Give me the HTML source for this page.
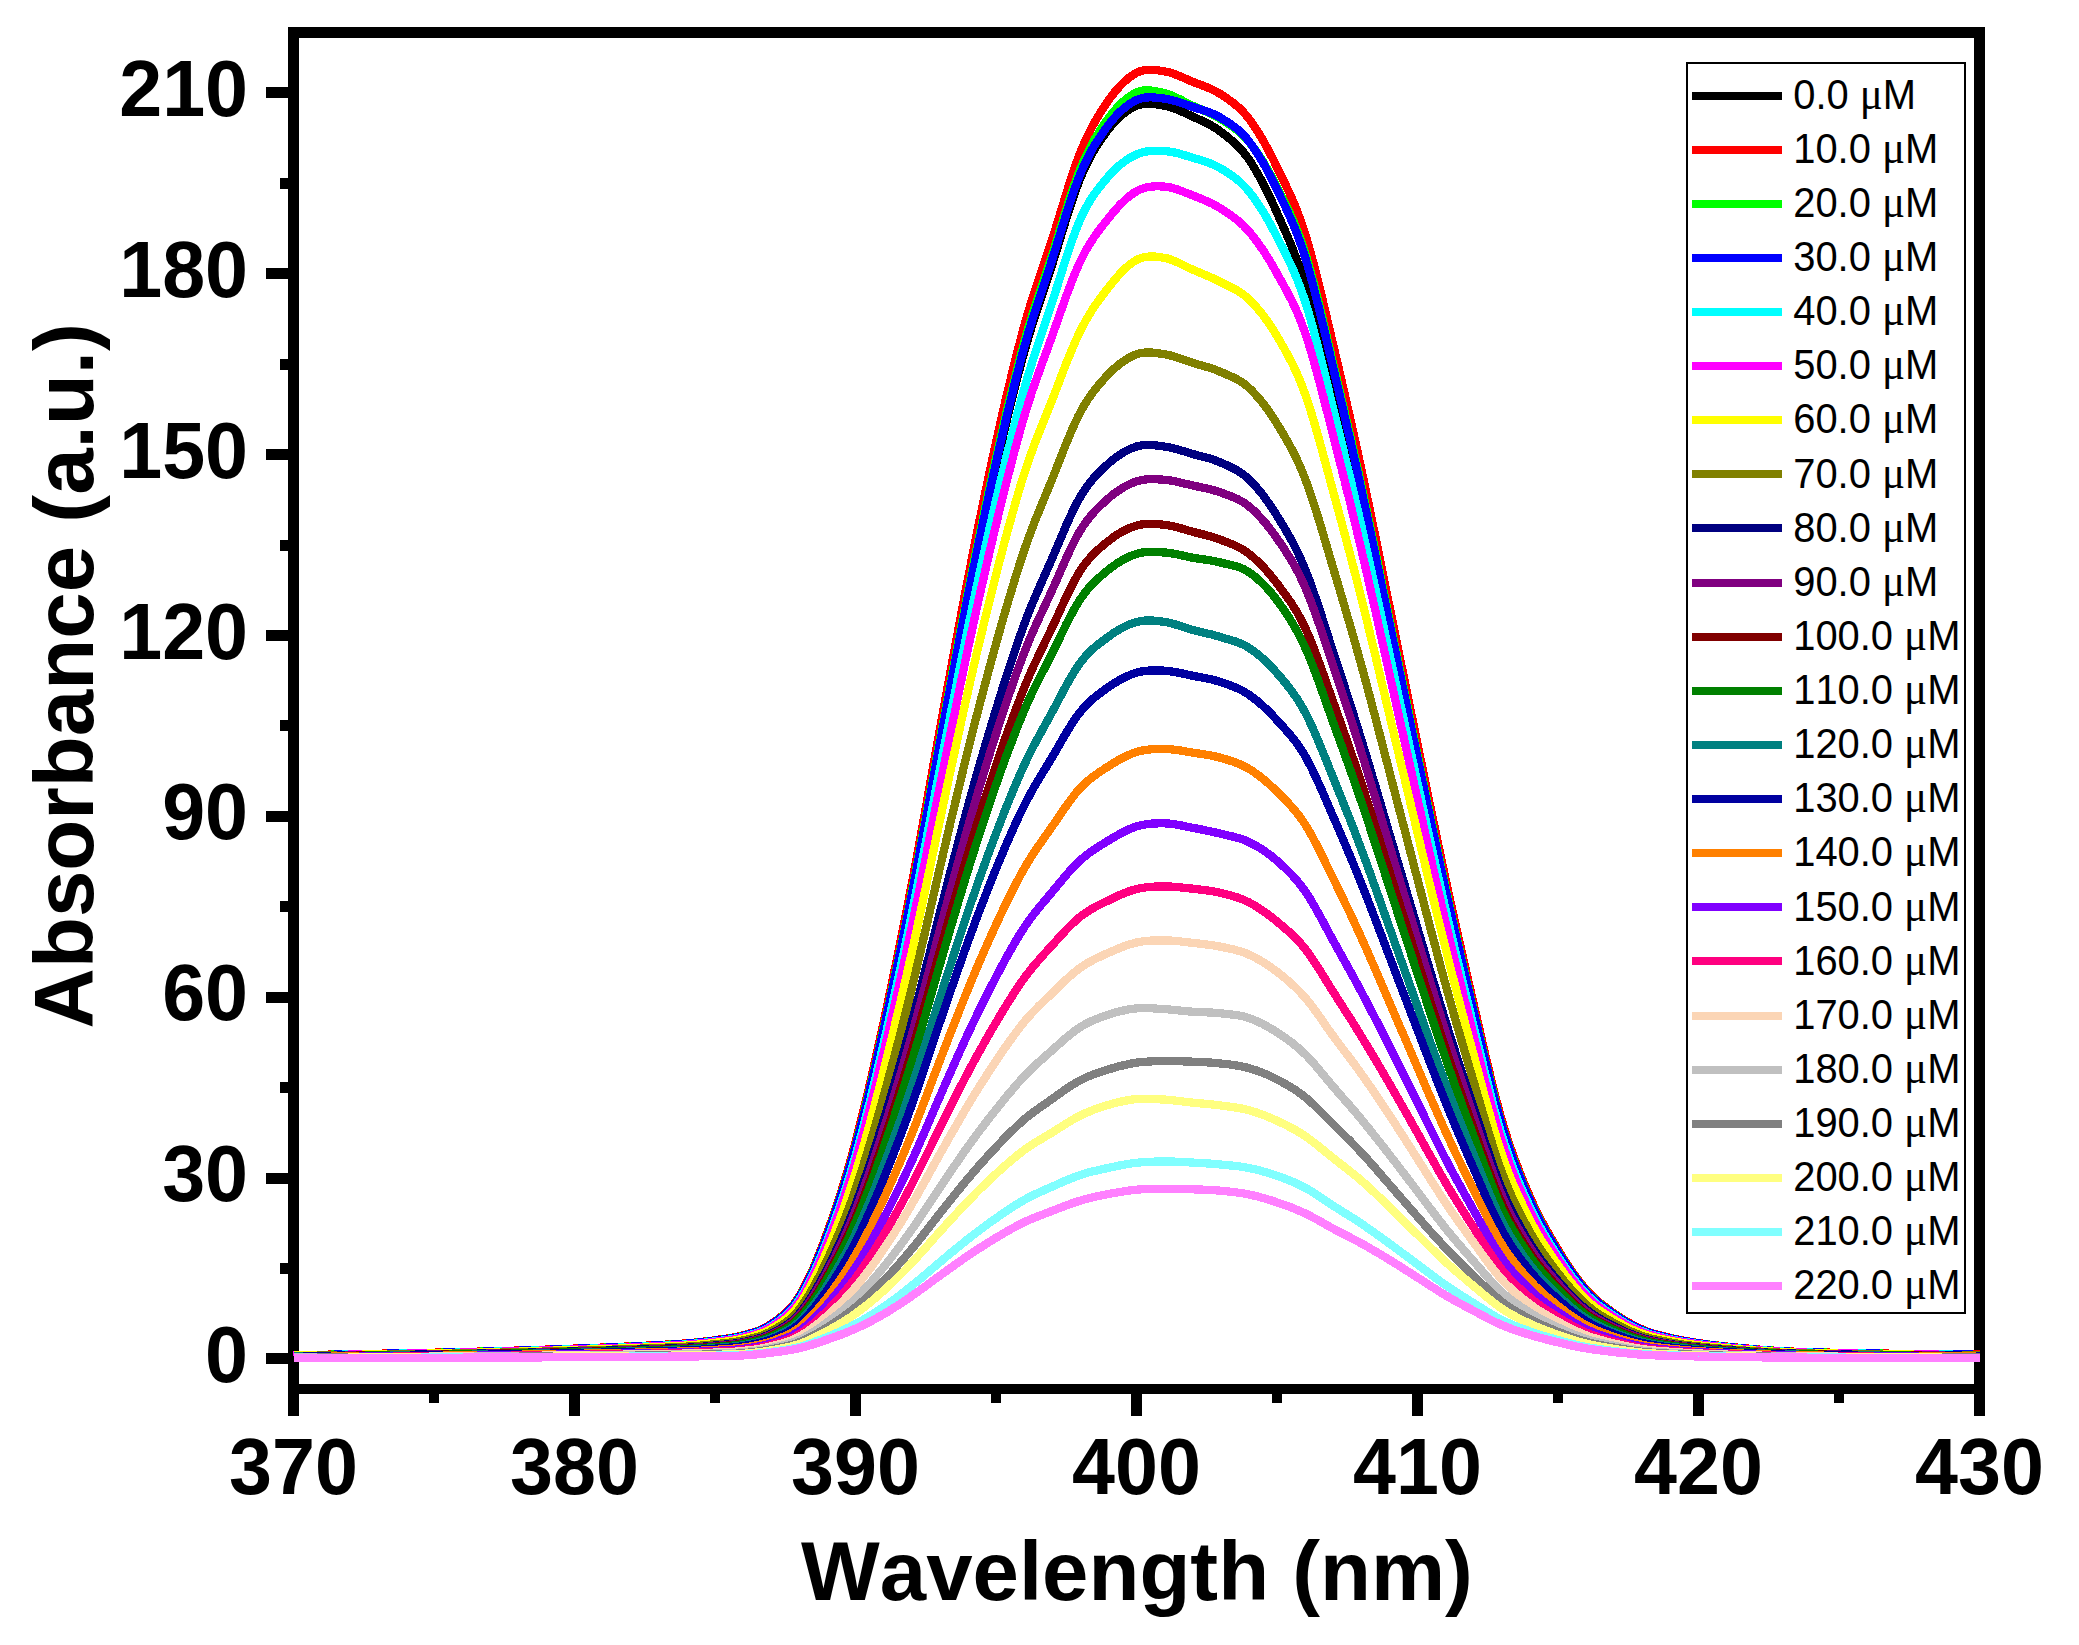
<!DOCTYPE html>
<html><head><meta charset="utf-8"><title>Absorbance spectra</title>
<style>html,body{margin:0;padding:0;background:#fff}svg{display:block}text{font-kerning:none;font-variant-ligatures:none}</style></head>
<body>
<svg width="2079" height="1645" viewBox="0 0 2079 1645">
<rect width="2079" height="1645" fill="#fff"/>
<g fill="#000" shape-rendering="crispEdges">
<rect x="288" y="27" width="1697" height="11"/>
<rect x="288" y="1384" width="1697" height="10"/>
<rect x="288" y="27" width="11" height="1367"/>
<rect x="1974" y="27" width="11" height="1367"/>
<rect x="266" y="1353" width="23" height="11"/>
<rect x="266" y="1173" width="23" height="11"/>
<rect x="266" y="992" width="23" height="11"/>
<rect x="266" y="811" width="23" height="11"/>
<rect x="266" y="630" width="23" height="11"/>
<rect x="266" y="449" width="23" height="11"/>
<rect x="266" y="268" width="23" height="11"/>
<rect x="266" y="87" width="23" height="11"/>
<rect x="280" y="1263" width="9" height="11"/>
<rect x="280" y="1082" width="9" height="11"/>
<rect x="280" y="901" width="9" height="11"/>
<rect x="280" y="720" width="9" height="11"/>
<rect x="280" y="540" width="9" height="11"/>
<rect x="280" y="359" width="9" height="11"/>
<rect x="280" y="178" width="9" height="11"/>
<rect x="288" y="1390" width="11" height="26"/>
<rect x="569" y="1390" width="11" height="26"/>
<rect x="850" y="1390" width="11" height="26"/>
<rect x="1131" y="1390" width="11" height="26"/>
<rect x="1412" y="1390" width="11" height="26"/>
<rect x="1693" y="1390" width="11" height="26"/>
<rect x="1974" y="1390" width="11" height="26"/>
<rect x="429" y="1390" width="10" height="13"/>
<rect x="710" y="1390" width="10" height="13"/>
<rect x="991" y="1390" width="10" height="13"/>
<rect x="1272" y="1390" width="10" height="13"/>
<rect x="1553" y="1390" width="10" height="13"/>
<rect x="1834" y="1390" width="10" height="13"/>
</g>
<clipPath id="c"><rect x="293" y="20" width="1687" height="1380"/></clipPath>
<g clip-path="url(#c)" fill="none" stroke-width="8.3" stroke-linejoin="round" shape-rendering="crispEdges">
<polyline stroke="#000000" points="293.5,1355.2 296.3,1355.2 299.1,1355.2 301.9,1355.1 304.7,1355.1 307.6,1355.1 310.4,1355.0 313.2,1355.0 316.0,1354.9 318.8,1354.9 321.6,1354.9 324.4,1354.8 327.2,1354.8 330.0,1354.7 332.8,1354.7 335.6,1354.6 338.5,1354.6 341.3,1354.5 344.1,1354.5 346.9,1354.4 349.7,1354.4 352.5,1354.3 355.3,1354.3 358.1,1354.2 360.9,1354.2 363.8,1354.1 366.6,1354.1 369.4,1354.0 372.2,1354.0 375.0,1353.9 377.8,1353.9 380.6,1353.8 383.4,1353.8 386.2,1353.7 389.0,1353.7 391.9,1353.6 394.7,1353.6 397.5,1353.5 400.3,1353.5 403.1,1353.4 405.9,1353.4 408.7,1353.3 411.5,1353.3 414.3,1353.2 417.1,1353.2 419.9,1353.1 422.8,1353.1 425.6,1353.0 428.4,1353.0 431.2,1352.9 434.0,1352.9 436.8,1352.8 439.6,1352.7 442.4,1352.7 445.2,1352.6 448.1,1352.6 450.9,1352.5 453.7,1352.4 456.5,1352.4 459.3,1352.3 462.1,1352.2 464.9,1352.2 467.7,1352.1 470.5,1352.0 473.3,1351.9 476.1,1351.9 479.0,1351.8 481.8,1351.7 484.6,1351.6 487.4,1351.6 490.2,1351.5 493.0,1351.4 495.8,1351.3 498.6,1351.3 501.4,1351.2 504.2,1351.1 507.1,1351.0 509.9,1351.0 512.7,1350.9 515.5,1350.8 518.3,1350.7 521.1,1350.6 523.9,1350.6 526.7,1350.5 529.5,1350.4 532.4,1350.3 535.2,1350.2 538.0,1350.1 540.8,1350.0 543.6,1349.9 546.4,1349.8 549.2,1349.8 552.0,1349.7 554.8,1349.6 557.6,1349.5 560.5,1349.4 563.3,1349.3 566.1,1349.1 568.9,1349.0 571.7,1348.9 574.5,1348.8 577.3,1348.7 580.1,1348.6 582.9,1348.5 585.7,1348.4 588.5,1348.4 591.4,1348.3 594.2,1348.2 597.0,1348.1 599.8,1347.9 602.6,1347.8 605.4,1347.7 608.2,1347.6 611.0,1347.5 613.8,1347.4 616.7,1347.3 619.5,1347.2 622.3,1347.1 625.1,1347.0 627.9,1346.8 630.7,1346.7 633.5,1346.6 636.3,1346.5 639.1,1346.3 641.9,1346.2 644.8,1346.1 647.6,1345.9 650.4,1345.8 653.2,1345.6 656.0,1345.5 658.8,1345.3 661.6,1345.2 664.4,1345.0 667.2,1344.9 670.0,1344.8 672.9,1344.6 675.7,1344.5 678.5,1344.3 681.3,1344.1 684.1,1343.9 686.9,1343.7 689.7,1343.5 692.5,1343.2 695.3,1343.0 698.1,1342.7 701.0,1342.4 703.8,1342.1 706.6,1341.8 709.4,1341.4 712.2,1341.1 715.0,1340.7 717.8,1340.3 720.6,1340.0 723.4,1339.6 726.2,1339.2 729.0,1338.8 731.9,1338.4 734.7,1337.9 737.5,1337.3 740.3,1336.7 743.1,1335.9 745.9,1335.2 748.7,1334.4 751.5,1333.6 754.3,1332.7 757.2,1331.8 760.0,1330.8 762.8,1329.6 765.6,1328.2 768.4,1326.7 771.2,1324.9 774.0,1323.0 776.8,1321.0 779.6,1319.0 782.4,1316.8 785.2,1314.5 788.1,1311.8 790.9,1308.9 793.7,1305.6 796.5,1301.9 799.3,1297.7 802.1,1293.0 804.9,1287.9 807.7,1282.4 810.5,1276.6 813.4,1270.4 816.2,1263.9 819.0,1257.2 821.8,1250.2 824.6,1243.0 827.4,1235.6 830.2,1228.0 833.0,1220.1 835.8,1212.1 838.6,1203.7 841.5,1195.1 844.3,1186.2 847.1,1177.1 849.9,1167.6 852.7,1157.9 855.5,1147.8 858.3,1137.4 861.1,1126.6 863.9,1115.5 866.7,1104.1 869.6,1092.4 872.4,1080.5 875.2,1068.4 878.0,1056.1 880.8,1043.7 883.6,1031.2 886.4,1018.6 889.2,1005.8 892.0,992.8 894.8,979.6 897.6,966.3 900.5,952.7 903.3,939.1 906.1,925.2 908.9,911.2 911.7,897.0 914.5,882.6 917.3,867.9 920.1,853.0 922.9,837.9 925.8,822.6 928.6,807.3 931.4,792.0 934.2,776.7 937.0,761.5 939.8,746.6 942.6,731.7 945.4,716.8 948.2,701.8 951.0,687.0 953.9,672.1 956.7,657.4 959.5,642.7 962.3,628.3 965.1,614.0 967.9,599.9 970.7,585.9 973.5,572.1 976.3,558.4 979.1,544.8 982.0,531.4 984.8,518.1 987.6,505.0 990.4,492.1 993.2,479.4 996.0,466.9 998.8,454.6 1001.6,442.4 1004.4,430.4 1007.2,418.5 1010.1,406.9 1012.9,395.4 1015.7,384.2 1018.5,373.3 1021.3,362.7 1024.1,352.4 1026.9,342.5 1029.7,333.1 1032.5,324.0 1035.3,315.2 1038.2,306.7 1041.0,298.3 1043.8,289.9 1046.6,281.6 1049.4,273.1 1052.2,264.5 1055.0,255.7 1057.8,246.6 1060.6,237.4 1063.4,228.1 1066.2,219.0 1069.1,210.0 1071.9,201.4 1074.7,193.1 1077.5,185.4 1080.3,178.3 1083.1,171.8 1085.9,165.7 1088.7,160.1 1091.5,154.8 1094.3,149.9 1097.2,145.3 1100.0,141.0 1102.8,136.9 1105.6,133.1 1108.4,129.4 1111.2,125.9 1114.0,122.7 1116.8,119.7 1119.6,117.0 1122.5,114.5 1125.3,112.3 1128.1,110.3 1130.9,108.6 1133.7,107.1 1136.5,105.8 1139.3,104.8 1142.1,104.1 1144.9,103.7 1147.7,103.6 1150.6,103.6 1153.4,103.9 1156.2,104.3 1159.0,104.7 1161.8,105.3 1164.6,105.8 1167.4,106.4 1170.2,107.2 1173.0,108.1 1175.8,109.1 1178.7,110.3 1181.5,111.4 1184.3,112.7 1187.1,114.0 1189.9,115.3 1192.7,116.6 1195.5,117.9 1198.3,119.2 1201.1,120.4 1203.9,121.8 1206.8,123.1 1209.6,124.6 1212.4,126.2 1215.2,127.9 1218.0,129.7 1220.8,131.8 1223.6,133.9 1226.4,136.1 1229.2,138.4 1232.0,140.7 1234.8,143.3 1237.7,146.0 1240.5,148.9 1243.3,152.1 1246.1,155.6 1248.9,159.5 1251.7,163.7 1254.5,168.2 1257.3,173.0 1260.1,178.1 1263.0,183.4 1265.8,188.9 1268.6,194.6 1271.4,200.5 1274.2,206.6 1277.0,212.7 1279.8,219.0 1282.6,225.3 1285.4,231.7 1288.2,238.2 1291.1,245.0 1293.9,252.1 1296.7,259.5 1299.5,267.2 1302.3,275.5 1305.1,284.2 1307.9,293.6 1310.7,303.5 1313.5,313.9 1316.3,324.7 1319.2,335.8 1322.0,347.1 1324.8,358.6 1327.6,370.2 1330.4,381.7 1333.2,393.1 1336.0,404.5 1338.8,415.9 1341.6,427.4 1344.4,439.1 1347.2,450.8 1350.1,462.6 1352.9,474.5 1355.7,486.5 1358.5,498.7 1361.3,511.0 1364.1,523.5 1366.9,536.2 1369.7,549.0 1372.5,562.0 1375.4,575.1 1378.2,588.2 1381.0,601.4 1383.8,614.5 1386.6,627.6 1389.4,640.7 1392.2,653.6 1395.0,666.6 1397.8,679.6 1400.6,692.6 1403.5,705.6 1406.3,718.6 1409.1,731.6 1411.9,744.5 1414.7,757.4 1417.5,770.3 1420.3,783.1 1423.1,796.0 1425.9,808.8 1428.7,821.6 1431.5,834.4 1434.4,847.1 1437.2,859.8 1440.0,872.3 1442.8,884.8 1445.6,897.1 1448.4,909.3 1451.2,921.4 1454.0,933.4 1456.8,945.3 1459.7,957.1 1462.5,968.9 1465.3,980.6 1468.1,992.2 1470.9,1003.7 1473.7,1015.2 1476.5,1026.8 1479.3,1038.5 1482.1,1050.3 1484.9,1062.1 1487.8,1073.7 1490.6,1085.1 1493.4,1096.2 1496.2,1106.9 1499.0,1117.1 1501.8,1126.7 1504.6,1135.7 1507.4,1144.3 1510.2,1152.5 1513.0,1160.2 1515.9,1167.7 1518.7,1174.8 1521.5,1181.6 1524.3,1188.3 1527.1,1194.8 1529.9,1201.1 1532.7,1207.2 1535.5,1213.1 1538.3,1218.6 1541.1,1223.9 1544.0,1229.0 1546.8,1234.0 1549.6,1238.7 1552.4,1243.4 1555.2,1248.0 1558.0,1252.5 1560.8,1257.0 1563.6,1261.4 1566.4,1265.6 1569.2,1269.7 1572.0,1273.7 1574.9,1277.6 1577.7,1281.3 1580.5,1284.8 1583.3,1288.2 1586.1,1291.4 1588.9,1294.4 1591.7,1297.2 1594.5,1299.8 1597.3,1302.2 1600.2,1304.5 1603.0,1306.6 1605.8,1308.7 1608.6,1310.7 1611.4,1312.7 1614.2,1314.6 1617.0,1316.5 1619.8,1318.3 1622.6,1320.1 1625.4,1321.8 1628.2,1323.4 1631.1,1324.9 1633.9,1326.4 1636.7,1327.8 1639.5,1329.1 1642.3,1330.3 1645.1,1331.4 1647.9,1332.4 1650.7,1333.4 1653.5,1334.2 1656.4,1335.0 1659.2,1335.8 1662.0,1336.5 1664.8,1337.1 1667.6,1337.8 1670.4,1338.4 1673.2,1339.1 1676.0,1339.7 1678.8,1340.2 1681.6,1340.7 1684.5,1341.2 1687.3,1341.7 1690.1,1342.2 1692.9,1342.6 1695.7,1343.0 1698.5,1343.5 1701.3,1343.9 1704.1,1344.2 1706.9,1344.6 1709.7,1345.0 1712.6,1345.3 1715.4,1345.6 1718.2,1345.9 1721.0,1346.2 1723.8,1346.5 1726.6,1346.8 1729.4,1347.1 1732.2,1347.4 1735.0,1347.7 1737.8,1348.0 1740.7,1348.2 1743.5,1348.5 1746.3,1348.8 1749.1,1349.0 1751.9,1349.2 1754.7,1349.5 1757.5,1349.7 1760.3,1349.9 1763.1,1350.1 1765.9,1350.3 1768.8,1350.5 1771.6,1350.7 1774.4,1350.9 1777.2,1351.0 1780.0,1351.2 1782.8,1351.4 1785.6,1351.5 1788.4,1351.6 1791.2,1351.7 1794.0,1351.8 1796.9,1351.9 1799.7,1352.0 1802.5,1352.1 1805.3,1352.2 1808.1,1352.3 1810.9,1352.4 1813.7,1352.4 1816.5,1352.5 1819.3,1352.6 1822.1,1352.6 1825.0,1352.7 1827.8,1352.8 1830.6,1352.8 1833.4,1352.9 1836.2,1352.9 1839.0,1353.0 1841.8,1353.0 1844.6,1353.1 1847.4,1353.1 1850.2,1353.2 1853.1,1353.2 1855.9,1353.3 1858.7,1353.3 1861.5,1353.4 1864.3,1353.4 1867.1,1353.5 1869.9,1353.5 1872.7,1353.6 1875.5,1353.6 1878.3,1353.6 1881.2,1353.7 1884.0,1353.7 1886.8,1353.8 1889.6,1353.8 1892.4,1353.8 1895.2,1353.9 1898.0,1353.9 1900.8,1353.9 1903.6,1354.0 1906.4,1354.0 1909.2,1354.1 1912.1,1354.1 1914.9,1354.1 1917.7,1354.2 1920.5,1354.2 1923.3,1354.2 1926.1,1354.3 1928.9,1354.3 1931.7,1354.3 1934.5,1354.3 1937.4,1354.4 1940.2,1354.4 1943.0,1354.4 1945.8,1354.4 1948.6,1354.5 1951.4,1354.5 1954.2,1354.5 1957.0,1354.5 1959.8,1354.6 1962.6,1354.6 1965.5,1354.6 1968.3,1354.6 1971.1,1354.7 1973.9,1354.7 1976.7,1354.7 1979.5,1354.7"/>
<polyline stroke="#FF0000" points="293.5,1355.2 296.3,1355.1 299.1,1355.1 301.9,1355.0 304.7,1355.0 307.6,1355.0 310.4,1354.9 313.2,1354.9 316.0,1354.8 318.8,1354.8 321.6,1354.8 324.4,1354.7 327.2,1354.7 330.0,1354.6 332.8,1354.6 335.6,1354.5 338.5,1354.5 341.3,1354.4 344.1,1354.4 346.9,1354.3 349.7,1354.2 352.5,1354.2 355.3,1354.1 358.1,1354.1 360.9,1354.0 363.8,1354.0 366.6,1353.9 369.4,1353.9 372.2,1353.8 375.0,1353.8 377.8,1353.7 380.6,1353.7 383.4,1353.6 386.2,1353.6 389.0,1353.5 391.9,1353.5 394.7,1353.4 397.5,1353.4 400.3,1353.3 403.1,1353.3 405.9,1353.2 408.7,1353.2 411.5,1353.1 414.3,1353.1 417.1,1353.0 419.9,1353.0 422.8,1352.9 425.6,1352.9 428.4,1352.8 431.2,1352.8 434.0,1352.7 436.8,1352.6 439.6,1352.6 442.4,1352.5 445.2,1352.5 448.1,1352.4 450.9,1352.3 453.7,1352.3 456.5,1352.2 459.3,1352.1 462.1,1352.1 464.9,1352.0 467.7,1351.9 470.5,1351.8 473.3,1351.8 476.1,1351.7 479.0,1351.6 481.8,1351.5 484.6,1351.4 487.4,1351.4 490.2,1351.3 493.0,1351.2 495.8,1351.1 498.6,1351.1 501.4,1351.0 504.2,1350.9 507.1,1350.8 509.9,1350.8 512.7,1350.7 515.5,1350.6 518.3,1350.5 521.1,1350.4 523.9,1350.3 526.7,1350.3 529.5,1350.2 532.4,1350.1 535.2,1350.0 538.0,1349.9 540.8,1349.8 543.6,1349.7 546.4,1349.6 549.2,1349.5 552.0,1349.4 554.8,1349.3 557.6,1349.2 560.5,1349.1 563.3,1349.0 566.1,1348.9 568.9,1348.8 571.7,1348.7 574.5,1348.6 577.3,1348.5 580.1,1348.4 582.9,1348.3 585.7,1348.2 588.5,1348.1 591.4,1348.0 594.2,1347.9 597.0,1347.8 599.8,1347.7 602.6,1347.5 605.4,1347.4 608.2,1347.3 611.0,1347.2 613.8,1347.1 616.7,1347.0 619.5,1346.9 622.3,1346.8 625.1,1346.6 627.9,1346.5 630.7,1346.4 633.5,1346.3 636.3,1346.1 639.1,1346.0 641.9,1345.9 644.8,1345.7 647.6,1345.6 650.4,1345.4 653.2,1345.3 656.0,1345.1 658.8,1345.0 661.6,1344.8 664.4,1344.7 667.2,1344.5 670.0,1344.4 672.9,1344.2 675.7,1344.1 678.5,1343.9 681.3,1343.7 684.1,1343.5 686.9,1343.3 689.7,1343.1 692.5,1342.8 695.3,1342.5 698.1,1342.2 701.0,1342.0 703.8,1341.6 706.6,1341.3 709.4,1341.0 712.2,1340.6 715.0,1340.2 717.8,1339.8 720.6,1339.4 723.4,1339.1 726.2,1338.7 729.0,1338.3 731.9,1337.8 734.7,1337.3 737.5,1336.7 740.3,1336.1 743.1,1335.3 745.9,1334.5 748.7,1333.7 751.5,1332.9 754.3,1332.0 757.2,1331.1 760.0,1330.0 762.8,1328.8 765.6,1327.4 768.4,1325.8 771.2,1324.0 774.0,1322.0 776.8,1320.0 779.6,1317.9 782.4,1315.7 785.2,1313.3 788.1,1310.6 790.9,1307.6 793.7,1304.2 796.5,1300.3 799.3,1296.0 802.1,1291.2 804.9,1286.0 807.7,1280.3 810.5,1274.4 813.4,1268.0 816.2,1261.4 819.0,1254.4 821.8,1247.3 824.6,1239.9 827.4,1232.2 830.2,1224.4 833.0,1216.4 835.8,1208.1 838.6,1199.5 841.5,1190.7 844.3,1181.5 847.1,1172.1 849.9,1162.4 852.7,1152.4 855.5,1142.1 858.3,1131.4 861.1,1120.3 863.9,1108.9 866.7,1097.1 869.6,1085.1 872.4,1072.9 875.2,1060.5 878.0,1047.8 880.8,1035.1 883.6,1022.3 886.4,1009.3 889.2,996.1 892.0,982.7 894.8,969.2 897.6,955.5 900.5,941.6 903.3,927.6 906.1,913.3 908.9,898.9 911.7,884.4 914.5,869.6 917.3,854.5 920.1,839.1 922.9,823.6 925.8,807.9 928.6,792.2 931.4,776.4 934.2,760.7 937.0,745.2 939.8,729.8 942.6,714.5 945.4,699.2 948.2,683.9 951.0,668.6 953.9,653.3 956.7,638.2 959.5,623.1 962.3,608.2 965.1,593.6 967.9,579.1 970.7,564.7 973.5,550.5 976.3,536.4 979.1,522.4 982.0,508.6 984.8,495.0 987.6,481.5 990.4,468.3 993.2,455.3 996.0,442.5 998.8,429.9 1001.6,417.5 1004.4,405.3 1007.2,393.2 1010.1,381.4 1012.9,369.8 1015.7,358.5 1018.5,347.5 1021.3,336.8 1024.1,326.4 1026.9,316.6 1029.7,307.2 1032.5,298.2 1035.3,289.5 1038.2,281.1 1041.0,272.8 1043.8,264.6 1046.6,256.3 1049.4,248.0 1052.2,239.4 1055.0,230.5 1057.8,221.4 1060.6,212.2 1063.4,203.0 1066.2,193.8 1069.1,184.7 1071.9,176.0 1074.7,167.7 1077.5,159.8 1080.3,152.5 1083.1,145.8 1085.9,139.5 1088.7,133.6 1091.5,128.0 1094.3,122.8 1097.2,117.9 1100.0,113.2 1102.8,108.8 1105.6,104.6 1108.4,100.5 1111.2,96.6 1114.0,93.0 1116.8,89.6 1119.6,86.4 1122.5,83.5 1125.3,80.8 1128.1,78.4 1130.9,76.3 1133.7,74.4 1136.5,72.8 1139.3,71.6 1142.1,70.7 1144.9,70.1 1147.7,69.8 1150.6,69.7 1153.4,69.8 1156.2,70.1 1159.0,70.5 1161.8,70.9 1164.6,71.4 1167.4,71.9 1170.2,72.6 1173.0,73.5 1175.8,74.6 1178.7,75.7 1181.5,76.9 1184.3,78.1 1187.1,79.4 1189.9,80.6 1192.7,81.8 1195.5,82.9 1198.3,84.0 1201.1,85.0 1203.9,86.1 1206.8,87.2 1209.6,88.3 1212.4,89.6 1215.2,91.0 1218.0,92.6 1220.8,94.3 1223.6,96.2 1226.4,98.0 1229.2,100.0 1232.0,102.0 1234.8,104.2 1237.7,106.6 1240.5,109.2 1243.3,112.1 1246.1,115.2 1248.9,118.7 1251.7,122.5 1254.5,126.6 1257.3,130.9 1260.1,135.5 1263.0,140.3 1265.8,145.4 1268.6,150.6 1271.4,156.0 1274.2,161.6 1277.0,167.3 1279.8,173.0 1282.6,178.7 1285.4,184.5 1288.2,190.4 1291.1,196.6 1293.9,203.1 1296.7,209.9 1299.5,217.3 1302.3,225.2 1305.1,233.7 1307.9,243.0 1310.7,252.9 1313.5,263.4 1316.3,274.3 1319.2,285.7 1322.0,297.3 1324.8,309.1 1327.6,321.1 1330.4,333.0 1333.2,344.9 1336.0,356.7 1338.8,368.7 1341.6,380.8 1344.4,393.0 1347.2,405.4 1350.1,417.9 1352.9,430.5 1355.7,443.3 1358.5,456.1 1361.3,469.1 1364.1,482.3 1366.9,495.7 1369.7,509.3 1372.5,523.0 1375.4,536.8 1378.2,550.7 1381.0,564.6 1383.8,578.5 1386.6,592.3 1389.4,606.1 1392.2,619.9 1395.0,633.7 1397.8,647.5 1400.6,661.3 1403.5,675.2 1406.3,689.0 1409.1,702.8 1411.9,716.6 1414.7,730.3 1417.5,744.0 1420.3,757.7 1423.1,771.4 1425.9,785.1 1428.7,798.8 1431.5,812.4 1434.4,826.0 1437.2,839.5 1440.0,852.9 1442.8,866.1 1445.6,879.2 1448.4,892.2 1451.2,905.0 1454.0,917.8 1456.8,930.4 1459.7,942.9 1462.5,955.4 1465.3,967.7 1468.1,980.0 1470.9,992.1 1473.7,1004.2 1476.5,1016.4 1479.3,1028.6 1482.1,1040.9 1484.9,1053.1 1487.8,1065.2 1490.6,1077.0 1493.4,1088.6 1496.2,1099.6 1499.0,1110.2 1501.8,1120.2 1504.6,1129.5 1507.4,1138.4 1510.2,1146.8 1513.0,1154.8 1515.9,1162.4 1518.7,1169.8 1521.5,1176.8 1524.3,1183.6 1527.1,1190.3 1529.9,1196.8 1532.7,1203.1 1535.5,1209.1 1538.3,1214.8 1541.1,1220.3 1544.0,1225.5 1546.8,1230.6 1549.6,1235.5 1552.4,1240.3 1555.2,1245.0 1558.0,1249.6 1560.8,1254.2 1563.6,1258.7 1566.4,1263.1 1569.2,1267.3 1572.0,1271.4 1574.9,1275.4 1577.7,1279.2 1580.5,1282.8 1583.3,1286.3 1586.1,1289.6 1588.9,1292.6 1591.7,1295.5 1594.5,1298.2 1597.3,1300.6 1600.2,1303.0 1603.0,1305.2 1605.8,1307.3 1608.6,1309.4 1611.4,1311.4 1614.2,1313.4 1617.0,1315.4 1619.8,1317.2 1622.6,1319.1 1625.4,1320.8 1628.2,1322.4 1631.1,1324.0 1633.9,1325.5 1636.7,1326.9 1639.5,1328.3 1642.3,1329.5 1645.1,1330.7 1647.9,1331.7 1650.7,1332.7 1653.5,1333.6 1656.4,1334.4 1659.2,1335.1 1662.0,1335.9 1664.8,1336.5 1667.6,1337.2 1670.4,1337.9 1673.2,1338.5 1676.0,1339.2 1678.8,1339.7 1681.6,1340.3 1684.5,1340.8 1687.3,1341.3 1690.1,1341.7 1692.9,1342.2 1695.7,1342.6 1698.5,1343.0 1701.3,1343.5 1704.1,1343.9 1706.9,1344.2 1709.7,1344.6 1712.6,1344.9 1715.4,1345.3 1718.2,1345.6 1721.0,1345.9 1723.8,1346.2 1726.6,1346.5 1729.4,1346.8 1732.2,1347.1 1735.0,1347.4 1737.8,1347.7 1740.7,1348.0 1743.5,1348.2 1746.3,1348.5 1749.1,1348.7 1751.9,1349.0 1754.7,1349.2 1757.5,1349.5 1760.3,1349.7 1763.1,1349.9 1765.9,1350.1 1768.8,1350.3 1771.6,1350.5 1774.4,1350.7 1777.2,1350.8 1780.0,1351.0 1782.8,1351.2 1785.6,1351.3 1788.4,1351.4 1791.2,1351.5 1794.0,1351.7 1796.9,1351.8 1799.7,1351.8 1802.5,1351.9 1805.3,1352.0 1808.1,1352.1 1810.9,1352.2 1813.7,1352.3 1816.5,1352.3 1819.3,1352.4 1822.1,1352.5 1825.0,1352.5 1827.8,1352.6 1830.6,1352.7 1833.4,1352.7 1836.2,1352.8 1839.0,1352.8 1841.8,1352.9 1844.6,1352.9 1847.4,1353.0 1850.2,1353.1 1853.1,1353.1 1855.9,1353.2 1858.7,1353.2 1861.5,1353.3 1864.3,1353.3 1867.1,1353.3 1869.9,1353.4 1872.7,1353.4 1875.5,1353.5 1878.3,1353.5 1881.2,1353.5 1884.0,1353.6 1886.8,1353.6 1889.6,1353.7 1892.4,1353.7 1895.2,1353.7 1898.0,1353.8 1900.8,1353.8 1903.6,1353.9 1906.4,1353.9 1909.2,1353.9 1912.1,1354.0 1914.9,1354.0 1917.7,1354.1 1920.5,1354.1 1923.3,1354.1 1926.1,1354.2 1928.9,1354.2 1931.7,1354.2 1934.5,1354.2 1937.4,1354.3 1940.2,1354.3 1943.0,1354.3 1945.8,1354.3 1948.6,1354.4 1951.4,1354.4 1954.2,1354.4 1957.0,1354.4 1959.8,1354.5 1962.6,1354.5 1965.5,1354.5 1968.3,1354.5 1971.1,1354.6 1973.9,1354.6 1976.7,1354.6 1979.5,1354.6"/>
<polyline stroke="#00FF00" points="293.5,1355.2 296.3,1355.2 299.1,1355.1 301.9,1355.1 304.7,1355.1 307.6,1355.0 310.4,1355.0 313.2,1355.0 316.0,1354.9 318.8,1354.9 321.6,1354.8 324.4,1354.8 327.2,1354.7 330.0,1354.7 332.8,1354.6 335.6,1354.6 338.5,1354.5 341.3,1354.5 344.1,1354.4 346.9,1354.4 349.7,1354.3 352.5,1354.3 355.3,1354.2 358.1,1354.2 360.9,1354.1 363.8,1354.1 366.6,1354.0 369.4,1354.0 372.2,1353.9 375.0,1353.9 377.8,1353.8 380.6,1353.8 383.4,1353.7 386.2,1353.7 389.0,1353.6 391.9,1353.6 394.7,1353.5 397.5,1353.5 400.3,1353.4 403.1,1353.4 405.9,1353.3 408.7,1353.3 411.5,1353.2 414.3,1353.2 417.1,1353.1 419.9,1353.1 422.8,1353.0 425.6,1353.0 428.4,1352.9 431.2,1352.9 434.0,1352.8 436.8,1352.7 439.6,1352.7 442.4,1352.6 445.2,1352.6 448.1,1352.5 450.9,1352.4 453.7,1352.4 456.5,1352.3 459.3,1352.2 462.1,1352.2 464.9,1352.1 467.7,1352.0 470.5,1352.0 473.3,1351.9 476.1,1351.8 479.0,1351.7 481.8,1351.6 484.6,1351.6 487.4,1351.5 490.2,1351.4 493.0,1351.3 495.8,1351.3 498.6,1351.2 501.4,1351.1 504.2,1351.0 507.1,1351.0 509.9,1350.9 512.7,1350.8 515.5,1350.7 518.3,1350.7 521.1,1350.6 523.9,1350.5 526.7,1350.4 529.5,1350.3 532.4,1350.2 535.2,1350.1 538.0,1350.0 540.8,1350.0 543.6,1349.9 546.4,1349.8 549.2,1349.7 552.0,1349.6 554.8,1349.5 557.6,1349.4 560.5,1349.3 563.3,1349.2 566.1,1349.1 568.9,1349.0 571.7,1348.9 574.5,1348.8 577.3,1348.7 580.1,1348.6 582.9,1348.5 585.7,1348.4 588.5,1348.3 591.4,1348.2 594.2,1348.1 597.0,1347.9 599.8,1347.8 602.6,1347.7 605.4,1347.6 608.2,1347.5 611.0,1347.4 613.8,1347.3 616.7,1347.2 619.5,1347.1 622.3,1347.0 625.1,1346.8 627.9,1346.7 630.7,1346.6 633.5,1346.5 636.3,1346.3 639.1,1346.2 641.9,1346.1 644.8,1345.9 647.6,1345.8 650.4,1345.7 653.2,1345.5 656.0,1345.4 658.8,1345.2 661.6,1345.1 664.4,1344.9 667.2,1344.8 670.0,1344.6 672.9,1344.5 675.7,1344.3 678.5,1344.2 681.3,1344.0 684.1,1343.8 686.9,1343.6 689.7,1343.3 692.5,1343.1 695.3,1342.8 698.1,1342.5 701.0,1342.2 703.8,1341.9 706.6,1341.6 709.4,1341.3 712.2,1340.9 715.0,1340.5 717.8,1340.1 720.6,1339.8 723.4,1339.4 726.2,1339.0 729.0,1338.6 731.9,1338.2 734.7,1337.7 737.5,1337.1 740.3,1336.5 743.1,1335.7 745.9,1334.9 748.7,1334.2 751.5,1333.3 754.3,1332.5 757.2,1331.6 760.0,1330.5 762.8,1329.3 765.6,1327.9 768.4,1326.4 771.2,1324.6 774.0,1322.6 776.8,1320.7 779.6,1318.6 782.4,1316.4 785.2,1314.1 788.1,1311.4 790.9,1308.4 793.7,1305.1 796.5,1301.3 799.3,1297.1 802.1,1292.4 804.9,1287.2 807.7,1281.7 810.5,1275.8 813.4,1269.6 816.2,1263.1 819.0,1256.2 821.8,1249.2 824.6,1241.9 827.4,1234.4 830.2,1226.8 833.0,1218.8 835.8,1210.7 838.6,1202.2 841.5,1193.6 844.3,1184.6 847.1,1175.4 849.9,1165.8 852.7,1156.0 855.5,1145.8 858.3,1135.3 861.1,1124.4 863.9,1113.2 866.7,1101.7 869.6,1089.9 872.4,1077.8 875.2,1065.6 878.0,1053.2 880.8,1040.7 883.6,1028.1 886.4,1015.3 889.2,1002.4 892.0,989.3 894.8,976.0 897.6,962.5 900.5,948.8 903.3,935.0 906.1,921.0 908.9,906.9 911.7,892.6 914.5,878.1 917.3,863.2 920.1,848.1 922.9,832.8 925.8,817.4 928.6,802.0 931.4,786.5 934.2,771.1 937.0,755.8 939.8,740.7 942.6,725.7 945.4,710.6 948.2,695.5 951.0,680.5 953.9,665.5 956.7,650.6 959.5,635.9 962.3,621.2 965.1,606.8 967.9,592.6 970.7,578.5 973.5,564.5 976.3,550.7 979.1,537.0 982.0,523.4 984.8,510.0 987.6,496.8 990.4,483.8 993.2,471.0 996.0,458.4 998.8,445.9 1001.6,433.6 1004.4,421.5 1007.2,409.5 1010.1,397.7 1012.9,386.2 1015.7,374.9 1018.5,363.9 1021.3,353.3 1024.1,342.9 1026.9,333.0 1029.7,323.6 1032.5,314.5 1035.3,305.7 1038.2,297.2 1041.0,288.8 1043.8,280.4 1046.6,272.1 1049.4,263.7 1052.2,255.1 1055.0,246.3 1057.8,237.2 1060.6,228.0 1063.4,218.8 1066.2,209.7 1069.1,200.8 1071.9,192.2 1074.7,184.0 1077.5,176.2 1080.3,169.0 1083.1,162.4 1085.9,156.2 1088.7,150.5 1091.5,145.0 1094.3,139.9 1097.2,135.1 1100.0,130.6 1102.8,126.3 1105.6,122.3 1108.4,118.4 1111.2,114.6 1114.0,111.2 1116.8,107.9 1119.6,104.9 1122.5,102.2 1125.3,99.7 1128.1,97.5 1130.9,95.6 1133.7,93.9 1136.5,92.5 1139.3,91.4 1142.1,90.7 1144.9,90.4 1147.7,90.3 1150.6,90.5 1153.4,90.8 1156.2,91.3 1159.0,91.9 1161.8,92.6 1164.6,93.3 1167.4,94.0 1170.2,95.0 1173.0,96.1 1175.8,97.4 1178.7,98.7 1181.5,100.1 1184.3,101.6 1187.1,103.0 1189.9,104.4 1192.7,105.8 1195.5,107.0 1198.3,108.2 1201.1,109.4 1203.9,110.6 1206.8,111.8 1209.6,113.0 1212.4,114.4 1215.2,115.8 1218.0,117.4 1220.8,119.1 1223.6,120.8 1226.4,122.6 1229.2,124.4 1232.0,126.3 1234.8,128.4 1237.7,130.5 1240.5,132.9 1243.3,135.5 1246.1,138.4 1248.9,141.7 1251.7,145.2 1254.5,149.0 1257.3,153.0 1260.1,157.3 1263.0,161.7 1265.8,166.4 1268.6,171.3 1271.4,176.4 1274.2,181.7 1277.0,187.2 1279.8,192.7 1282.6,198.3 1285.4,204.0 1288.2,209.8 1291.1,216.0 1293.9,222.4 1296.7,229.2 1299.5,236.5 1302.3,244.4 1305.1,252.9 1307.9,262.1 1310.7,272.0 1313.5,282.5 1316.3,293.5 1319.2,304.8 1322.0,316.4 1324.8,328.3 1327.6,340.1 1330.4,352.0 1333.2,363.7 1336.0,375.4 1338.8,387.2 1341.6,399.0 1344.4,411.0 1347.2,423.1 1350.1,435.3 1352.9,447.6 1355.7,460.0 1358.5,472.6 1361.3,485.3 1364.1,498.2 1366.9,511.3 1369.7,524.5 1372.5,537.9 1375.4,551.4 1378.2,564.9 1381.0,578.5 1383.8,592.1 1386.6,605.6 1389.4,619.2 1392.2,632.6 1395.0,646.2 1397.8,659.8 1400.6,673.3 1403.5,686.9 1406.3,700.5 1409.1,714.1 1411.9,727.7 1414.7,741.2 1417.5,754.6 1420.3,768.1 1423.1,781.5 1425.9,795.0 1428.7,808.5 1431.5,821.9 1434.4,835.2 1437.2,848.5 1440.0,861.6 1442.8,874.7 1445.6,887.5 1448.4,900.3 1451.2,912.9 1454.0,925.4 1456.8,937.8 1459.7,950.1 1462.5,962.4 1465.3,974.5 1468.1,986.5 1470.9,998.5 1473.7,1010.3 1476.5,1022.3 1479.3,1034.3 1482.1,1046.4 1484.9,1058.4 1487.8,1070.3 1490.6,1081.9 1493.4,1093.2 1496.2,1104.1 1499.0,1114.5 1501.8,1124.3 1504.6,1133.5 1507.4,1142.2 1510.2,1150.5 1513.0,1158.3 1515.9,1165.8 1518.7,1173.0 1521.5,1180.0 1524.3,1186.7 1527.1,1193.2 1529.9,1199.6 1532.7,1205.8 1535.5,1211.7 1538.3,1217.3 1541.1,1222.7 1544.0,1227.8 1546.8,1232.8 1549.6,1237.6 1552.4,1242.3 1555.2,1246.9 1558.0,1251.5 1560.8,1256.0 1563.6,1260.4 1566.4,1264.7 1569.2,1268.9 1572.0,1272.9 1574.9,1276.8 1577.7,1280.6 1580.5,1284.1 1583.3,1287.5 1586.1,1290.8 1588.9,1293.8 1591.7,1296.6 1594.5,1299.2 1597.3,1301.6 1600.2,1303.9 1603.0,1306.1 1605.8,1308.2 1608.6,1310.2 1611.4,1312.2 1614.2,1314.2 1617.0,1316.1 1619.8,1318.0 1622.6,1319.7 1625.4,1321.4 1628.2,1323.1 1631.1,1324.6 1633.9,1326.1 1636.7,1327.5 1639.5,1328.8 1642.3,1330.0 1645.1,1331.2 1647.9,1332.2 1650.7,1333.1 1653.5,1334.0 1656.4,1334.8 1659.2,1335.5 1662.0,1336.2 1664.8,1336.9 1667.6,1337.6 1670.4,1338.2 1673.2,1338.9 1676.0,1339.5 1678.8,1340.0 1681.6,1340.6 1684.5,1341.1 1687.3,1341.6 1690.1,1342.0 1692.9,1342.5 1695.7,1342.9 1698.5,1343.3 1701.3,1343.7 1704.1,1344.1 1706.9,1344.5 1709.7,1344.8 1712.6,1345.2 1715.4,1345.5 1718.2,1345.8 1721.0,1346.1 1723.8,1346.4 1726.6,1346.7 1729.4,1347.0 1732.2,1347.3 1735.0,1347.6 1737.8,1347.9 1740.7,1348.2 1743.5,1348.4 1746.3,1348.7 1749.1,1348.9 1751.9,1349.2 1754.7,1349.4 1757.5,1349.6 1760.3,1349.8 1763.1,1350.0 1765.9,1350.2 1768.8,1350.4 1771.6,1350.6 1774.4,1350.8 1777.2,1351.0 1780.0,1351.1 1782.8,1351.3 1785.6,1351.4 1788.4,1351.5 1791.2,1351.7 1794.0,1351.8 1796.9,1351.9 1799.7,1352.0 1802.5,1352.0 1805.3,1352.1 1808.1,1352.2 1810.9,1352.3 1813.7,1352.4 1816.5,1352.4 1819.3,1352.5 1822.1,1352.6 1825.0,1352.6 1827.8,1352.7 1830.6,1352.8 1833.4,1352.8 1836.2,1352.9 1839.0,1352.9 1841.8,1353.0 1844.6,1353.0 1847.4,1353.1 1850.2,1353.1 1853.1,1353.2 1855.9,1353.2 1858.7,1353.3 1861.5,1353.3 1864.3,1353.4 1867.1,1353.4 1869.9,1353.5 1872.7,1353.5 1875.5,1353.6 1878.3,1353.6 1881.2,1353.6 1884.0,1353.7 1886.8,1353.7 1889.6,1353.7 1892.4,1353.8 1895.2,1353.8 1898.0,1353.9 1900.8,1353.9 1903.6,1353.9 1906.4,1354.0 1909.2,1354.0 1912.1,1354.1 1914.9,1354.1 1917.7,1354.1 1920.5,1354.2 1923.3,1354.2 1926.1,1354.2 1928.9,1354.3 1931.7,1354.3 1934.5,1354.3 1937.4,1354.3 1940.2,1354.4 1943.0,1354.4 1945.8,1354.4 1948.6,1354.4 1951.4,1354.4 1954.2,1354.5 1957.0,1354.5 1959.8,1354.5 1962.6,1354.6 1965.5,1354.6 1968.3,1354.6 1971.1,1354.6 1973.9,1354.7 1976.7,1354.7 1979.5,1354.7"/>
<polyline stroke="#0000FF" points="293.5,1355.2 296.3,1355.2 299.1,1355.2 301.9,1355.1 304.7,1355.1 307.6,1355.0 310.4,1355.0 313.2,1355.0 316.0,1354.9 318.8,1354.9 321.6,1354.8 324.4,1354.8 327.2,1354.8 330.0,1354.7 332.8,1354.7 335.6,1354.6 338.5,1354.6 341.3,1354.5 344.1,1354.4 346.9,1354.4 349.7,1354.3 352.5,1354.3 355.3,1354.2 358.1,1354.2 360.9,1354.1 363.8,1354.1 366.6,1354.0 369.4,1354.0 372.2,1353.9 375.0,1353.9 377.8,1353.8 380.6,1353.8 383.4,1353.7 386.2,1353.7 389.0,1353.6 391.9,1353.6 394.7,1353.5 397.5,1353.5 400.3,1353.4 403.1,1353.4 405.9,1353.3 408.7,1353.3 411.5,1353.2 414.3,1353.2 417.1,1353.1 419.9,1353.1 422.8,1353.0 425.6,1353.0 428.4,1352.9 431.2,1352.9 434.0,1352.8 436.8,1352.8 439.6,1352.7 442.4,1352.7 445.2,1352.6 448.1,1352.5 450.9,1352.5 453.7,1352.4 456.5,1352.3 459.3,1352.3 462.1,1352.2 464.9,1352.1 467.7,1352.1 470.5,1352.0 473.3,1351.9 476.1,1351.8 479.0,1351.8 481.8,1351.7 484.6,1351.6 487.4,1351.5 490.2,1351.4 493.0,1351.4 495.8,1351.3 498.6,1351.2 501.4,1351.2 504.2,1351.1 507.1,1351.0 509.9,1350.9 512.7,1350.9 515.5,1350.8 518.3,1350.7 521.1,1350.6 523.9,1350.5 526.7,1350.4 529.5,1350.4 532.4,1350.3 535.2,1350.2 538.0,1350.1 540.8,1350.0 543.6,1349.9 546.4,1349.8 549.2,1349.7 552.0,1349.6 554.8,1349.5 557.6,1349.4 560.5,1349.3 563.3,1349.2 566.1,1349.1 568.9,1349.0 571.7,1348.9 574.5,1348.8 577.3,1348.7 580.1,1348.6 582.9,1348.5 585.7,1348.4 588.5,1348.3 591.4,1348.2 594.2,1348.1 597.0,1348.0 599.8,1347.9 602.6,1347.8 605.4,1347.7 608.2,1347.6 611.0,1347.5 613.8,1347.4 616.7,1347.3 619.5,1347.1 622.3,1347.0 625.1,1346.9 627.9,1346.8 630.7,1346.7 633.5,1346.5 636.3,1346.4 639.1,1346.3 641.9,1346.1 644.8,1346.0 647.6,1345.9 650.4,1345.7 653.2,1345.6 656.0,1345.4 658.8,1345.3 661.6,1345.1 664.4,1345.0 667.2,1344.8 670.0,1344.7 672.9,1344.6 675.7,1344.4 678.5,1344.2 681.3,1344.1 684.1,1343.9 686.9,1343.6 689.7,1343.4 692.5,1343.2 695.3,1342.9 698.1,1342.6 701.0,1342.3 703.8,1342.0 706.6,1341.7 709.4,1341.4 712.2,1341.0 715.0,1340.6 717.8,1340.2 720.6,1339.9 723.4,1339.5 726.2,1339.1 729.0,1338.7 731.9,1338.3 734.7,1337.8 737.5,1337.2 740.3,1336.6 743.1,1335.8 745.9,1335.1 748.7,1334.3 751.5,1333.5 754.3,1332.6 757.2,1331.7 760.0,1330.6 762.8,1329.5 765.6,1328.1 768.4,1326.5 771.2,1324.7 774.0,1322.8 776.8,1320.9 779.6,1318.8 782.4,1316.7 785.2,1314.3 788.1,1311.6 790.9,1308.7 793.7,1305.4 796.5,1301.6 799.3,1297.4 802.1,1292.7 804.9,1287.6 807.7,1282.1 810.5,1276.2 813.4,1270.0 816.2,1263.5 819.0,1256.8 821.8,1249.7 824.6,1242.5 827.4,1235.1 830.2,1227.4 833.0,1219.6 835.8,1211.4 838.6,1203.1 841.5,1194.4 844.3,1185.5 847.1,1176.3 849.9,1166.8 852.7,1157.0 855.5,1146.9 858.3,1136.5 861.1,1125.6 863.9,1114.5 866.7,1103.0 869.6,1091.3 872.4,1079.3 875.2,1067.1 878.0,1054.8 880.8,1042.4 883.6,1029.8 886.4,1017.1 889.2,1004.2 892.0,991.2 894.8,978.0 897.6,964.6 900.5,951.0 903.3,937.2 906.1,923.3 908.9,909.3 911.7,895.1 914.5,880.6 917.3,865.8 920.1,850.8 922.9,835.6 925.8,820.3 928.6,804.9 931.4,789.5 934.2,774.2 937.0,759.0 939.8,743.9 942.6,729.0 945.4,714.0 948.2,699.0 951.0,684.0 953.9,669.1 956.7,654.3 959.5,639.6 962.3,625.1 965.1,610.7 967.9,596.6 970.7,582.6 973.5,568.7 976.3,554.9 979.1,541.3 982.0,527.8 984.8,514.5 987.6,501.4 990.4,488.4 993.2,475.6 996.0,463.1 998.8,450.7 1001.6,438.4 1004.4,426.3 1007.2,414.3 1010.1,402.6 1012.9,391.1 1015.7,379.8 1018.5,368.8 1021.3,358.1 1024.1,347.7 1026.9,337.8 1029.7,328.3 1032.5,319.2 1035.3,310.4 1038.2,301.7 1041.0,293.3 1043.8,284.9 1046.6,276.5 1049.4,268.1 1052.2,259.5 1055.0,250.6 1057.8,241.6 1060.6,232.5 1063.4,223.3 1066.2,214.3 1069.1,205.4 1071.9,196.9 1074.7,188.7 1077.5,181.1 1080.3,174.0 1083.1,167.5 1085.9,161.5 1088.7,155.9 1091.5,150.6 1094.3,145.7 1097.2,141.1 1100.0,136.8 1102.8,132.7 1105.6,128.8 1108.4,125.0 1111.2,121.4 1114.0,118.1 1116.8,115.0 1119.6,112.2 1122.5,109.5 1125.3,107.2 1128.1,105.0 1130.9,103.1 1133.7,101.5 1136.5,100.1 1139.3,98.9 1142.1,98.1 1144.9,97.6 1147.7,97.4 1150.6,97.3 1153.4,97.4 1156.2,97.7 1159.0,98.0 1161.8,98.3 1164.6,98.7 1167.4,99.1 1170.2,99.7 1173.0,100.4 1175.8,101.2 1178.7,102.1 1181.5,103.0 1184.3,104.0 1187.1,105.0 1189.9,106.0 1192.7,106.9 1195.5,107.9 1198.3,108.8 1201.1,109.6 1203.9,110.5 1206.8,111.5 1209.6,112.5 1212.4,113.6 1215.2,114.8 1218.0,116.2 1220.8,117.9 1223.6,119.6 1226.4,121.3 1229.2,123.2 1232.0,125.1 1234.8,127.2 1237.7,129.5 1240.5,132.0 1243.3,134.8 1246.1,137.9 1248.9,141.3 1251.7,145.0 1254.5,149.0 1257.3,153.3 1260.1,157.9 1263.0,162.6 1265.8,167.6 1268.6,172.9 1271.4,178.3 1274.2,183.8 1277.0,189.5 1279.8,195.3 1282.6,201.1 1285.4,207.0 1288.2,213.1 1291.1,219.4 1293.9,226.1 1296.7,233.1 1299.5,240.6 1302.3,248.6 1305.1,257.2 1307.9,266.5 1310.7,276.4 1313.5,286.9 1316.3,297.9 1319.2,309.2 1322.0,320.9 1324.8,332.6 1327.6,344.5 1330.4,356.3 1333.2,368.0 1336.0,379.7 1338.8,391.5 1341.6,403.3 1344.4,415.3 1347.2,427.4 1350.1,439.6 1352.9,451.9 1355.7,464.3 1358.5,476.8 1361.3,489.5 1364.1,502.4 1366.9,515.4 1369.7,528.7 1372.5,542.0 1375.4,555.4 1378.2,569.0 1381.0,582.5 1383.8,596.1 1386.6,609.6 1389.4,623.0 1392.2,636.5 1395.0,649.9 1397.8,663.4 1400.6,677.0 1403.5,690.5 1406.3,704.0 1409.1,717.5 1411.9,731.0 1414.7,744.4 1417.5,757.8 1420.3,771.1 1423.1,784.5 1425.9,798.0 1428.7,811.3 1431.5,824.7 1434.4,838.0 1437.2,851.2 1440.0,864.3 1442.8,877.2 1445.6,890.0 1448.4,902.7 1451.2,915.2 1454.0,927.7 1456.8,940.0 1459.7,952.3 1462.5,964.4 1465.3,976.5 1468.1,988.5 1470.9,1000.4 1473.7,1012.2 1476.5,1024.0 1479.3,1036.0 1482.1,1048.0 1484.9,1060.0 1487.8,1071.8 1490.6,1083.4 1493.4,1094.6 1496.2,1105.4 1499.0,1115.8 1501.8,1125.5 1504.6,1134.7 1507.4,1143.3 1510.2,1151.5 1513.0,1159.4 1515.9,1166.8 1518.7,1174.0 1521.5,1180.9 1524.3,1187.6 1527.1,1194.1 1529.9,1200.4 1532.7,1206.6 1535.5,1212.5 1538.3,1218.0 1541.1,1223.4 1544.0,1228.5 1546.8,1233.4 1549.6,1238.2 1552.4,1242.9 1555.2,1247.5 1558.0,1252.1 1560.8,1256.6 1563.6,1260.9 1566.4,1265.2 1569.2,1269.4 1572.0,1273.4 1574.9,1277.2 1577.7,1281.0 1580.5,1284.5 1583.3,1287.9 1586.1,1291.1 1588.9,1294.1 1591.7,1296.9 1594.5,1299.5 1597.3,1301.9 1600.2,1304.2 1603.0,1306.4 1605.8,1308.5 1608.6,1310.5 1611.4,1312.5 1614.2,1314.4 1617.0,1316.3 1619.8,1318.2 1622.6,1319.9 1625.4,1321.6 1628.2,1323.2 1631.1,1324.8 1633.9,1326.2 1636.7,1327.6 1639.5,1328.9 1642.3,1330.2 1645.1,1331.3 1647.9,1332.3 1650.7,1333.3 1653.5,1334.1 1656.4,1334.9 1659.2,1335.7 1662.0,1336.4 1664.8,1337.0 1667.6,1337.7 1670.4,1338.4 1673.2,1339.0 1676.0,1339.6 1678.8,1340.1 1681.6,1340.7 1684.5,1341.2 1687.3,1341.6 1690.1,1342.1 1692.9,1342.5 1695.7,1343.0 1698.5,1343.4 1701.3,1343.8 1704.1,1344.2 1706.9,1344.6 1709.7,1344.9 1712.6,1345.2 1715.4,1345.6 1718.2,1345.9 1721.0,1346.2 1723.8,1346.5 1726.6,1346.8 1729.4,1347.1 1732.2,1347.4 1735.0,1347.7 1737.8,1347.9 1740.7,1348.2 1743.5,1348.5 1746.3,1348.7 1749.1,1349.0 1751.9,1349.2 1754.7,1349.4 1757.5,1349.7 1760.3,1349.9 1763.1,1350.1 1765.9,1350.3 1768.8,1350.5 1771.6,1350.7 1774.4,1350.8 1777.2,1351.0 1780.0,1351.2 1782.8,1351.3 1785.6,1351.5 1788.4,1351.6 1791.2,1351.7 1794.0,1351.8 1796.9,1351.9 1799.7,1352.0 1802.5,1352.1 1805.3,1352.2 1808.1,1352.2 1810.9,1352.3 1813.7,1352.4 1816.5,1352.5 1819.3,1352.5 1822.1,1352.6 1825.0,1352.7 1827.8,1352.7 1830.6,1352.8 1833.4,1352.8 1836.2,1352.9 1839.0,1353.0 1841.8,1353.0 1844.6,1353.1 1847.4,1353.1 1850.2,1353.2 1853.1,1353.2 1855.9,1353.3 1858.7,1353.3 1861.5,1353.4 1864.3,1353.4 1867.1,1353.5 1869.9,1353.5 1872.7,1353.5 1875.5,1353.6 1878.3,1353.6 1881.2,1353.7 1884.0,1353.7 1886.8,1353.7 1889.6,1353.8 1892.4,1353.8 1895.2,1353.8 1898.0,1353.9 1900.8,1353.9 1903.6,1354.0 1906.4,1354.0 1909.2,1354.0 1912.1,1354.1 1914.9,1354.1 1917.7,1354.2 1920.5,1354.2 1923.3,1354.2 1926.1,1354.2 1928.9,1354.3 1931.7,1354.3 1934.5,1354.3 1937.4,1354.4 1940.2,1354.4 1943.0,1354.4 1945.8,1354.4 1948.6,1354.4 1951.4,1354.5 1954.2,1354.5 1957.0,1354.5 1959.8,1354.5 1962.6,1354.6 1965.5,1354.6 1968.3,1354.6 1971.1,1354.6 1973.9,1354.7 1976.7,1354.7 1979.5,1354.7"/>
<polyline stroke="#00FFFF" points="293.5,1355.4 296.3,1355.3 299.1,1355.3 301.9,1355.3 304.7,1355.2 307.6,1355.2 310.4,1355.2 313.2,1355.1 316.0,1355.1 318.8,1355.0 321.6,1355.0 324.4,1355.0 327.2,1354.9 330.0,1354.9 332.8,1354.8 335.6,1354.8 338.5,1354.7 341.3,1354.7 344.1,1354.6 346.9,1354.6 349.7,1354.5 352.5,1354.5 355.3,1354.4 358.1,1354.4 360.9,1354.3 363.8,1354.3 366.6,1354.2 369.4,1354.2 372.2,1354.1 375.0,1354.1 377.8,1354.0 380.6,1354.0 383.4,1353.9 386.2,1353.9 389.0,1353.8 391.9,1353.8 394.7,1353.7 397.5,1353.7 400.3,1353.6 403.1,1353.6 405.9,1353.6 408.7,1353.5 411.5,1353.5 414.3,1353.4 417.1,1353.4 419.9,1353.3 422.8,1353.3 425.6,1353.2 428.4,1353.2 431.2,1353.1 434.0,1353.1 436.8,1353.0 439.6,1353.0 442.4,1352.9 445.2,1352.8 448.1,1352.8 450.9,1352.7 453.7,1352.7 456.5,1352.6 459.3,1352.5 462.1,1352.5 464.9,1352.4 467.7,1352.3 470.5,1352.3 473.3,1352.2 476.1,1352.1 479.0,1352.0 481.8,1352.0 484.6,1351.9 487.4,1351.8 490.2,1351.7 493.0,1351.7 495.8,1351.6 498.6,1351.5 501.4,1351.5 504.2,1351.4 507.1,1351.3 509.9,1351.2 512.7,1351.2 515.5,1351.1 518.3,1351.0 521.1,1350.9 523.9,1350.9 526.7,1350.8 529.5,1350.7 532.4,1350.6 535.2,1350.5 538.0,1350.4 540.8,1350.4 543.6,1350.3 546.4,1350.2 549.2,1350.1 552.0,1350.0 554.8,1349.9 557.6,1349.8 560.5,1349.7 563.3,1349.6 566.1,1349.5 568.9,1349.4 571.7,1349.3 574.5,1349.2 577.3,1349.1 580.1,1349.0 582.9,1348.9 585.7,1348.8 588.5,1348.7 591.4,1348.6 594.2,1348.5 597.0,1348.4 599.8,1348.3 602.6,1348.2 605.4,1348.1 608.2,1348.0 611.0,1347.9 613.8,1347.8 616.7,1347.7 619.5,1347.6 622.3,1347.5 625.1,1347.4 627.9,1347.3 630.7,1347.2 633.5,1347.0 636.3,1346.9 639.1,1346.8 641.9,1346.7 644.8,1346.5 647.6,1346.4 650.4,1346.3 653.2,1346.1 656.0,1346.0 658.8,1345.8 661.6,1345.7 664.4,1345.6 667.2,1345.4 670.0,1345.3 672.9,1345.1 675.7,1345.0 678.5,1344.8 681.3,1344.7 684.1,1344.5 686.9,1344.3 689.7,1344.0 692.5,1343.8 695.3,1343.5 698.1,1343.3 701.0,1343.0 703.8,1342.7 706.6,1342.4 709.4,1342.1 712.2,1341.7 715.0,1341.4 717.8,1341.0 720.6,1340.7 723.4,1340.3 726.2,1339.9 729.0,1339.6 731.9,1339.1 734.7,1338.7 737.5,1338.1 740.3,1337.5 743.1,1336.8 745.9,1336.0 748.7,1335.3 751.5,1334.5 754.3,1333.7 757.2,1332.8 760.0,1331.8 762.8,1330.6 765.6,1329.3 768.4,1327.8 771.2,1326.1 774.0,1324.2 776.8,1322.4 779.6,1320.4 782.4,1318.3 785.2,1316.0 788.1,1313.5 790.9,1310.7 793.7,1307.5 796.5,1303.9 799.3,1299.9 802.1,1295.3 804.9,1290.4 807.7,1285.2 810.5,1279.5 813.4,1273.6 816.2,1267.4 819.0,1260.9 821.8,1254.2 824.6,1247.2 827.4,1240.1 830.2,1232.8 833.0,1225.2 835.8,1217.5 838.6,1209.4 841.5,1201.2 844.3,1192.6 847.1,1183.8 849.9,1174.7 852.7,1165.3 855.5,1155.7 858.3,1145.6 861.1,1135.3 863.9,1124.6 866.7,1113.6 869.6,1102.4 872.4,1090.9 875.2,1079.3 878.0,1067.5 880.8,1055.5 883.6,1043.5 886.4,1031.3 889.2,1019.0 892.0,1006.5 894.8,993.8 897.6,981.0 900.5,968.0 903.3,954.8 906.1,941.5 908.9,928.0 911.7,914.4 914.5,900.5 917.3,886.3 920.1,871.9 922.9,857.4 925.8,842.7 928.6,827.9 931.4,813.2 934.2,798.5 937.0,783.9 939.8,769.5 942.6,755.2 945.4,740.8 948.2,726.5 951.0,712.1 953.9,697.9 956.7,683.7 959.5,669.6 962.3,655.6 965.1,641.9 967.9,628.3 970.7,614.9 973.5,601.6 976.3,588.4 979.1,575.4 982.0,562.5 984.8,549.7 987.6,537.1 990.4,524.7 993.2,512.4 996.0,500.4 998.8,488.5 1001.6,476.7 1004.4,465.1 1007.2,453.6 1010.1,442.3 1012.9,431.2 1015.7,420.3 1018.5,409.7 1021.3,399.4 1024.1,389.3 1026.9,379.6 1029.7,370.3 1032.5,361.2 1035.3,352.5 1038.2,343.9 1041.0,335.5 1043.8,327.1 1046.6,318.8 1049.4,310.5 1052.2,302.0 1055.0,293.4 1057.8,284.5 1060.6,275.6 1063.4,266.7 1066.2,257.8 1069.1,249.2 1071.9,241.0 1074.7,233.2 1077.5,225.9 1080.3,219.2 1083.1,213.3 1085.9,207.8 1088.7,202.8 1091.5,198.3 1094.3,194.1 1097.2,190.2 1100.0,186.6 1102.8,183.1 1105.6,179.8 1108.4,176.5 1111.2,173.4 1114.0,170.5 1116.8,167.8 1119.6,165.3 1122.5,163.0 1125.3,160.9 1128.1,159.0 1130.9,157.3 1133.7,155.8 1136.5,154.4 1139.3,153.3 1142.1,152.4 1144.9,151.7 1147.7,151.3 1150.6,151.0 1153.4,150.8 1156.2,150.8 1159.0,150.8 1161.8,151.0 1164.6,151.1 1167.4,151.3 1170.2,151.7 1173.0,152.2 1175.8,152.8 1178.7,153.5 1181.5,154.3 1184.3,155.1 1187.1,156.0 1189.9,156.9 1192.7,157.7 1195.5,158.6 1198.3,159.4 1201.1,160.3 1203.9,161.1 1206.8,162.1 1209.6,163.1 1212.4,164.2 1215.2,165.5 1218.0,166.9 1220.8,168.5 1223.6,170.2 1226.4,171.9 1229.2,173.7 1232.0,175.7 1234.8,177.7 1237.7,180.0 1240.5,182.5 1243.3,185.2 1246.1,188.1 1248.9,191.4 1251.7,194.9 1254.5,198.7 1257.3,202.8 1260.1,207.1 1263.0,211.5 1265.8,216.2 1268.6,221.1 1271.4,226.2 1274.2,231.5 1277.0,236.9 1279.8,242.4 1282.6,247.9 1285.4,253.5 1288.2,259.2 1291.1,265.2 1293.9,271.5 1296.7,278.2 1299.5,285.4 1302.3,293.0 1305.1,301.3 1307.9,310.2 1310.7,319.8 1313.5,330.0 1316.3,340.7 1319.2,351.7 1322.0,362.9 1324.8,374.3 1327.6,385.8 1330.4,397.3 1333.2,408.6 1336.0,419.9 1338.8,431.2 1341.6,442.7 1344.4,454.2 1347.2,465.9 1350.1,477.6 1352.9,489.5 1355.7,501.5 1358.5,513.5 1361.3,525.7 1364.1,538.1 1366.9,550.6 1369.7,563.3 1372.5,576.1 1375.4,588.9 1378.2,601.9 1381.0,614.8 1383.8,627.8 1386.6,640.8 1389.4,653.7 1392.2,666.5 1395.0,679.4 1397.8,692.4 1400.6,705.3 1403.5,718.3 1406.3,731.3 1409.1,744.2 1411.9,757.1 1414.7,770.0 1417.5,782.8 1420.3,795.6 1423.1,808.5 1425.9,821.3 1428.7,834.1 1431.5,846.9 1434.4,859.6 1437.2,872.3 1440.0,884.8 1442.8,897.3 1445.6,909.5 1448.4,921.7 1451.2,933.7 1454.0,945.6 1456.8,957.4 1459.7,969.2 1462.5,980.8 1465.3,992.4 1468.1,1003.8 1470.9,1015.2 1473.7,1026.5 1476.5,1037.9 1479.3,1049.4 1482.1,1060.9 1484.9,1072.3 1487.8,1083.6 1490.6,1094.7 1493.4,1105.5 1496.2,1115.9 1499.0,1125.8 1501.8,1135.1 1504.6,1143.9 1507.4,1152.2 1510.2,1160.1 1513.0,1167.5 1515.9,1174.7 1518.7,1181.6 1521.5,1188.2 1524.3,1194.6 1527.1,1200.8 1529.9,1206.9 1532.7,1212.8 1535.5,1218.4 1538.3,1223.8 1541.1,1228.9 1544.0,1233.8 1546.8,1238.5 1549.6,1243.2 1552.4,1247.6 1555.2,1252.1 1558.0,1256.4 1560.8,1260.7 1563.6,1264.9 1566.4,1269.0 1569.2,1273.0 1572.0,1276.8 1574.9,1280.6 1577.7,1284.1 1580.5,1287.5 1583.3,1290.8 1586.1,1293.9 1588.9,1296.8 1591.7,1299.4 1594.5,1301.9 1597.3,1304.3 1600.2,1306.4 1603.0,1308.5 1605.8,1310.5 1608.6,1312.5 1611.4,1314.4 1614.2,1316.2 1617.0,1318.1 1619.8,1319.8 1622.6,1321.5 1625.4,1323.1 1628.2,1324.7 1631.1,1326.2 1633.9,1327.6 1636.7,1328.9 1639.5,1330.2 1642.3,1331.3 1645.1,1332.4 1647.9,1333.4 1650.7,1334.3 1653.5,1335.2 1656.4,1335.9 1659.2,1336.6 1662.0,1337.3 1664.8,1337.9 1667.6,1338.6 1670.4,1339.2 1673.2,1339.8 1676.0,1340.4 1678.8,1340.9 1681.6,1341.4 1684.5,1341.9 1687.3,1342.3 1690.1,1342.8 1692.9,1343.2 1695.7,1343.6 1698.5,1344.0 1701.3,1344.4 1704.1,1344.8 1706.9,1345.1 1709.7,1345.5 1712.6,1345.8 1715.4,1346.1 1718.2,1346.4 1721.0,1346.7 1723.8,1347.0 1726.6,1347.3 1729.4,1347.6 1732.2,1347.8 1735.0,1348.1 1737.8,1348.4 1740.7,1348.6 1743.5,1348.9 1746.3,1349.1 1749.1,1349.4 1751.9,1349.6 1754.7,1349.8 1757.5,1350.0 1760.3,1350.2 1763.1,1350.4 1765.9,1350.6 1768.8,1350.8 1771.6,1351.0 1774.4,1351.2 1777.2,1351.3 1780.0,1351.5 1782.8,1351.6 1785.6,1351.8 1788.4,1351.9 1791.2,1352.0 1794.0,1352.1 1796.9,1352.2 1799.7,1352.3 1802.5,1352.3 1805.3,1352.4 1808.1,1352.5 1810.9,1352.6 1813.7,1352.7 1816.5,1352.7 1819.3,1352.8 1822.1,1352.9 1825.0,1352.9 1827.8,1353.0 1830.6,1353.0 1833.4,1353.1 1836.2,1353.1 1839.0,1353.2 1841.8,1353.2 1844.6,1353.3 1847.4,1353.3 1850.2,1353.4 1853.1,1353.4 1855.9,1353.5 1858.7,1353.5 1861.5,1353.6 1864.3,1353.6 1867.1,1353.7 1869.9,1353.7 1872.7,1353.8 1875.5,1353.8 1878.3,1353.8 1881.2,1353.9 1884.0,1353.9 1886.8,1353.9 1889.6,1354.0 1892.4,1354.0 1895.2,1354.0 1898.0,1354.1 1900.8,1354.1 1903.6,1354.1 1906.4,1354.2 1909.2,1354.2 1912.1,1354.3 1914.9,1354.3 1917.7,1354.3 1920.5,1354.4 1923.3,1354.4 1926.1,1354.4 1928.9,1354.5 1931.7,1354.5 1934.5,1354.5 1937.4,1354.5 1940.2,1354.5 1943.0,1354.6 1945.8,1354.6 1948.6,1354.6 1951.4,1354.6 1954.2,1354.7 1957.0,1354.7 1959.8,1354.7 1962.6,1354.7 1965.5,1354.8 1968.3,1354.8 1971.1,1354.8 1973.9,1354.8 1976.7,1354.9 1979.5,1354.9"/>
<polyline stroke="#FF00FF" points="293.5,1355.5 296.3,1355.4 299.1,1355.4 301.9,1355.3 304.7,1355.3 307.6,1355.3 310.4,1355.2 313.2,1355.2 316.0,1355.2 318.8,1355.1 321.6,1355.1 324.4,1355.1 327.2,1355.0 330.0,1355.0 332.8,1354.9 335.6,1354.9 338.5,1354.8 341.3,1354.8 344.1,1354.7 346.9,1354.7 349.7,1354.6 352.5,1354.6 355.3,1354.5 358.1,1354.5 360.9,1354.4 363.8,1354.4 366.6,1354.3 369.4,1354.3 372.2,1354.3 375.0,1354.2 377.8,1354.2 380.6,1354.1 383.4,1354.1 386.2,1354.0 389.0,1354.0 391.9,1353.9 394.7,1353.9 397.5,1353.8 400.3,1353.8 403.1,1353.7 405.9,1353.7 408.7,1353.6 411.5,1353.6 414.3,1353.6 417.1,1353.5 419.9,1353.5 422.8,1353.4 425.6,1353.4 428.4,1353.3 431.2,1353.3 434.0,1353.2 436.8,1353.2 439.6,1353.1 442.4,1353.1 445.2,1353.0 448.1,1352.9 450.9,1352.9 453.7,1352.8 456.5,1352.8 459.3,1352.7 462.1,1352.6 464.9,1352.6 467.7,1352.5 470.5,1352.4 473.3,1352.4 476.1,1352.3 479.0,1352.2 481.8,1352.1 484.6,1352.1 487.4,1352.0 490.2,1351.9 493.0,1351.9 495.8,1351.8 498.6,1351.7 501.4,1351.7 504.2,1351.6 507.1,1351.5 509.9,1351.4 512.7,1351.4 515.5,1351.3 518.3,1351.2 521.1,1351.2 523.9,1351.1 526.7,1351.0 529.5,1350.9 532.4,1350.8 535.2,1350.8 538.0,1350.7 540.8,1350.6 543.6,1350.5 546.4,1350.4 549.2,1350.3 552.0,1350.2 554.8,1350.1 557.6,1350.0 560.5,1349.9 563.3,1349.9 566.1,1349.8 568.9,1349.7 571.7,1349.6 574.5,1349.5 577.3,1349.4 580.1,1349.3 582.9,1349.2 585.7,1349.1 588.5,1349.0 591.4,1348.9 594.2,1348.8 597.0,1348.7 599.8,1348.6 602.6,1348.5 605.4,1348.4 608.2,1348.3 611.0,1348.2 613.8,1348.1 616.7,1348.0 619.5,1347.9 622.3,1347.8 625.1,1347.7 627.9,1347.6 630.7,1347.5 633.5,1347.4 636.3,1347.2 639.1,1347.1 641.9,1347.0 644.8,1346.9 647.6,1346.7 650.4,1346.6 653.2,1346.5 656.0,1346.3 658.8,1346.2 661.6,1346.1 664.4,1345.9 667.2,1345.8 670.0,1345.7 672.9,1345.5 675.7,1345.4 678.5,1345.2 681.3,1345.1 684.1,1344.9 686.9,1344.7 689.7,1344.4 692.5,1344.2 695.3,1344.0 698.1,1343.7 701.0,1343.4 703.8,1343.2 706.6,1342.9 709.4,1342.5 712.2,1342.2 715.0,1341.8 717.8,1341.5 720.6,1341.2 723.4,1340.8 726.2,1340.5 729.0,1340.1 731.9,1339.7 734.7,1339.2 737.5,1338.7 740.3,1338.1 743.1,1337.4 745.9,1336.7 748.7,1335.9 751.5,1335.2 754.3,1334.4 757.2,1333.5 760.0,1332.5 762.8,1331.4 765.6,1330.1 768.4,1328.6 771.2,1327.0 774.0,1325.2 776.8,1323.3 779.6,1321.4 782.4,1319.4 785.2,1317.2 788.1,1314.7 790.9,1312.0 793.7,1308.9 796.5,1305.4 799.3,1301.5 802.1,1297.1 804.9,1292.3 807.7,1287.2 810.5,1281.7 813.4,1276.0 816.2,1269.9 819.0,1263.6 821.8,1257.1 824.6,1250.3 827.4,1243.4 830.2,1236.3 833.0,1229.0 835.8,1221.4 838.6,1213.6 841.5,1205.6 844.3,1197.3 847.1,1188.7 849.9,1179.9 852.7,1170.8 855.5,1161.4 858.3,1151.7 861.1,1141.6 863.9,1131.2 866.7,1120.6 869.6,1109.6 872.4,1098.5 875.2,1087.2 878.0,1075.7 880.8,1064.1 883.6,1052.5 886.4,1040.7 889.2,1028.7 892.0,1016.5 894.8,1004.2 897.6,991.7 900.5,979.1 903.3,966.3 906.1,953.3 908.9,940.2 911.7,927.0 914.5,913.5 917.3,899.8 920.1,885.8 922.9,871.6 925.8,857.4 928.6,843.1 931.4,828.7 934.2,814.4 937.0,800.3 939.8,786.3 942.6,772.4 945.4,758.4 948.2,744.5 951.0,730.5 953.9,716.7 956.7,702.9 959.5,689.2 962.3,675.7 965.1,662.3 967.9,649.1 970.7,636.1 973.5,623.2 976.3,610.3 979.1,597.7 982.0,585.1 984.8,572.7 987.6,560.5 990.4,548.4 993.2,536.5 996.0,524.8 998.8,513.2 1001.6,501.8 1004.4,490.4 1007.2,479.2 1010.1,468.2 1012.9,457.4 1015.7,446.8 1018.5,436.5 1021.3,426.6 1024.1,416.9 1026.9,407.7 1029.7,398.9 1032.5,390.4 1035.3,382.2 1038.2,374.3 1041.0,366.5 1043.8,358.8 1046.6,351.2 1049.4,343.5 1052.2,335.8 1055.0,327.9 1057.8,320.0 1060.6,312.0 1063.4,304.0 1066.2,296.2 1069.1,288.5 1071.9,281.2 1074.7,274.1 1077.5,267.5 1080.3,261.3 1083.1,255.7 1085.9,250.4 1088.7,245.6 1091.5,241.1 1094.3,236.8 1097.2,232.8 1100.0,229.0 1102.8,225.3 1105.6,221.8 1108.4,218.3 1111.2,214.8 1114.0,211.5 1116.8,208.3 1119.6,205.2 1122.5,202.4 1125.3,199.7 1128.1,197.2 1130.9,195.0 1133.7,193.0 1136.5,191.3 1139.3,189.8 1142.1,188.7 1144.9,187.8 1147.7,187.1 1150.6,186.7 1153.4,186.4 1156.2,186.3 1159.0,186.3 1161.8,186.4 1164.6,186.6 1167.4,186.9 1170.2,187.4 1173.0,188.1 1175.8,189.0 1178.7,189.9 1181.5,191.0 1184.3,192.1 1187.1,193.2 1189.9,194.3 1192.7,195.4 1195.5,196.5 1198.3,197.7 1201.1,198.8 1203.9,200.0 1206.8,201.2 1209.6,202.5 1212.4,203.8 1215.2,205.3 1218.0,206.9 1220.8,208.6 1223.6,210.4 1226.4,212.3 1229.2,214.1 1232.0,216.1 1234.8,218.2 1237.7,220.4 1240.5,222.8 1243.3,225.4 1246.1,228.3 1248.9,231.4 1251.7,234.7 1254.5,238.3 1257.3,242.0 1260.1,246.0 1263.0,250.1 1265.8,254.4 1268.6,258.9 1271.4,263.6 1274.2,268.5 1277.0,273.5 1279.8,278.5 1282.6,283.5 1285.4,288.6 1288.2,293.9 1291.1,299.3 1293.9,305.1 1296.7,311.3 1299.5,317.9 1302.3,325.1 1305.1,332.8 1307.9,341.3 1310.7,350.4 1313.5,360.1 1316.3,370.3 1319.2,380.9 1322.0,391.7 1324.8,402.6 1327.6,413.7 1330.4,424.7 1333.2,435.7 1336.0,446.6 1338.8,457.6 1341.6,468.7 1344.4,479.9 1347.2,491.2 1350.1,502.6 1352.9,514.2 1355.7,525.8 1358.5,537.6 1361.3,549.4 1364.1,561.4 1366.9,573.6 1369.7,585.9 1372.5,598.3 1375.4,610.8 1378.2,623.4 1381.0,636.0 1383.8,648.6 1386.6,661.2 1389.4,673.7 1392.2,686.2 1395.0,698.8 1397.8,711.4 1400.6,723.9 1403.5,736.5 1406.3,749.1 1409.1,761.7 1411.9,774.2 1414.7,786.7 1417.5,799.2 1420.3,811.6 1423.1,824.1 1425.9,836.6 1428.7,849.1 1431.5,861.5 1434.4,873.9 1437.2,886.1 1440.0,898.3 1442.8,910.4 1445.6,922.3 1448.4,934.1 1451.2,945.8 1454.0,957.4 1456.8,968.8 1459.7,980.2 1462.5,991.5 1465.3,1002.8 1468.1,1013.9 1470.9,1025.0 1473.7,1036.0 1476.5,1047.0 1479.3,1058.1 1482.1,1069.3 1484.9,1080.4 1487.8,1091.4 1490.6,1102.2 1493.4,1112.6 1496.2,1122.7 1499.0,1132.3 1501.8,1141.4 1504.6,1149.9 1507.4,1158.0 1510.2,1165.6 1513.0,1172.9 1515.9,1179.9 1518.7,1186.5 1521.5,1192.9 1524.3,1199.1 1527.1,1205.2 1529.9,1211.1 1532.7,1216.9 1535.5,1222.3 1538.3,1227.5 1541.1,1232.5 1544.0,1237.3 1546.8,1241.9 1549.6,1246.4 1552.4,1250.7 1555.2,1255.0 1558.0,1259.3 1560.8,1263.4 1563.6,1267.5 1566.4,1271.5 1569.2,1275.4 1572.0,1279.1 1574.9,1282.7 1577.7,1286.2 1580.5,1289.5 1583.3,1292.7 1586.1,1295.7 1588.9,1298.5 1591.7,1301.1 1594.5,1303.5 1597.3,1305.8 1600.2,1307.9 1603.0,1309.9 1605.8,1311.9 1608.6,1313.8 1611.4,1315.6 1614.2,1317.4 1617.0,1319.2 1619.8,1320.9 1622.6,1322.6 1625.4,1324.1 1628.2,1325.6 1631.1,1327.1 1633.9,1328.4 1636.7,1329.7 1639.5,1331.0 1642.3,1332.1 1645.1,1333.2 1647.9,1334.1 1650.7,1335.0 1653.5,1335.8 1656.4,1336.6 1659.2,1337.2 1662.0,1337.9 1664.8,1338.5 1667.6,1339.1 1670.4,1339.7 1673.2,1340.3 1676.0,1340.9 1678.8,1341.4 1681.6,1341.9 1684.5,1342.4 1687.3,1342.8 1690.1,1343.2 1692.9,1343.6 1695.7,1344.0 1698.5,1344.4 1701.3,1344.8 1704.1,1345.2 1706.9,1345.5 1709.7,1345.8 1712.6,1346.2 1715.4,1346.5 1718.2,1346.7 1721.0,1347.0 1723.8,1347.3 1726.6,1347.6 1729.4,1347.9 1732.2,1348.1 1735.0,1348.4 1737.8,1348.7 1740.7,1348.9 1743.5,1349.2 1746.3,1349.4 1749.1,1349.6 1751.9,1349.8 1754.7,1350.1 1757.5,1350.3 1760.3,1350.5 1763.1,1350.7 1765.9,1350.9 1768.8,1351.0 1771.6,1351.2 1774.4,1351.4 1777.2,1351.5 1780.0,1351.7 1782.8,1351.8 1785.6,1351.9 1788.4,1352.1 1791.2,1352.2 1794.0,1352.3 1796.9,1352.4 1799.7,1352.4 1802.5,1352.5 1805.3,1352.6 1808.1,1352.7 1810.9,1352.8 1813.7,1352.8 1816.5,1352.9 1819.3,1353.0 1822.1,1353.0 1825.0,1353.1 1827.8,1353.1 1830.6,1353.2 1833.4,1353.2 1836.2,1353.3 1839.0,1353.3 1841.8,1353.4 1844.6,1353.4 1847.4,1353.5 1850.2,1353.5 1853.1,1353.6 1855.9,1353.6 1858.7,1353.7 1861.5,1353.7 1864.3,1353.8 1867.1,1353.8 1869.9,1353.8 1872.7,1353.9 1875.5,1353.9 1878.3,1354.0 1881.2,1354.0 1884.0,1354.0 1886.8,1354.1 1889.6,1354.1 1892.4,1354.1 1895.2,1354.2 1898.0,1354.2 1900.8,1354.2 1903.6,1354.3 1906.4,1354.3 1909.2,1354.3 1912.1,1354.4 1914.9,1354.4 1917.7,1354.5 1920.5,1354.5 1923.3,1354.5 1926.1,1354.5 1928.9,1354.6 1931.7,1354.6 1934.5,1354.6 1937.4,1354.6 1940.2,1354.7 1943.0,1354.7 1945.8,1354.7 1948.6,1354.7 1951.4,1354.7 1954.2,1354.8 1957.0,1354.8 1959.8,1354.8 1962.6,1354.8 1965.5,1354.9 1968.3,1354.9 1971.1,1354.9 1973.9,1354.9 1976.7,1355.0 1979.5,1355.0"/>
<polyline stroke="#FFFF00" points="293.5,1355.6 296.3,1355.6 299.1,1355.6 301.9,1355.5 304.7,1355.5 307.6,1355.5 310.4,1355.4 313.2,1355.4 316.0,1355.4 318.8,1355.3 321.6,1355.3 324.4,1355.3 327.2,1355.2 330.0,1355.2 332.8,1355.1 335.6,1355.1 338.5,1355.0 341.3,1355.0 344.1,1355.0 346.9,1354.9 349.7,1354.9 352.5,1354.8 355.3,1354.8 358.1,1354.7 360.9,1354.7 363.8,1354.6 366.6,1354.6 369.4,1354.6 372.2,1354.5 375.0,1354.5 377.8,1354.4 380.6,1354.4 383.4,1354.3 386.2,1354.3 389.0,1354.2 391.9,1354.2 394.7,1354.2 397.5,1354.1 400.3,1354.1 403.1,1354.0 405.9,1354.0 408.7,1353.9 411.5,1353.9 414.3,1353.9 417.1,1353.8 419.9,1353.8 422.8,1353.7 425.6,1353.7 428.4,1353.6 431.2,1353.6 434.0,1353.5 436.8,1353.5 439.6,1353.4 442.4,1353.4 445.2,1353.3 448.1,1353.3 450.9,1353.2 453.7,1353.2 456.5,1353.1 459.3,1353.0 462.1,1353.0 464.9,1352.9 467.7,1352.9 470.5,1352.8 473.3,1352.7 476.1,1352.7 479.0,1352.6 481.8,1352.5 484.6,1352.5 487.4,1352.4 490.2,1352.3 493.0,1352.3 495.8,1352.2 498.6,1352.1 501.4,1352.1 504.2,1352.0 507.1,1351.9 509.9,1351.9 512.7,1351.8 515.5,1351.7 518.3,1351.7 521.1,1351.6 523.9,1351.5 526.7,1351.4 529.5,1351.4 532.4,1351.3 535.2,1351.2 538.0,1351.1 540.8,1351.1 543.6,1351.0 546.4,1350.9 549.2,1350.8 552.0,1350.7 554.8,1350.6 557.6,1350.6 560.5,1350.5 563.3,1350.4 566.1,1350.3 568.9,1350.2 571.7,1350.1 574.5,1350.0 577.3,1349.9 580.1,1349.8 582.9,1349.8 585.7,1349.7 588.5,1349.6 591.4,1349.5 594.2,1349.4 597.0,1349.3 599.8,1349.2 602.6,1349.1 605.4,1349.0 608.2,1348.9 611.0,1348.9 613.8,1348.8 616.7,1348.7 619.5,1348.6 622.3,1348.5 625.1,1348.4 627.9,1348.2 630.7,1348.1 633.5,1348.0 636.3,1347.9 639.1,1347.8 641.9,1347.7 644.8,1347.6 647.6,1347.4 650.4,1347.3 653.2,1347.2 656.0,1347.1 658.8,1346.9 661.6,1346.8 664.4,1346.7 667.2,1346.6 670.0,1346.4 672.9,1346.3 675.7,1346.2 678.5,1346.0 681.3,1345.9 684.1,1345.7 686.9,1345.5 689.7,1345.3 692.5,1345.1 695.3,1344.8 698.1,1344.6 701.0,1344.3 703.8,1344.1 706.6,1343.8 709.4,1343.5 712.2,1343.2 715.0,1342.9 717.8,1342.5 720.6,1342.2 723.4,1341.9 726.2,1341.6 729.0,1341.2 731.9,1340.8 734.7,1340.4 737.5,1339.9 740.3,1339.3 743.1,1338.7 745.9,1338.0 748.7,1337.3 751.5,1336.6 754.3,1335.8 757.2,1335.0 760.0,1334.0 762.8,1333.0 765.6,1331.7 768.4,1330.4 771.2,1328.8 774.0,1327.1 776.8,1325.4 779.6,1323.6 782.4,1321.6 785.2,1319.5 788.1,1317.2 790.9,1314.6 793.7,1311.7 796.5,1308.4 799.3,1304.7 802.1,1300.6 804.9,1296.1 807.7,1291.3 810.5,1286.2 813.4,1280.8 816.2,1275.1 819.0,1269.1 821.8,1263.0 824.6,1256.7 827.4,1250.1 830.2,1243.5 833.0,1236.6 835.8,1229.5 838.6,1222.2 841.5,1214.6 844.3,1206.9 847.1,1198.8 849.9,1190.5 852.7,1182.0 855.5,1173.2 858.3,1164.0 861.1,1154.6 863.9,1144.8 866.7,1134.8 869.6,1124.6 872.4,1114.1 875.2,1103.5 878.0,1092.7 880.8,1081.8 883.6,1070.9 886.4,1059.8 889.2,1048.5 892.0,1037.1 894.8,1025.5 897.6,1013.8 900.5,1001.9 903.3,989.9 906.1,977.7 908.9,965.4 911.7,953.0 914.5,940.3 917.3,927.4 920.1,914.2 922.9,900.9 925.8,887.5 928.6,874.1 931.4,860.6 934.2,847.2 937.0,833.9 939.8,820.7 942.6,807.6 945.4,794.5 948.2,781.4 951.0,768.3 953.9,755.3 956.7,742.3 959.5,729.5 962.3,716.7 965.1,704.2 967.9,691.8 970.7,679.5 973.5,667.4 976.3,655.3 979.1,643.4 982.0,631.6 984.8,620.0 987.6,608.4 990.4,597.1 993.2,585.9 996.0,575.0 998.8,564.1 1001.6,553.3 1004.4,542.7 1007.2,532.2 1010.1,521.9 1012.9,511.8 1015.7,501.9 1018.5,492.3 1021.3,483.0 1024.1,474.1 1026.9,465.6 1029.7,457.4 1032.5,449.7 1035.3,442.2 1038.2,434.9 1041.0,427.9 1043.8,420.9 1046.6,413.9 1049.4,406.9 1052.2,399.8 1055.0,392.6 1057.8,385.3 1060.6,377.9 1063.4,370.6 1066.2,363.4 1069.1,356.4 1071.9,349.5 1074.7,343.0 1077.5,336.8 1080.3,330.9 1083.1,325.5 1085.9,320.4 1088.7,315.6 1091.5,311.0 1094.3,306.7 1097.2,302.6 1100.0,298.7 1102.8,294.9 1105.6,291.2 1108.4,287.7 1111.2,284.1 1114.0,280.7 1116.8,277.4 1119.6,274.2 1122.5,271.3 1125.3,268.5 1128.1,265.9 1130.9,263.7 1133.7,261.7 1136.5,260.0 1139.3,258.7 1142.1,257.7 1144.9,257.1 1147.7,256.7 1150.6,256.5 1153.4,256.5 1156.2,256.7 1159.0,257.0 1161.8,257.5 1164.6,257.9 1167.4,258.5 1170.2,259.4 1173.0,260.4 1175.8,261.6 1178.7,262.9 1181.5,264.2 1184.3,265.6 1187.1,267.0 1189.9,268.4 1192.7,269.6 1195.5,270.8 1198.3,272.0 1201.1,273.2 1203.9,274.4 1206.8,275.6 1209.6,276.8 1212.4,278.0 1215.2,279.4 1218.0,280.7 1220.8,282.2 1223.6,283.6 1226.4,285.0 1229.2,286.3 1232.0,287.7 1234.8,289.2 1237.7,290.8 1240.5,292.5 1243.3,294.5 1246.1,296.7 1248.9,299.3 1251.7,302.1 1254.5,305.1 1257.3,308.2 1260.1,311.6 1263.0,315.2 1265.8,319.0 1268.6,322.9 1271.4,327.1 1274.2,331.5 1277.0,336.2 1279.8,340.9 1282.6,345.8 1285.4,350.7 1288.2,355.9 1291.1,361.3 1293.9,367.0 1296.7,373.1 1299.5,379.6 1302.3,386.5 1305.1,394.0 1307.9,402.1 1310.7,410.9 1313.5,420.1 1316.3,429.8 1319.2,439.8 1322.0,450.1 1324.8,460.5 1327.6,470.9 1330.4,481.4 1333.2,491.7 1336.0,501.9 1338.8,512.2 1341.6,522.6 1344.4,533.1 1347.2,543.7 1350.1,554.4 1352.9,565.1 1355.7,576.0 1358.5,587.0 1361.3,598.1 1364.1,609.4 1366.9,620.8 1369.7,632.3 1372.5,644.0 1375.4,655.8 1378.2,667.6 1381.0,679.5 1383.8,691.3 1386.6,703.1 1389.4,714.9 1392.2,726.7 1395.0,738.5 1397.8,750.3 1400.6,762.1 1403.5,773.9 1406.3,785.8 1409.1,797.6 1411.9,809.4 1414.7,821.1 1417.5,832.8 1420.3,844.5 1423.1,856.3 1425.9,868.0 1428.7,879.7 1431.5,891.4 1434.4,903.0 1437.2,914.6 1440.0,926.0 1442.8,937.3 1445.6,948.5 1448.4,959.6 1451.2,970.6 1454.0,981.5 1456.8,992.3 1459.7,1003.0 1462.5,1013.6 1465.3,1024.1 1468.1,1034.6 1470.9,1045.0 1473.7,1055.3 1476.5,1065.7 1479.3,1076.1 1482.1,1086.6 1484.9,1097.1 1487.8,1107.4 1490.6,1117.5 1493.4,1127.3 1496.2,1136.8 1499.0,1145.8 1501.8,1154.3 1504.6,1162.3 1507.4,1169.9 1510.2,1177.1 1513.0,1183.9 1515.9,1190.4 1518.7,1196.7 1521.5,1202.7 1524.3,1208.6 1527.1,1214.3 1529.9,1219.8 1532.7,1225.2 1535.5,1230.4 1538.3,1235.3 1541.1,1239.9 1544.0,1244.4 1546.8,1248.8 1549.6,1253.0 1552.4,1257.1 1555.2,1261.1 1558.0,1265.1 1560.8,1269.0 1563.6,1272.9 1566.4,1276.6 1569.2,1280.3 1572.0,1283.8 1574.9,1287.2 1577.7,1290.5 1580.5,1293.6 1583.3,1296.6 1586.1,1299.4 1588.9,1302.0 1591.7,1304.5 1594.5,1306.7 1597.3,1308.9 1600.2,1310.9 1603.0,1312.8 1605.8,1314.6 1608.6,1316.4 1611.4,1318.1 1614.2,1319.9 1617.0,1321.5 1619.8,1323.2 1622.6,1324.7 1625.4,1326.2 1628.2,1327.6 1631.1,1329.0 1633.9,1330.2 1636.7,1331.5 1639.5,1332.6 1642.3,1333.7 1645.1,1334.7 1647.9,1335.6 1650.7,1336.4 1653.5,1337.2 1656.4,1337.9 1659.2,1338.5 1662.0,1339.1 1664.8,1339.7 1667.6,1340.3 1670.4,1340.9 1673.2,1341.4 1676.0,1341.9 1678.8,1342.4 1681.6,1342.9 1684.5,1343.3 1687.3,1343.7 1690.1,1344.1 1692.9,1344.5 1695.7,1344.9 1698.5,1345.3 1701.3,1345.6 1704.1,1346.0 1706.9,1346.3 1709.7,1346.6 1712.6,1346.9 1715.4,1347.2 1718.2,1347.5 1721.0,1347.7 1723.8,1348.0 1726.6,1348.3 1729.4,1348.5 1732.2,1348.8 1735.0,1349.0 1737.8,1349.3 1740.7,1349.5 1743.5,1349.7 1746.3,1349.9 1749.1,1350.2 1751.9,1350.4 1754.7,1350.6 1757.5,1350.8 1760.3,1351.0 1763.1,1351.1 1765.9,1351.3 1768.8,1351.5 1771.6,1351.6 1774.4,1351.8 1777.2,1351.9 1780.0,1352.1 1782.8,1352.2 1785.6,1352.3 1788.4,1352.4 1791.2,1352.6 1794.0,1352.6 1796.9,1352.7 1799.7,1352.8 1802.5,1352.9 1805.3,1353.0 1808.1,1353.0 1810.9,1353.1 1813.7,1353.2 1816.5,1353.2 1819.3,1353.3 1822.1,1353.3 1825.0,1353.4 1827.8,1353.5 1830.6,1353.5 1833.4,1353.6 1836.2,1353.6 1839.0,1353.7 1841.8,1353.7 1844.6,1353.7 1847.4,1353.8 1850.2,1353.8 1853.1,1353.9 1855.9,1353.9 1858.7,1354.0 1861.5,1354.0 1864.3,1354.1 1867.1,1354.1 1869.9,1354.1 1872.7,1354.2 1875.5,1354.2 1878.3,1354.2 1881.2,1354.3 1884.0,1354.3 1886.8,1354.3 1889.6,1354.4 1892.4,1354.4 1895.2,1354.4 1898.0,1354.5 1900.8,1354.5 1903.6,1354.5 1906.4,1354.6 1909.2,1354.6 1912.1,1354.6 1914.9,1354.7 1917.7,1354.7 1920.5,1354.7 1923.3,1354.8 1926.1,1354.8 1928.9,1354.8 1931.7,1354.8 1934.5,1354.8 1937.4,1354.9 1940.2,1354.9 1943.0,1354.9 1945.8,1354.9 1948.6,1355.0 1951.4,1355.0 1954.2,1355.0 1957.0,1355.0 1959.8,1355.0 1962.6,1355.1 1965.5,1355.1 1968.3,1355.1 1971.1,1355.1 1973.9,1355.1 1976.7,1355.2 1979.5,1355.2"/>
<polyline stroke="#808000" points="293.5,1355.9 296.3,1355.9 299.1,1355.8 301.9,1355.8 304.7,1355.8 307.6,1355.7 310.4,1355.7 313.2,1355.7 316.0,1355.7 318.8,1355.6 321.6,1355.6 324.4,1355.5 327.2,1355.5 330.0,1355.5 332.8,1355.4 335.6,1355.4 338.5,1355.3 341.3,1355.3 344.1,1355.3 346.9,1355.2 349.7,1355.2 352.5,1355.1 355.3,1355.1 358.1,1355.1 360.9,1355.0 363.8,1355.0 366.6,1354.9 369.4,1354.9 372.2,1354.9 375.0,1354.8 377.8,1354.8 380.6,1354.7 383.4,1354.7 386.2,1354.7 389.0,1354.6 391.9,1354.6 394.7,1354.5 397.5,1354.5 400.3,1354.5 403.1,1354.4 405.9,1354.4 408.7,1354.3 411.5,1354.3 414.3,1354.3 417.1,1354.2 419.9,1354.2 422.8,1354.1 425.6,1354.1 428.4,1354.1 431.2,1354.0 434.0,1354.0 436.8,1353.9 439.6,1353.9 442.4,1353.8 445.2,1353.8 448.1,1353.7 450.9,1353.7 453.7,1353.6 456.5,1353.6 459.3,1353.5 462.1,1353.5 464.9,1353.4 467.7,1353.4 470.5,1353.3 473.3,1353.2 476.1,1353.2 479.0,1353.1 481.8,1353.1 484.6,1353.0 487.4,1352.9 490.2,1352.9 493.0,1352.8 495.8,1352.8 498.6,1352.7 501.4,1352.6 504.2,1352.6 507.1,1352.5 509.9,1352.5 512.7,1352.4 515.5,1352.3 518.3,1352.3 521.1,1352.2 523.9,1352.1 526.7,1352.1 529.5,1352.0 532.4,1351.9 535.2,1351.9 538.0,1351.8 540.8,1351.7 543.6,1351.6 546.4,1351.6 549.2,1351.5 552.0,1351.4 554.8,1351.3 557.6,1351.3 560.5,1351.2 563.3,1351.1 566.1,1351.0 568.9,1350.9 571.7,1350.8 574.5,1350.8 577.3,1350.7 580.1,1350.6 582.9,1350.5 585.7,1350.4 588.5,1350.4 591.4,1350.3 594.2,1350.2 597.0,1350.1 599.8,1350.0 602.6,1350.0 605.4,1349.9 608.2,1349.8 611.0,1349.7 613.8,1349.6 616.7,1349.5 619.5,1349.4 622.3,1349.3 625.1,1349.2 627.9,1349.2 630.7,1349.1 633.5,1349.0 636.3,1348.8 639.1,1348.7 641.9,1348.6 644.8,1348.5 647.6,1348.4 650.4,1348.3 653.2,1348.2 656.0,1348.1 658.8,1347.9 661.6,1347.8 664.4,1347.7 667.2,1347.6 670.0,1347.5 672.9,1347.4 675.7,1347.3 678.5,1347.1 681.3,1347.0 684.1,1346.8 686.9,1346.6 689.7,1346.5 692.5,1346.3 695.3,1346.0 698.1,1345.8 701.0,1345.6 703.8,1345.3 706.6,1345.1 709.4,1344.8 712.2,1344.5 715.0,1344.2 717.8,1343.9 720.6,1343.6 723.4,1343.4 726.2,1343.1 729.0,1342.7 731.9,1342.4 734.7,1342.0 737.5,1341.5 740.3,1341.0 743.1,1340.4 745.9,1339.8 748.7,1339.1 751.5,1338.5 754.3,1337.7 757.2,1337.0 760.0,1336.1 762.8,1335.1 765.6,1334.0 768.4,1332.7 771.2,1331.3 774.0,1329.7 776.8,1328.1 779.6,1326.5 782.4,1324.7 785.2,1322.8 788.1,1320.7 790.9,1318.3 793.7,1315.6 796.5,1312.6 799.3,1309.3 802.1,1305.5 804.9,1301.4 807.7,1297.0 810.5,1292.3 813.4,1287.4 816.2,1282.2 819.0,1276.8 821.8,1271.2 824.6,1265.4 827.4,1259.5 830.2,1253.4 833.0,1247.1 835.8,1240.6 838.6,1234.0 841.5,1227.1 844.3,1220.0 847.1,1212.7 849.9,1205.2 852.7,1197.4 855.5,1189.4 858.3,1181.0 861.1,1172.4 863.9,1163.6 866.7,1154.4 869.6,1145.1 872.4,1135.6 875.2,1125.9 878.0,1116.1 880.8,1106.2 883.6,1096.2 886.4,1086.1 889.2,1075.8 892.0,1065.4 894.8,1054.9 897.6,1044.2 900.5,1033.3 903.3,1022.3 906.1,1011.2 908.9,1000.0 911.7,988.7 914.5,977.1 917.3,965.3 920.1,953.4 922.9,941.2 925.8,929.0 928.6,916.7 931.4,904.4 934.2,892.2 937.0,880.1 939.8,868.1 942.6,856.1 945.4,844.2 948.2,832.2 951.0,820.3 953.9,808.4 956.7,796.6 959.5,784.9 962.3,773.3 965.1,761.8 967.9,750.5 970.7,739.3 973.5,728.3 976.3,717.3 979.1,706.5 982.0,695.7 984.8,685.1 987.6,674.6 990.4,664.2 993.2,654.0 996.0,644.0 998.8,634.0 1001.6,624.1 1004.4,614.3 1007.2,604.7 1010.1,595.1 1012.9,585.8 1015.7,576.7 1018.5,567.7 1021.3,559.1 1024.1,550.7 1026.9,542.6 1029.7,534.9 1032.5,527.4 1035.3,520.2 1038.2,513.2 1041.0,506.3 1043.8,499.4 1046.6,492.7 1049.4,485.9 1052.2,479.0 1055.0,472.0 1057.8,464.9 1060.6,457.7 1063.4,450.6 1066.2,443.5 1069.1,436.7 1071.9,430.0 1074.7,423.7 1077.5,417.8 1080.3,412.3 1083.1,407.2 1085.9,402.6 1088.7,398.2 1091.5,394.2 1094.3,390.4 1097.2,386.8 1100.0,383.5 1102.8,380.3 1105.6,377.2 1108.4,374.3 1111.2,371.5 1114.0,368.8 1116.8,366.4 1119.6,364.1 1122.5,361.9 1125.3,360.0 1128.1,358.3 1130.9,356.7 1133.7,355.4 1136.5,354.3 1139.3,353.5 1142.1,352.9 1144.9,352.6 1147.7,352.5 1150.6,352.5 1153.4,352.7 1156.2,353.0 1159.0,353.4 1161.8,353.9 1164.6,354.3 1167.4,354.8 1170.2,355.4 1173.0,356.2 1175.8,357.0 1178.7,358.0 1181.5,358.9 1184.3,359.9 1187.1,360.9 1189.9,361.9 1192.7,362.8 1195.5,363.6 1198.3,364.5 1201.1,365.3 1203.9,366.1 1206.8,366.9 1209.6,367.8 1212.4,368.7 1215.2,369.7 1218.0,370.8 1220.8,372.0 1223.6,373.2 1226.4,374.4 1229.2,375.6 1232.0,376.9 1234.8,378.2 1237.7,379.7 1240.5,381.3 1243.3,383.2 1246.1,385.3 1248.9,387.8 1251.7,390.5 1254.5,393.4 1257.3,396.5 1260.1,399.8 1263.0,403.3 1265.8,407.0 1268.6,410.9 1271.4,415.0 1274.2,419.3 1277.0,423.8 1279.8,428.3 1282.6,433.0 1285.4,437.8 1288.2,442.7 1291.1,447.9 1293.9,453.3 1296.7,459.1 1299.5,465.2 1302.3,471.7 1305.1,478.7 1307.9,486.2 1310.7,494.2 1313.5,502.8 1316.3,511.6 1319.2,520.8 1322.0,530.2 1324.8,539.7 1327.6,549.2 1330.4,558.8 1333.2,568.2 1336.0,577.5 1338.8,586.9 1341.6,596.4 1344.4,605.9 1347.2,615.6 1350.1,625.3 1352.9,635.1 1355.7,645.0 1358.5,655.0 1361.3,665.1 1364.1,675.3 1366.9,685.7 1369.7,696.3 1372.5,706.9 1375.4,717.7 1378.2,728.5 1381.0,739.3 1383.8,750.1 1386.6,760.9 1389.4,771.6 1392.2,782.3 1395.0,793.1 1397.8,803.8 1400.6,814.6 1403.5,825.4 1406.3,836.2 1409.1,847.0 1411.9,857.7 1414.7,868.5 1417.5,879.1 1420.3,889.8 1423.1,900.5 1425.9,911.2 1428.7,921.9 1431.5,932.5 1434.4,943.1 1437.2,953.7 1440.0,964.1 1442.8,974.4 1445.6,984.7 1448.4,994.7 1451.2,1004.7 1454.0,1014.7 1456.8,1024.5 1459.7,1034.2 1462.5,1043.9 1465.3,1053.5 1468.1,1063.0 1470.9,1072.5 1473.7,1081.9 1476.5,1091.3 1479.3,1100.9 1482.1,1110.4 1484.9,1119.9 1487.8,1129.3 1490.6,1138.5 1493.4,1147.5 1496.2,1156.1 1499.0,1164.3 1501.8,1172.1 1504.6,1179.4 1507.4,1186.3 1510.2,1192.8 1513.0,1199.1 1515.9,1205.0 1518.7,1210.7 1521.5,1216.2 1524.3,1221.5 1527.1,1226.7 1529.9,1231.8 1532.7,1236.7 1535.5,1241.4 1538.3,1245.9 1541.1,1250.2 1544.0,1254.3 1546.8,1258.2 1549.6,1262.1 1552.4,1265.8 1555.2,1269.5 1558.0,1273.1 1560.8,1276.7 1563.6,1280.3 1566.4,1283.7 1569.2,1287.0 1572.0,1290.2 1574.9,1293.3 1577.7,1296.3 1580.5,1299.2 1583.3,1301.9 1586.1,1304.5 1588.9,1306.9 1591.7,1309.1 1594.5,1311.2 1597.3,1313.2 1600.2,1315.0 1603.0,1316.8 1605.8,1318.4 1608.6,1320.0 1611.4,1321.6 1614.2,1323.2 1617.0,1324.7 1619.8,1326.2 1622.6,1327.6 1625.4,1329.0 1628.2,1330.3 1631.1,1331.5 1633.9,1332.7 1636.7,1333.8 1639.5,1334.9 1642.3,1335.9 1645.1,1336.8 1647.9,1337.6 1650.7,1338.4 1653.5,1339.1 1656.4,1339.7 1659.2,1340.3 1662.0,1340.8 1664.8,1341.4 1667.6,1341.9 1670.4,1342.4 1673.2,1342.9 1676.0,1343.4 1678.8,1343.9 1681.6,1344.3 1684.5,1344.7 1687.3,1345.0 1690.1,1345.4 1692.9,1345.8 1695.7,1346.1 1698.5,1346.4 1701.3,1346.8 1704.1,1347.1 1706.9,1347.4 1709.7,1347.6 1712.6,1347.9 1715.4,1348.2 1718.2,1348.4 1721.0,1348.7 1723.8,1348.9 1726.6,1349.2 1729.4,1349.4 1732.2,1349.6 1735.0,1349.9 1737.8,1350.1 1740.7,1350.3 1743.5,1350.5 1746.3,1350.7 1749.1,1350.9 1751.9,1351.1 1754.7,1351.3 1757.5,1351.4 1760.3,1351.6 1763.1,1351.8 1765.9,1351.9 1768.8,1352.1 1771.6,1352.2 1774.4,1352.4 1777.2,1352.5 1780.0,1352.7 1782.8,1352.8 1785.6,1352.9 1788.4,1353.0 1791.2,1353.1 1794.0,1353.2 1796.9,1353.2 1799.7,1353.3 1802.5,1353.4 1805.3,1353.4 1808.1,1353.5 1810.9,1353.6 1813.7,1353.6 1816.5,1353.7 1819.3,1353.8 1822.1,1353.8 1825.0,1353.9 1827.8,1353.9 1830.6,1353.9 1833.4,1354.0 1836.2,1354.0 1839.0,1354.1 1841.8,1354.1 1844.6,1354.2 1847.4,1354.2 1850.2,1354.3 1853.1,1354.3 1855.9,1354.3 1858.7,1354.4 1861.5,1354.4 1864.3,1354.4 1867.1,1354.5 1869.9,1354.5 1872.7,1354.5 1875.5,1354.6 1878.3,1354.6 1881.2,1354.6 1884.0,1354.7 1886.8,1354.7 1889.6,1354.7 1892.4,1354.8 1895.2,1354.8 1898.0,1354.8 1900.8,1354.8 1903.6,1354.9 1906.4,1354.9 1909.2,1354.9 1912.1,1355.0 1914.9,1355.0 1917.7,1355.0 1920.5,1355.1 1923.3,1355.1 1926.1,1355.1 1928.9,1355.1 1931.7,1355.2 1934.5,1355.2 1937.4,1355.2 1940.2,1355.2 1943.0,1355.2 1945.8,1355.2 1948.6,1355.3 1951.4,1355.3 1954.2,1355.3 1957.0,1355.3 1959.8,1355.3 1962.6,1355.4 1965.5,1355.4 1968.3,1355.4 1971.1,1355.4 1973.9,1355.4 1976.7,1355.5 1979.5,1355.5"/>
<polyline stroke="#000080" points="293.5,1356.1 296.3,1356.1 299.1,1356.1 301.9,1356.0 304.7,1356.0 307.6,1356.0 310.4,1356.0 313.2,1355.9 316.0,1355.9 318.8,1355.9 321.6,1355.9 324.4,1355.8 327.2,1355.8 330.0,1355.8 332.8,1355.7 335.6,1355.7 338.5,1355.6 341.3,1355.6 344.1,1355.6 346.9,1355.5 349.7,1355.5 352.5,1355.5 355.3,1355.4 358.1,1355.4 360.9,1355.3 363.8,1355.3 366.6,1355.3 369.4,1355.2 372.2,1355.2 375.0,1355.2 377.8,1355.1 380.6,1355.1 383.4,1355.0 386.2,1355.0 389.0,1355.0 391.9,1354.9 394.7,1354.9 397.5,1354.9 400.3,1354.8 403.1,1354.8 405.9,1354.8 408.7,1354.7 411.5,1354.7 414.3,1354.7 417.1,1354.6 419.9,1354.6 422.8,1354.5 425.6,1354.5 428.4,1354.5 431.2,1354.4 434.0,1354.4 436.8,1354.4 439.6,1354.3 442.4,1354.3 445.2,1354.2 448.1,1354.2 450.9,1354.1 453.7,1354.1 456.5,1354.0 459.3,1354.0 462.1,1353.9 464.9,1353.9 467.7,1353.8 470.5,1353.8 473.3,1353.7 476.1,1353.7 479.0,1353.6 481.8,1353.6 484.6,1353.5 487.4,1353.4 490.2,1353.4 493.0,1353.3 495.8,1353.3 498.6,1353.2 501.4,1353.2 504.2,1353.1 507.1,1353.1 509.9,1353.0 512.7,1353.0 515.5,1352.9 518.3,1352.8 521.1,1352.8 523.9,1352.7 526.7,1352.7 529.5,1352.6 532.4,1352.5 535.2,1352.5 538.0,1352.4 540.8,1352.3 543.6,1352.3 546.4,1352.2 549.2,1352.1 552.0,1352.1 554.8,1352.0 557.6,1351.9 560.5,1351.8 563.3,1351.8 566.1,1351.7 568.9,1351.6 571.7,1351.5 574.5,1351.5 577.3,1351.4 580.1,1351.3 582.9,1351.3 585.7,1351.2 588.5,1351.1 591.4,1351.0 594.2,1351.0 597.0,1350.9 599.8,1350.8 602.6,1350.7 605.4,1350.7 608.2,1350.6 611.0,1350.5 613.8,1350.4 616.7,1350.3 619.5,1350.3 622.3,1350.2 625.1,1350.1 627.9,1350.0 630.7,1349.9 633.5,1349.8 636.3,1349.7 639.1,1349.6 641.9,1349.5 644.8,1349.4 647.6,1349.3 650.4,1349.2 653.2,1349.1 656.0,1349.0 658.8,1348.9 661.6,1348.8 664.4,1348.7 667.2,1348.6 670.0,1348.5 672.9,1348.4 675.7,1348.3 678.5,1348.2 681.3,1348.0 684.1,1347.9 686.9,1347.7 689.7,1347.6 692.5,1347.4 695.3,1347.2 698.1,1347.0 701.0,1346.8 703.8,1346.6 706.6,1346.3 709.4,1346.1 712.2,1345.8 715.0,1345.5 717.8,1345.3 720.6,1345.0 723.4,1344.7 726.2,1344.5 729.0,1344.2 731.9,1343.9 734.7,1343.5 737.5,1343.1 740.3,1342.6 743.1,1342.1 745.9,1341.5 748.7,1340.9 751.5,1340.3 754.3,1339.6 757.2,1338.9 760.0,1338.1 762.8,1337.2 765.6,1336.1 768.4,1335.0 771.2,1333.6 774.0,1332.2 776.8,1330.8 779.6,1329.2 782.4,1327.6 785.2,1325.9 788.1,1324.0 790.9,1321.8 793.7,1319.4 796.5,1316.6 799.3,1313.6 802.1,1310.1 804.9,1306.4 807.7,1302.4 810.5,1298.1 813.4,1293.6 816.2,1288.9 819.0,1284.0 821.8,1278.9 824.6,1273.7 827.4,1268.3 830.2,1262.8 833.0,1257.1 835.8,1251.2 838.6,1245.2 841.5,1239.0 844.3,1232.5 847.1,1225.9 849.9,1219.1 852.7,1212.0 855.5,1204.7 858.3,1197.2 861.1,1189.4 863.9,1181.4 866.7,1173.1 869.6,1164.6 872.4,1156.0 875.2,1147.2 878.0,1138.3 880.8,1129.4 883.6,1120.3 886.4,1111.1 889.2,1101.8 892.0,1092.3 894.8,1082.7 897.6,1073.0 900.5,1063.2 903.3,1053.2 906.1,1043.1 908.9,1032.9 911.7,1022.6 914.5,1012.1 917.3,1001.4 920.1,990.5 922.9,979.5 925.8,968.4 928.6,957.3 931.4,946.1 934.2,935.0 937.0,924.0 939.8,913.1 942.6,902.3 945.4,891.4 948.2,880.5 951.0,869.7 953.9,858.9 956.7,848.2 959.5,837.5 962.3,827.0 965.1,816.6 967.9,806.3 970.7,796.2 973.5,786.1 976.3,776.2 979.1,766.3 982.0,756.6 984.8,746.9 987.6,737.4 990.4,728.0 993.2,718.7 996.0,709.5 998.8,700.5 1001.6,691.5 1004.4,682.6 1007.2,673.8 1010.1,665.2 1012.9,656.7 1015.7,648.4 1018.5,640.2 1021.3,632.3 1024.1,624.6 1026.9,617.2 1029.7,610.1 1032.5,603.2 1035.3,596.5 1038.2,590.0 1041.0,583.6 1043.8,577.2 1046.6,570.9 1049.4,564.6 1052.2,558.3 1055.0,551.8 1057.8,545.2 1060.6,538.6 1063.4,532.0 1066.2,525.4 1069.1,519.1 1071.9,513.0 1074.7,507.2 1077.5,501.7 1080.3,496.8 1083.1,492.2 1085.9,488.0 1088.7,484.2 1091.5,480.7 1094.3,477.4 1097.2,474.3 1100.0,471.5 1102.8,468.7 1105.6,466.1 1108.4,463.6 1111.2,461.1 1114.0,458.9 1116.8,456.7 1119.6,454.8 1122.5,453.0 1125.3,451.4 1128.1,449.9 1130.9,448.6 1133.7,447.5 1136.5,446.5 1139.3,445.8 1142.1,445.3 1144.9,445.1 1147.7,445.0 1150.6,445.0 1153.4,445.2 1156.2,445.5 1159.0,445.8 1161.8,446.2 1164.6,446.6 1167.4,447.0 1170.2,447.6 1173.0,448.2 1175.8,448.9 1178.7,449.7 1181.5,450.6 1184.3,451.4 1187.1,452.3 1189.9,453.2 1192.7,454.0 1195.5,454.8 1198.3,455.5 1201.1,456.2 1203.9,457.0 1206.8,457.7 1209.6,458.5 1212.4,459.4 1215.2,460.4 1218.0,461.4 1220.8,462.6 1223.6,463.9 1226.4,465.1 1229.2,466.4 1232.0,467.8 1234.8,469.2 1237.7,470.8 1240.5,472.6 1243.3,474.6 1246.1,476.8 1248.9,479.3 1251.7,482.1 1254.5,485.0 1257.3,488.2 1260.1,491.6 1263.0,495.2 1265.8,499.0 1268.6,503.0 1271.4,507.1 1274.2,511.3 1277.0,515.8 1279.8,520.3 1282.6,524.9 1285.4,529.6 1288.2,534.5 1291.1,539.5 1293.9,544.8 1296.7,550.4 1299.5,556.3 1302.3,562.5 1305.1,569.1 1307.9,576.2 1310.7,583.7 1313.5,591.7 1316.3,599.9 1319.2,608.4 1322.0,617.1 1324.8,625.9 1327.6,634.7 1330.4,643.4 1333.2,652.0 1336.0,660.5 1338.8,669.1 1341.6,677.7 1344.4,686.3 1347.2,695.0 1350.1,703.8 1352.9,712.6 1355.7,721.5 1358.5,730.4 1361.3,739.4 1364.1,748.6 1366.9,757.8 1369.7,767.2 1372.5,776.6 1375.4,786.1 1378.2,795.6 1381.0,805.1 1383.8,814.6 1386.6,824.2 1389.4,833.6 1392.2,843.1 1395.0,852.6 1397.8,862.1 1400.6,871.6 1403.5,881.1 1406.3,890.5 1409.1,900.0 1411.9,909.5 1414.7,918.9 1417.5,928.3 1420.3,937.8 1423.1,947.2 1425.9,956.6 1428.7,966.0 1431.5,975.4 1434.4,984.8 1437.2,994.1 1440.0,1003.3 1442.8,1012.5 1445.6,1021.5 1448.4,1030.4 1451.2,1039.3 1454.0,1048.0 1456.8,1056.7 1459.7,1065.4 1462.5,1073.9 1465.3,1082.5 1468.1,1090.9 1470.9,1099.4 1473.7,1107.7 1476.5,1116.2 1479.3,1124.7 1482.1,1133.3 1484.9,1141.9 1487.8,1150.4 1490.6,1158.7 1493.4,1166.7 1496.2,1174.5 1499.0,1182.0 1501.8,1189.0 1504.6,1195.6 1507.4,1201.8 1510.2,1207.7 1513.0,1213.4 1515.9,1218.8 1518.7,1224.0 1521.5,1229.0 1524.3,1233.8 1527.1,1238.6 1529.9,1243.2 1532.7,1247.7 1535.5,1251.9 1538.3,1256.0 1541.1,1259.9 1544.0,1263.6 1546.8,1267.2 1549.6,1270.7 1552.4,1274.1 1555.2,1277.5 1558.0,1280.8 1560.8,1284.1 1563.6,1287.3 1566.4,1290.4 1569.2,1293.4 1572.0,1296.3 1574.9,1299.2 1577.7,1301.9 1580.5,1304.5 1583.3,1307.0 1586.1,1309.3 1588.9,1311.5 1591.7,1313.6 1594.5,1315.5 1597.3,1317.2 1600.2,1318.9 1603.0,1320.5 1605.8,1322.0 1608.6,1323.5 1611.4,1325.0 1614.2,1326.4 1617.0,1327.8 1619.8,1329.1 1622.6,1330.4 1625.4,1331.7 1628.2,1332.9 1631.1,1334.0 1633.9,1335.1 1636.7,1336.1 1639.5,1337.1 1642.3,1338.0 1645.1,1338.8 1647.9,1339.5 1650.7,1340.2 1653.5,1340.9 1656.4,1341.4 1659.2,1342.0 1662.0,1342.5 1664.8,1342.9 1667.6,1343.4 1670.4,1343.9 1673.2,1344.4 1676.0,1344.8 1678.8,1345.2 1681.6,1345.6 1684.5,1345.9 1687.3,1346.3 1690.1,1346.6 1692.9,1346.9 1695.7,1347.2 1698.5,1347.5 1701.3,1347.8 1704.1,1348.1 1706.9,1348.4 1709.7,1348.6 1712.6,1348.9 1715.4,1349.1 1718.2,1349.3 1721.0,1349.6 1723.8,1349.8 1726.6,1350.0 1729.4,1350.2 1732.2,1350.4 1735.0,1350.6 1737.8,1350.8 1740.7,1351.0 1743.5,1351.2 1746.3,1351.4 1749.1,1351.6 1751.9,1351.8 1754.7,1351.9 1757.5,1352.1 1760.3,1352.2 1763.1,1352.4 1765.9,1352.5 1768.8,1352.7 1771.6,1352.8 1774.4,1353.0 1777.2,1353.1 1780.0,1353.2 1782.8,1353.3 1785.6,1353.4 1788.4,1353.5 1791.2,1353.6 1794.0,1353.6 1796.9,1353.7 1799.7,1353.8 1802.5,1353.8 1805.3,1353.9 1808.1,1354.0 1810.9,1354.0 1813.7,1354.1 1816.5,1354.1 1819.3,1354.2 1822.1,1354.2 1825.0,1354.3 1827.8,1354.3 1830.6,1354.4 1833.4,1354.4 1836.2,1354.4 1839.0,1354.5 1841.8,1354.5 1844.6,1354.6 1847.4,1354.6 1850.2,1354.6 1853.1,1354.7 1855.9,1354.7 1858.7,1354.7 1861.5,1354.8 1864.3,1354.8 1867.1,1354.8 1869.9,1354.9 1872.7,1354.9 1875.5,1354.9 1878.3,1355.0 1881.2,1355.0 1884.0,1355.0 1886.8,1355.0 1889.6,1355.1 1892.4,1355.1 1895.2,1355.1 1898.0,1355.2 1900.8,1355.2 1903.6,1355.2 1906.4,1355.2 1909.2,1355.3 1912.1,1355.3 1914.9,1355.3 1917.7,1355.3 1920.5,1355.4 1923.3,1355.4 1926.1,1355.4 1928.9,1355.4 1931.7,1355.5 1934.5,1355.5 1937.4,1355.5 1940.2,1355.5 1943.0,1355.5 1945.8,1355.5 1948.6,1355.6 1951.4,1355.6 1954.2,1355.6 1957.0,1355.6 1959.8,1355.6 1962.6,1355.7 1965.5,1355.7 1968.3,1355.7 1971.1,1355.7 1973.9,1355.7 1976.7,1355.7 1979.5,1355.8"/>
<polyline stroke="#800080" points="293.5,1356.2 296.3,1356.2 299.1,1356.2 301.9,1356.1 304.7,1356.1 307.6,1356.1 310.4,1356.1 313.2,1356.0 316.0,1356.0 318.8,1356.0 321.6,1356.0 324.4,1355.9 327.2,1355.9 330.0,1355.9 332.8,1355.8 335.6,1355.8 338.5,1355.7 341.3,1355.7 344.1,1355.7 346.9,1355.6 349.7,1355.6 352.5,1355.6 355.3,1355.5 358.1,1355.5 360.9,1355.5 363.8,1355.4 366.6,1355.4 369.4,1355.4 372.2,1355.3 375.0,1355.3 377.8,1355.3 380.6,1355.2 383.4,1355.2 386.2,1355.1 389.0,1355.1 391.9,1355.1 394.7,1355.0 397.5,1355.0 400.3,1355.0 403.1,1354.9 405.9,1354.9 408.7,1354.9 411.5,1354.8 414.3,1354.8 417.1,1354.8 419.9,1354.7 422.8,1354.7 425.6,1354.7 428.4,1354.6 431.2,1354.6 434.0,1354.5 436.8,1354.5 439.6,1354.5 442.4,1354.4 445.2,1354.4 448.1,1354.3 450.9,1354.3 453.7,1354.2 456.5,1354.2 459.3,1354.2 462.1,1354.1 464.9,1354.1 467.7,1354.0 470.5,1354.0 473.3,1353.9 476.1,1353.9 479.0,1353.8 481.8,1353.7 484.6,1353.7 487.4,1353.6 490.2,1353.6 493.0,1353.5 495.8,1353.5 498.6,1353.4 501.4,1353.4 504.2,1353.3 507.1,1353.3 509.9,1353.2 512.7,1353.2 515.5,1353.1 518.3,1353.1 521.1,1353.0 523.9,1352.9 526.7,1352.9 529.5,1352.8 532.4,1352.8 535.2,1352.7 538.0,1352.6 540.8,1352.6 543.6,1352.5 546.4,1352.4 549.2,1352.4 552.0,1352.3 554.8,1352.2 557.6,1352.2 560.5,1352.1 563.3,1352.0 566.1,1352.0 568.9,1351.9 571.7,1351.8 574.5,1351.7 577.3,1351.7 580.1,1351.6 582.9,1351.5 585.7,1351.5 588.5,1351.4 591.4,1351.3 594.2,1351.3 597.0,1351.2 599.8,1351.1 602.6,1351.0 605.4,1351.0 608.2,1350.9 611.0,1350.8 613.8,1350.7 616.7,1350.7 619.5,1350.6 622.3,1350.5 625.1,1350.4 627.9,1350.3 630.7,1350.2 633.5,1350.2 636.3,1350.1 639.1,1350.0 641.9,1349.9 644.8,1349.8 647.6,1349.7 650.4,1349.6 653.2,1349.5 656.0,1349.4 658.8,1349.3 661.6,1349.2 664.4,1349.1 667.2,1349.0 670.0,1348.9 672.9,1348.8 675.7,1348.7 678.5,1348.6 681.3,1348.4 684.1,1348.3 686.9,1348.1 689.7,1348.0 692.5,1347.8 695.3,1347.6 698.1,1347.4 701.0,1347.2 703.8,1347.0 706.6,1346.8 709.4,1346.5 712.2,1346.3 715.0,1346.0 717.8,1345.8 720.6,1345.5 723.4,1345.3 726.2,1345.0 729.0,1344.7 731.9,1344.4 734.7,1344.1 737.5,1343.7 740.3,1343.2 743.1,1342.7 745.9,1342.1 748.7,1341.5 751.5,1340.9 754.3,1340.3 757.2,1339.6 760.0,1338.8 762.8,1337.9 765.6,1336.9 768.4,1335.8 771.2,1334.5 774.0,1333.1 776.8,1331.7 779.6,1330.3 782.4,1328.7 785.2,1327.0 788.1,1325.2 790.9,1323.1 793.7,1320.8 796.5,1318.1 799.3,1315.2 802.1,1311.9 804.9,1308.3 807.7,1304.4 810.5,1300.3 813.4,1296.0 816.2,1291.4 819.0,1286.7 821.8,1281.8 824.6,1276.8 827.4,1271.6 830.2,1266.3 833.0,1260.8 835.8,1255.2 838.6,1249.4 841.5,1243.4 844.3,1237.2 847.1,1230.8 849.9,1224.3 852.7,1217.5 855.5,1210.5 858.3,1203.2 861.1,1195.7 863.9,1188.0 866.7,1180.0 869.6,1171.9 872.4,1163.6 875.2,1155.2 878.0,1146.6 880.8,1138.0 883.6,1129.2 886.4,1120.4 889.2,1111.4 892.0,1102.3 894.8,1093.1 897.6,1083.8 900.5,1074.3 903.3,1064.7 906.1,1055.0 908.9,1045.2 911.7,1035.3 914.5,1025.2 917.3,1014.9 920.1,1004.4 922.9,993.8 925.8,983.1 928.6,972.4 931.4,961.6 934.2,951.0 937.0,940.3 939.8,929.9 942.6,919.4 945.4,909.0 948.2,898.5 951.0,888.1 953.9,877.7 956.7,867.4 959.5,857.1 962.3,847.0 965.1,837.0 967.9,827.1 970.7,817.3 973.5,807.7 976.3,798.1 979.1,788.6 982.0,779.2 984.8,769.9 987.6,760.7 990.4,751.7 993.2,742.8 996.0,734.0 998.8,725.3 1001.6,716.7 1004.4,708.2 1007.2,699.8 1010.1,691.6 1012.9,683.5 1015.7,675.6 1018.5,667.8 1021.3,660.3 1024.1,653.0 1026.9,645.9 1029.7,639.1 1032.5,632.6 1035.3,626.3 1038.2,620.1 1041.0,614.0 1043.8,608.0 1046.6,602.0 1049.4,596.0 1052.2,589.9 1055.0,583.7 1057.8,577.4 1060.6,571.0 1063.4,564.6 1066.2,558.3 1069.1,552.1 1071.9,546.2 1074.7,540.6 1077.5,535.3 1080.3,530.5 1083.1,526.1 1085.9,522.1 1088.7,518.4 1091.5,515.0 1094.3,511.8 1097.2,508.8 1100.0,506.1 1102.8,503.4 1105.6,500.9 1108.4,498.4 1111.2,496.0 1114.0,493.8 1116.8,491.7 1119.6,489.8 1122.5,488.0 1125.3,486.3 1128.1,484.9 1130.9,483.6 1133.7,482.4 1136.5,481.4 1139.3,480.6 1142.1,480.0 1144.9,479.5 1147.7,479.3 1150.6,479.2 1153.4,479.2 1156.2,479.3 1159.0,479.4 1161.8,479.6 1164.6,479.8 1167.4,480.1 1170.2,480.5 1173.0,480.9 1175.8,481.5 1178.7,482.1 1181.5,482.8 1184.3,483.5 1187.1,484.1 1189.9,484.8 1192.7,485.5 1195.5,486.1 1198.3,486.7 1201.1,487.3 1203.9,487.9 1206.8,488.5 1209.6,489.2 1212.4,489.9 1215.2,490.7 1218.0,491.5 1220.8,492.5 1223.6,493.6 1226.4,494.6 1229.2,495.6 1232.0,496.7 1234.8,497.9 1237.7,499.2 1240.5,500.7 1243.3,502.3 1246.1,504.2 1248.9,506.4 1251.7,508.7 1254.5,511.3 1257.3,514.1 1260.1,517.1 1263.0,520.2 1265.8,523.5 1268.6,527.0 1271.4,530.6 1274.2,534.4 1277.0,538.4 1279.8,542.4 1282.6,546.6 1285.4,550.8 1288.2,555.2 1291.1,559.8 1293.9,564.6 1296.7,569.7 1299.5,575.1 1302.3,580.9 1305.1,587.1 1307.9,593.8 1310.7,600.9 1313.5,608.4 1316.3,616.3 1319.2,624.4 1322.0,632.7 1324.8,641.1 1327.6,649.5 1330.4,657.9 1333.2,666.3 1336.0,674.5 1338.8,682.9 1341.6,691.3 1344.4,699.7 1347.2,708.2 1350.1,716.8 1352.9,725.5 1355.7,734.2 1358.5,743.1 1361.3,752.0 1364.1,761.0 1366.9,770.2 1369.7,779.5 1372.5,788.8 1375.4,798.2 1378.2,807.7 1381.0,817.2 1383.8,826.7 1386.6,836.1 1389.4,845.5 1392.2,854.9 1395.0,864.3 1397.8,873.8 1400.6,883.2 1403.5,892.6 1406.3,902.0 1409.1,911.4 1411.9,920.8 1414.7,930.2 1417.5,939.5 1420.3,948.8 1423.1,958.2 1425.9,967.5 1428.7,976.9 1431.5,986.2 1434.4,995.5 1437.2,1004.7 1440.0,1013.8 1442.8,1022.8 1445.6,1031.7 1448.4,1040.6 1451.2,1049.3 1454.0,1057.9 1456.8,1066.5 1459.7,1075.0 1462.5,1083.4 1465.3,1091.8 1468.1,1100.1 1470.9,1108.4 1473.7,1116.6 1476.5,1124.8 1479.3,1133.1 1482.1,1141.5 1484.9,1149.8 1487.8,1158.0 1490.6,1166.0 1493.4,1173.8 1496.2,1181.3 1499.0,1188.5 1501.8,1195.3 1504.6,1201.6 1507.4,1207.7 1510.2,1213.4 1513.0,1218.8 1515.9,1224.0 1518.7,1229.0 1521.5,1233.8 1524.3,1238.4 1527.1,1243.0 1529.9,1247.4 1532.7,1251.7 1535.5,1255.8 1538.3,1259.7 1541.1,1263.5 1544.0,1267.1 1546.8,1270.5 1549.6,1273.9 1552.4,1277.2 1555.2,1280.4 1558.0,1283.6 1560.8,1286.8 1563.6,1289.9 1566.4,1292.9 1569.2,1295.8 1572.0,1298.6 1574.9,1301.4 1577.7,1304.0 1580.5,1306.5 1583.3,1308.9 1586.1,1311.1 1588.9,1313.3 1591.7,1315.2 1594.5,1317.0 1597.3,1318.8 1600.2,1320.4 1603.0,1321.9 1605.8,1323.4 1608.6,1324.8 1611.4,1326.2 1614.2,1327.6 1617.0,1328.9 1619.8,1330.2 1622.6,1331.5 1625.4,1332.7 1628.2,1333.8 1631.1,1334.9 1633.9,1336.0 1636.7,1336.9 1639.5,1337.9 1642.3,1338.7 1645.1,1339.5 1647.9,1340.3 1650.7,1340.9 1653.5,1341.5 1656.4,1342.1 1659.2,1342.6 1662.0,1343.1 1664.8,1343.5 1667.6,1344.0 1670.4,1344.4 1673.2,1344.9 1676.0,1345.3 1678.8,1345.7 1681.6,1346.1 1684.5,1346.4 1687.3,1346.7 1690.1,1347.1 1692.9,1347.4 1695.7,1347.7 1698.5,1348.0 1701.3,1348.2 1704.1,1348.5 1706.9,1348.8 1709.7,1349.0 1712.6,1349.2 1715.4,1349.5 1718.2,1349.7 1721.0,1349.9 1723.8,1350.1 1726.6,1350.3 1729.4,1350.5 1732.2,1350.7 1735.0,1350.9 1737.8,1351.1 1740.7,1351.3 1743.5,1351.5 1746.3,1351.7 1749.1,1351.8 1751.9,1352.0 1754.7,1352.2 1757.5,1352.3 1760.3,1352.5 1763.1,1352.6 1765.9,1352.8 1768.8,1352.9 1771.6,1353.0 1774.4,1353.2 1777.2,1353.3 1780.0,1353.4 1782.8,1353.5 1785.6,1353.6 1788.4,1353.7 1791.2,1353.8 1794.0,1353.8 1796.9,1353.9 1799.7,1354.0 1802.5,1354.0 1805.3,1354.1 1808.1,1354.1 1810.9,1354.2 1813.7,1354.3 1816.5,1354.3 1819.3,1354.3 1822.1,1354.4 1825.0,1354.4 1827.8,1354.5 1830.6,1354.5 1833.4,1354.6 1836.2,1354.6 1839.0,1354.6 1841.8,1354.7 1844.6,1354.7 1847.4,1354.7 1850.2,1354.8 1853.1,1354.8 1855.9,1354.9 1858.7,1354.9 1861.5,1354.9 1864.3,1355.0 1867.1,1355.0 1869.9,1355.0 1872.7,1355.0 1875.5,1355.1 1878.3,1355.1 1881.2,1355.1 1884.0,1355.1 1886.8,1355.2 1889.6,1355.2 1892.4,1355.2 1895.2,1355.3 1898.0,1355.3 1900.8,1355.3 1903.6,1355.3 1906.4,1355.4 1909.2,1355.4 1912.1,1355.4 1914.9,1355.4 1917.7,1355.5 1920.5,1355.5 1923.3,1355.5 1926.1,1355.5 1928.9,1355.6 1931.7,1355.6 1934.5,1355.6 1937.4,1355.6 1940.2,1355.6 1943.0,1355.6 1945.8,1355.7 1948.6,1355.7 1951.4,1355.7 1954.2,1355.7 1957.0,1355.7 1959.8,1355.7 1962.6,1355.8 1965.5,1355.8 1968.3,1355.8 1971.1,1355.8 1973.9,1355.8 1976.7,1355.8 1979.5,1355.9"/>
<polyline stroke="#800000" points="293.5,1356.3 296.3,1356.3 299.1,1356.3 301.9,1356.3 304.7,1356.2 307.6,1356.2 310.4,1356.2 313.2,1356.2 316.0,1356.1 318.8,1356.1 321.6,1356.1 324.4,1356.1 327.2,1356.0 330.0,1356.0 332.8,1356.0 335.6,1355.9 338.5,1355.9 341.3,1355.8 344.1,1355.8 346.9,1355.8 349.7,1355.7 352.5,1355.7 355.3,1355.7 358.1,1355.6 360.9,1355.6 363.8,1355.6 366.6,1355.5 369.4,1355.5 372.2,1355.5 375.0,1355.4 377.8,1355.4 380.6,1355.4 383.4,1355.3 386.2,1355.3 389.0,1355.3 391.9,1355.2 394.7,1355.2 397.5,1355.2 400.3,1355.1 403.1,1355.1 405.9,1355.1 408.7,1355.0 411.5,1355.0 414.3,1355.0 417.1,1354.9 419.9,1354.9 422.8,1354.9 425.6,1354.9 428.4,1354.8 431.2,1354.8 434.0,1354.7 436.8,1354.7 439.6,1354.7 442.4,1354.6 445.2,1354.6 448.1,1354.5 450.9,1354.5 453.7,1354.5 456.5,1354.4 459.3,1354.4 462.1,1354.3 464.9,1354.3 467.7,1354.2 470.5,1354.2 473.3,1354.1 476.1,1354.1 479.0,1354.0 481.8,1354.0 484.6,1353.9 487.4,1353.9 490.2,1353.8 493.0,1353.8 495.8,1353.7 498.6,1353.7 501.4,1353.6 504.2,1353.6 507.1,1353.5 509.9,1353.5 512.7,1353.4 515.5,1353.4 518.3,1353.3 521.1,1353.3 523.9,1353.2 526.7,1353.2 529.5,1353.1 532.4,1353.0 535.2,1353.0 538.0,1352.9 540.8,1352.9 543.6,1352.8 546.4,1352.7 549.2,1352.7 552.0,1352.6 554.8,1352.5 557.6,1352.5 560.5,1352.4 563.3,1352.3 566.1,1352.3 568.9,1352.2 571.7,1352.1 574.5,1352.1 577.3,1352.0 580.1,1351.9 582.9,1351.9 585.7,1351.8 588.5,1351.7 591.4,1351.7 594.2,1351.6 597.0,1351.5 599.8,1351.5 602.6,1351.4 605.4,1351.3 608.2,1351.3 611.0,1351.2 613.8,1351.1 616.7,1351.0 619.5,1351.0 622.3,1350.9 625.1,1350.8 627.9,1350.7 630.7,1350.7 633.5,1350.6 636.3,1350.5 639.1,1350.4 641.9,1350.3 644.8,1350.2 647.6,1350.1 650.4,1350.0 653.2,1349.9 656.0,1349.8 658.8,1349.7 661.6,1349.6 664.4,1349.5 667.2,1349.5 670.0,1349.4 672.9,1349.3 675.7,1349.2 678.5,1349.1 681.3,1348.9 684.1,1348.8 686.9,1348.7 689.7,1348.5 692.5,1348.3 695.3,1348.2 698.1,1348.0 701.0,1347.8 703.8,1347.6 706.6,1347.4 709.4,1347.1 712.2,1346.9 715.0,1346.7 717.8,1346.4 720.6,1346.2 723.4,1345.9 726.2,1345.7 729.0,1345.4 731.9,1345.1 734.7,1344.8 737.5,1344.4 740.3,1344.0 743.1,1343.5 745.9,1342.9 748.7,1342.4 751.5,1341.8 754.3,1341.2 757.2,1340.5 760.0,1339.8 762.8,1338.9 765.6,1337.9 768.4,1336.9 771.2,1335.6 774.0,1334.3 776.8,1333.0 779.6,1331.6 782.4,1330.1 785.2,1328.5 788.1,1326.7 790.9,1324.8 793.7,1322.5 796.5,1320.0 799.3,1317.2 802.1,1314.1 804.9,1310.7 807.7,1307.0 810.5,1303.1 813.4,1299.0 816.2,1294.7 819.0,1290.2 821.8,1285.5 824.6,1280.7 827.4,1275.8 830.2,1270.8 833.0,1265.6 835.8,1260.2 838.6,1254.7 841.5,1249.0 844.3,1243.2 847.1,1237.1 849.9,1230.9 852.7,1224.5 855.5,1217.8 858.3,1210.9 861.1,1203.8 863.9,1196.5 866.7,1188.9 869.6,1181.2 872.4,1173.4 875.2,1165.4 878.0,1157.2 880.8,1149.0 883.6,1140.7 886.4,1132.3 889.2,1123.8 892.0,1115.2 894.8,1106.4 897.6,1097.5 900.5,1088.5 903.3,1079.4 906.1,1070.2 908.9,1060.9 911.7,1051.5 914.5,1041.9 917.3,1032.1 920.1,1022.1 922.9,1012.1 925.8,1001.9 928.6,991.7 931.4,981.5 934.2,971.4 937.0,961.3 939.8,951.3 942.6,941.4 945.4,931.5 948.2,921.6 951.0,911.7 953.9,901.8 956.7,892.0 959.5,882.2 962.3,872.6 965.1,863.1 967.9,853.7 970.7,844.4 973.5,835.3 976.3,826.2 979.1,817.1 982.0,808.2 984.8,799.4 987.6,790.7 990.4,782.1 993.2,773.6 996.0,765.3 998.8,757.0 1001.6,748.8 1004.4,740.8 1007.2,732.8 1010.1,724.9 1012.9,717.2 1015.7,709.6 1018.5,702.3 1021.3,695.0 1024.1,688.0 1026.9,681.3 1029.7,674.8 1032.5,668.5 1035.3,662.4 1038.2,656.4 1041.0,650.5 1043.8,644.7 1046.6,638.9 1049.4,633.2 1052.2,627.3 1055.0,621.4 1057.8,615.3 1060.6,609.2 1063.4,603.0 1066.2,597.0 1069.1,591.1 1071.9,585.5 1074.7,580.1 1077.5,575.2 1080.3,570.6 1083.1,566.5 1085.9,562.7 1088.7,559.3 1091.5,556.2 1094.3,553.2 1097.2,550.6 1100.0,548.0 1102.8,545.6 1105.6,543.3 1108.4,541.1 1111.2,538.9 1114.0,536.8 1116.8,534.9 1119.6,533.2 1122.5,531.5 1125.3,530.0 1128.1,528.7 1130.9,527.5 1133.7,526.5 1136.5,525.6 1139.3,524.9 1142.1,524.4 1144.9,524.0 1147.7,523.9 1150.6,523.8 1153.4,523.9 1156.2,524.0 1159.0,524.3 1161.8,524.5 1164.6,524.8 1167.4,525.2 1170.2,525.7 1173.0,526.3 1175.8,527.0 1178.7,527.7 1181.5,528.5 1184.3,529.4 1187.1,530.2 1189.9,531.0 1192.7,531.8 1195.5,532.5 1198.3,533.2 1201.1,533.9 1203.9,534.6 1206.8,535.4 1209.6,536.1 1212.4,536.9 1215.2,537.8 1218.0,538.8 1220.8,539.8 1223.6,540.9 1226.4,542.0 1229.2,543.1 1232.0,544.2 1234.8,545.4 1237.7,546.8 1240.5,548.2 1243.3,549.9 1246.1,551.7 1248.9,553.8 1251.7,556.0 1254.5,558.5 1257.3,561.1 1260.1,563.8 1263.0,566.7 1265.8,569.8 1268.6,573.0 1271.4,576.3 1274.2,579.8 1277.0,583.4 1279.8,587.1 1282.6,590.9 1285.4,594.7 1288.2,598.6 1291.1,602.8 1293.9,607.1 1296.7,611.7 1299.5,616.7 1302.3,622.0 1305.1,627.7 1307.9,633.9 1310.7,640.5 1313.5,647.5 1316.3,654.9 1319.2,662.5 1322.0,670.3 1324.8,678.2 1327.6,686.2 1330.4,694.1 1333.2,701.9 1336.0,709.7 1338.8,717.5 1341.6,725.4 1344.4,733.4 1347.2,741.5 1350.1,749.6 1352.9,757.8 1355.7,766.0 1358.5,774.4 1361.3,782.8 1364.1,791.3 1366.9,800.0 1369.7,808.7 1372.5,817.6 1375.4,826.5 1378.2,835.4 1381.0,844.4 1383.8,853.4 1386.6,862.3 1389.4,871.2 1392.2,880.1 1395.0,889.1 1397.8,898.0 1400.6,907.0 1403.5,915.9 1406.3,924.9 1409.1,933.8 1411.9,942.7 1414.7,951.6 1417.5,960.5 1420.3,969.4 1423.1,978.3 1425.9,987.1 1428.7,996.0 1431.5,1004.9 1434.4,1013.7 1437.2,1022.4 1440.0,1031.1 1442.8,1039.7 1445.6,1048.1 1448.4,1056.5 1451.2,1064.8 1454.0,1073.0 1456.8,1081.1 1459.7,1089.2 1462.5,1097.2 1465.3,1105.1 1468.1,1113.0 1470.9,1120.9 1473.7,1128.6 1476.5,1136.5 1479.3,1144.4 1482.1,1152.3 1484.9,1160.1 1487.8,1167.9 1490.6,1175.5 1493.4,1182.9 1496.2,1190.1 1499.0,1196.9 1501.8,1203.3 1504.6,1209.4 1507.4,1215.1 1510.2,1220.5 1513.0,1225.7 1515.9,1230.6 1518.7,1235.3 1521.5,1239.9 1524.3,1244.3 1527.1,1248.6 1529.9,1252.9 1532.7,1257.0 1535.5,1260.8 1538.3,1264.6 1541.1,1268.1 1544.0,1271.5 1546.8,1274.8 1549.6,1278.0 1552.4,1281.2 1555.2,1284.2 1558.0,1287.3 1560.8,1290.3 1563.6,1293.2 1566.4,1296.1 1569.2,1298.8 1572.0,1301.5 1574.9,1304.1 1577.7,1306.6 1580.5,1309.0 1583.3,1311.3 1586.1,1313.5 1588.9,1315.5 1591.7,1317.3 1594.5,1319.1 1597.3,1320.7 1600.2,1322.2 1603.0,1323.7 1605.8,1325.1 1608.6,1326.5 1611.4,1327.8 1614.2,1329.1 1617.0,1330.4 1619.8,1331.6 1622.6,1332.8 1625.4,1334.0 1628.2,1335.0 1631.1,1336.1 1633.9,1337.1 1636.7,1338.0 1639.5,1338.9 1642.3,1339.7 1645.1,1340.5 1647.9,1341.2 1650.7,1341.8 1653.5,1342.4 1656.4,1342.9 1659.2,1343.4 1662.0,1343.8 1664.8,1344.3 1667.6,1344.7 1670.4,1345.2 1673.2,1345.6 1676.0,1346.0 1678.8,1346.3 1681.6,1346.7 1684.5,1347.0 1687.3,1347.3 1690.1,1347.6 1692.9,1347.9 1695.7,1348.2 1698.5,1348.5 1701.3,1348.8 1704.1,1349.0 1706.9,1349.3 1709.7,1349.5 1712.6,1349.7 1715.4,1349.9 1718.2,1350.1 1721.0,1350.3 1723.8,1350.5 1726.6,1350.7 1729.4,1350.9 1732.2,1351.1 1735.0,1351.3 1737.8,1351.5 1740.7,1351.7 1743.5,1351.9 1746.3,1352.0 1749.1,1352.2 1751.9,1352.3 1754.7,1352.5 1757.5,1352.6 1760.3,1352.8 1763.1,1352.9 1765.9,1353.1 1768.8,1353.2 1771.6,1353.3 1774.4,1353.4 1777.2,1353.5 1780.0,1353.6 1782.8,1353.7 1785.6,1353.8 1788.4,1353.9 1791.2,1354.0 1794.0,1354.1 1796.9,1354.1 1799.7,1354.2 1802.5,1354.2 1805.3,1354.3 1808.1,1354.4 1810.9,1354.4 1813.7,1354.5 1816.5,1354.5 1819.3,1354.6 1822.1,1354.6 1825.0,1354.6 1827.8,1354.7 1830.6,1354.7 1833.4,1354.8 1836.2,1354.8 1839.0,1354.8 1841.8,1354.9 1844.6,1354.9 1847.4,1354.9 1850.2,1355.0 1853.1,1355.0 1855.9,1355.0 1858.7,1355.1 1861.5,1355.1 1864.3,1355.1 1867.1,1355.2 1869.9,1355.2 1872.7,1355.2 1875.5,1355.2 1878.3,1355.3 1881.2,1355.3 1884.0,1355.3 1886.8,1355.3 1889.6,1355.4 1892.4,1355.4 1895.2,1355.4 1898.0,1355.4 1900.8,1355.5 1903.6,1355.5 1906.4,1355.5 1909.2,1355.5 1912.1,1355.6 1914.9,1355.6 1917.7,1355.6 1920.5,1355.6 1923.3,1355.7 1926.1,1355.7 1928.9,1355.7 1931.7,1355.7 1934.5,1355.7 1937.4,1355.8 1940.2,1355.8 1943.0,1355.8 1945.8,1355.8 1948.6,1355.8 1951.4,1355.8 1954.2,1355.8 1957.0,1355.9 1959.8,1355.9 1962.6,1355.9 1965.5,1355.9 1968.3,1355.9 1971.1,1355.9 1973.9,1356.0 1976.7,1356.0 1979.5,1356.0"/>
<polyline stroke="#008000" points="293.5,1356.4 296.3,1356.4 299.1,1356.4 301.9,1356.3 304.7,1356.3 307.6,1356.3 310.4,1356.3 313.2,1356.2 316.0,1356.2 318.8,1356.2 321.6,1356.2 324.4,1356.1 327.2,1356.1 330.0,1356.1 332.8,1356.0 335.6,1356.0 338.5,1356.0 341.3,1355.9 344.1,1355.9 346.9,1355.9 349.7,1355.8 352.5,1355.8 355.3,1355.8 358.1,1355.7 360.9,1355.7 363.8,1355.7 366.6,1355.6 369.4,1355.6 372.2,1355.6 375.0,1355.5 377.8,1355.5 380.6,1355.5 383.4,1355.5 386.2,1355.4 389.0,1355.4 391.9,1355.4 394.7,1355.3 397.5,1355.3 400.3,1355.3 403.1,1355.2 405.9,1355.2 408.7,1355.2 411.5,1355.1 414.3,1355.1 417.1,1355.1 419.9,1355.0 422.8,1355.0 425.6,1355.0 428.4,1354.9 431.2,1354.9 434.0,1354.9 436.8,1354.8 439.6,1354.8 442.4,1354.8 445.2,1354.7 448.1,1354.7 450.9,1354.6 453.7,1354.6 456.5,1354.6 459.3,1354.5 462.1,1354.5 464.9,1354.4 467.7,1354.4 470.5,1354.3 473.3,1354.3 476.1,1354.2 479.0,1354.2 481.8,1354.1 484.6,1354.1 487.4,1354.0 490.2,1354.0 493.0,1353.9 495.8,1353.9 498.6,1353.8 501.4,1353.8 504.2,1353.7 507.1,1353.7 509.9,1353.7 512.7,1353.6 515.5,1353.6 518.3,1353.5 521.1,1353.4 523.9,1353.4 526.7,1353.3 529.5,1353.3 532.4,1353.2 535.2,1353.2 538.0,1353.1 540.8,1353.1 543.6,1353.0 546.4,1352.9 549.2,1352.9 552.0,1352.8 554.8,1352.7 557.6,1352.7 560.5,1352.6 563.3,1352.6 566.1,1352.5 568.9,1352.4 571.7,1352.4 574.5,1352.3 577.3,1352.2 580.1,1352.2 582.9,1352.1 585.7,1352.0 588.5,1352.0 591.4,1351.9 594.2,1351.8 597.0,1351.8 599.8,1351.7 602.6,1351.6 605.4,1351.6 608.2,1351.5 611.0,1351.4 613.8,1351.4 616.7,1351.3 619.5,1351.2 622.3,1351.1 625.1,1351.1 627.9,1351.0 630.7,1350.9 633.5,1350.8 636.3,1350.8 639.1,1350.7 641.9,1350.6 644.8,1350.5 647.6,1350.4 650.4,1350.3 653.2,1350.2 656.0,1350.1 658.8,1350.0 661.6,1349.9 664.4,1349.8 667.2,1349.8 670.0,1349.7 672.9,1349.6 675.7,1349.5 678.5,1349.4 681.3,1349.3 684.1,1349.1 686.9,1349.0 689.7,1348.8 692.5,1348.7 695.3,1348.5 698.1,1348.3 701.0,1348.1 703.8,1347.9 706.6,1347.7 709.4,1347.5 712.2,1347.3 715.0,1347.0 717.8,1346.8 720.6,1346.6 723.4,1346.4 726.2,1346.1 729.0,1345.9 731.9,1345.6 734.7,1345.3 737.5,1344.9 740.3,1344.5 743.1,1344.0 745.9,1343.4 748.7,1342.9 751.5,1342.3 754.3,1341.7 757.2,1341.1 760.0,1340.3 762.8,1339.5 765.6,1338.6 768.4,1337.5 771.2,1336.3 774.0,1335.1 776.8,1333.8 779.6,1332.4 782.4,1331.0 785.2,1329.4 788.1,1327.7 790.9,1325.8 793.7,1323.7 796.5,1321.2 799.3,1318.5 802.1,1315.5 804.9,1312.2 807.7,1308.6 810.5,1304.9 813.4,1300.9 816.2,1296.7 819.0,1292.4 821.8,1287.9 824.6,1283.2 827.4,1278.5 830.2,1273.6 833.0,1268.6 835.8,1263.4 838.6,1258.1 841.5,1252.6 844.3,1246.9 847.1,1241.1 849.9,1235.1 852.7,1228.9 855.5,1222.4 858.3,1215.8 861.1,1208.9 863.9,1201.8 866.7,1194.5 869.6,1187.1 872.4,1179.5 875.2,1171.8 878.0,1163.9 880.8,1156.0 883.6,1148.0 886.4,1139.9 889.2,1131.6 892.0,1123.3 894.8,1114.8 897.6,1106.2 900.5,1097.5 903.3,1088.7 906.1,1079.8 908.9,1070.8 911.7,1061.7 914.5,1052.4 917.3,1042.9 920.1,1033.3 922.9,1023.6 925.8,1013.8 928.6,1003.9 931.4,994.1 934.2,984.2 937.0,974.5 939.8,964.9 942.6,955.3 945.4,945.7 948.2,936.1 951.0,926.5 953.9,917.0 956.7,907.5 959.5,898.1 962.3,888.8 965.1,879.6 967.9,870.5 970.7,861.5 973.5,852.6 976.3,843.8 979.1,835.1 982.0,826.5 984.8,818.0 987.6,809.5 990.4,801.2 993.2,793.0 996.0,785.0 998.8,777.0 1001.6,769.1 1004.4,761.3 1007.2,753.7 1010.1,746.1 1012.9,738.7 1015.7,731.4 1018.5,724.3 1021.3,717.4 1024.1,710.7 1026.9,704.3 1029.7,698.1 1032.5,692.1 1035.3,686.3 1038.2,680.7 1041.0,675.1 1043.8,669.7 1046.6,664.2 1049.4,658.7 1052.2,653.2 1055.0,647.5 1057.8,641.8 1060.6,636.0 1063.4,630.2 1066.2,624.4 1069.1,618.8 1071.9,613.5 1074.7,608.3 1077.5,603.6 1080.3,599.2 1083.1,595.2 1085.9,591.5 1088.7,588.1 1091.5,585.0 1094.3,582.1 1097.2,579.4 1100.0,576.9 1102.8,574.4 1105.6,572.1 1108.4,569.8 1111.2,567.6 1114.0,565.6 1116.8,563.6 1119.6,561.8 1122.5,560.1 1125.3,558.6 1128.1,557.2 1130.9,556.0 1133.7,554.9 1136.5,553.9 1139.3,553.2 1142.1,552.6 1144.9,552.2 1147.7,552.0 1150.6,551.9 1153.4,551.9 1156.2,552.0 1159.0,552.1 1161.8,552.3 1164.6,552.5 1167.4,552.7 1170.2,553.1 1173.0,553.6 1175.8,554.1 1178.7,554.7 1181.5,555.3 1184.3,555.9 1187.1,556.6 1189.9,557.2 1192.7,557.7 1195.5,558.2 1198.3,558.6 1201.1,559.0 1203.9,559.4 1206.8,559.9 1209.6,560.3 1212.4,560.8 1215.2,561.3 1218.0,561.9 1220.8,562.6 1223.6,563.3 1226.4,563.9 1229.2,564.5 1232.0,565.2 1234.8,565.9 1237.7,566.8 1240.5,567.8 1243.3,569.0 1246.1,570.5 1248.9,572.2 1251.7,574.2 1254.5,576.3 1257.3,578.7 1260.1,581.2 1263.0,583.9 1265.8,586.8 1268.6,589.9 1271.4,593.2 1274.2,596.7 1277.0,600.3 1279.8,604.1 1282.6,608.1 1285.4,612.2 1288.2,616.4 1291.1,620.9 1293.9,625.6 1296.7,630.6 1299.5,635.9 1302.3,641.5 1305.1,647.4 1307.9,653.8 1310.7,660.6 1313.5,667.8 1316.3,675.2 1319.2,683.0 1322.0,690.9 1324.8,698.8 1327.6,706.8 1330.4,714.8 1333.2,722.6 1336.0,730.3 1338.8,738.0 1341.6,745.8 1344.4,753.6 1347.2,761.4 1350.1,769.4 1352.9,777.3 1355.7,785.4 1358.5,793.5 1361.3,801.7 1364.1,810.0 1366.9,818.4 1369.7,826.9 1372.5,835.5 1375.4,844.1 1378.2,852.8 1381.0,861.5 1383.8,870.1 1386.6,878.8 1389.4,887.4 1392.2,896.0 1395.0,904.7 1397.8,913.3 1400.6,922.0 1403.5,930.7 1406.3,939.3 1409.1,947.9 1411.9,956.6 1414.7,965.2 1417.5,973.7 1420.3,982.3 1423.1,990.9 1425.9,999.5 1428.7,1008.1 1431.5,1016.6 1434.4,1025.1 1437.2,1033.6 1440.0,1042.0 1442.8,1050.3 1445.6,1058.4 1448.4,1066.5 1451.2,1074.5 1454.0,1082.5 1456.8,1090.3 1459.7,1098.1 1462.5,1105.9 1465.3,1113.5 1468.1,1121.2 1470.9,1128.7 1473.7,1136.2 1476.5,1143.8 1479.3,1151.4 1482.1,1159.1 1484.9,1166.7 1487.8,1174.2 1490.6,1181.6 1493.4,1188.7 1496.2,1195.6 1499.0,1202.2 1501.8,1208.4 1504.6,1214.2 1507.4,1219.8 1510.2,1225.0 1513.0,1230.0 1515.9,1234.8 1518.7,1239.3 1521.5,1243.8 1524.3,1248.0 1527.1,1252.2 1529.9,1256.3 1532.7,1260.2 1535.5,1264.0 1538.3,1267.6 1541.1,1271.0 1544.0,1274.3 1546.8,1277.5 1549.6,1280.6 1552.4,1283.7 1555.2,1286.6 1558.0,1289.6 1560.8,1292.5 1563.6,1295.3 1566.4,1298.1 1569.2,1300.8 1572.0,1303.4 1574.9,1305.9 1577.7,1308.3 1580.5,1310.6 1583.3,1312.8 1586.1,1314.9 1588.9,1316.9 1591.7,1318.7 1594.5,1320.4 1597.3,1321.9 1600.2,1323.4 1603.0,1324.8 1605.8,1326.2 1608.6,1327.5 1611.4,1328.8 1614.2,1330.0 1617.0,1331.3 1619.8,1332.5 1622.6,1333.7 1625.4,1334.8 1628.2,1335.8 1631.1,1336.8 1633.9,1337.8 1636.7,1338.7 1639.5,1339.5 1642.3,1340.4 1645.1,1341.1 1647.9,1341.8 1650.7,1342.4 1653.5,1342.9 1656.4,1343.4 1659.2,1343.9 1662.0,1344.3 1664.8,1344.8 1667.6,1345.2 1670.4,1345.6 1673.2,1346.0 1676.0,1346.4 1678.8,1346.7 1681.6,1347.1 1684.5,1347.4 1687.3,1347.7 1690.1,1348.0 1692.9,1348.3 1695.7,1348.5 1698.5,1348.8 1701.3,1349.1 1704.1,1349.3 1706.9,1349.6 1709.7,1349.8 1712.6,1350.0 1715.4,1350.2 1718.2,1350.4 1721.0,1350.6 1723.8,1350.8 1726.6,1351.0 1729.4,1351.2 1732.2,1351.4 1735.0,1351.6 1737.8,1351.7 1740.7,1351.9 1743.5,1352.1 1746.3,1352.2 1749.1,1352.4 1751.9,1352.5 1754.7,1352.7 1757.5,1352.8 1760.3,1353.0 1763.1,1353.1 1765.9,1353.2 1768.8,1353.4 1771.6,1353.5 1774.4,1353.6 1777.2,1353.7 1780.0,1353.8 1782.8,1353.9 1785.6,1354.0 1788.4,1354.1 1791.2,1354.1 1794.0,1354.2 1796.9,1354.3 1799.7,1354.3 1802.5,1354.4 1805.3,1354.4 1808.1,1354.5 1810.9,1354.5 1813.7,1354.6 1816.5,1354.6 1819.3,1354.7 1822.1,1354.7 1825.0,1354.8 1827.8,1354.8 1830.6,1354.8 1833.4,1354.9 1836.2,1354.9 1839.0,1355.0 1841.8,1355.0 1844.6,1355.0 1847.4,1355.1 1850.2,1355.1 1853.1,1355.1 1855.9,1355.2 1858.7,1355.2 1861.5,1355.2 1864.3,1355.2 1867.1,1355.3 1869.9,1355.3 1872.7,1355.3 1875.5,1355.4 1878.3,1355.4 1881.2,1355.4 1884.0,1355.4 1886.8,1355.4 1889.6,1355.5 1892.4,1355.5 1895.2,1355.5 1898.0,1355.5 1900.8,1355.6 1903.6,1355.6 1906.4,1355.6 1909.2,1355.6 1912.1,1355.7 1914.9,1355.7 1917.7,1355.7 1920.5,1355.7 1923.3,1355.8 1926.1,1355.8 1928.9,1355.8 1931.7,1355.8 1934.5,1355.8 1937.4,1355.8 1940.2,1355.9 1943.0,1355.9 1945.8,1355.9 1948.6,1355.9 1951.4,1355.9 1954.2,1355.9 1957.0,1356.0 1959.8,1356.0 1962.6,1356.0 1965.5,1356.0 1968.3,1356.0 1971.1,1356.0 1973.9,1356.0 1976.7,1356.1 1979.5,1356.1"/>
<polyline stroke="#008080" points="293.5,1356.6 296.3,1356.6 299.1,1356.5 301.9,1356.5 304.7,1356.5 307.6,1356.5 310.4,1356.5 313.2,1356.4 316.0,1356.4 318.8,1356.4 321.6,1356.4 324.4,1356.3 327.2,1356.3 330.0,1356.3 332.8,1356.2 335.6,1356.2 338.5,1356.2 341.3,1356.2 344.1,1356.1 346.9,1356.1 349.7,1356.1 352.5,1356.0 355.3,1356.0 358.1,1356.0 360.9,1355.9 363.8,1355.9 366.6,1355.9 369.4,1355.9 372.2,1355.8 375.0,1355.8 377.8,1355.8 380.6,1355.7 383.4,1355.7 386.2,1355.7 389.0,1355.7 391.9,1355.6 394.7,1355.6 397.5,1355.6 400.3,1355.5 403.1,1355.5 405.9,1355.5 408.7,1355.4 411.5,1355.4 414.3,1355.4 417.1,1355.4 419.9,1355.3 422.8,1355.3 425.6,1355.3 428.4,1355.2 431.2,1355.2 434.0,1355.2 436.8,1355.1 439.6,1355.1 442.4,1355.1 445.2,1355.0 448.1,1355.0 450.9,1355.0 453.7,1354.9 456.5,1354.9 459.3,1354.8 462.1,1354.8 464.9,1354.8 467.7,1354.7 470.5,1354.7 473.3,1354.6 476.1,1354.6 479.0,1354.5 481.8,1354.5 484.6,1354.5 487.4,1354.4 490.2,1354.4 493.0,1354.3 495.8,1354.3 498.6,1354.2 501.4,1354.2 504.2,1354.1 507.1,1354.1 509.9,1354.1 512.7,1354.0 515.5,1354.0 518.3,1353.9 521.1,1353.9 523.9,1353.8 526.7,1353.8 529.5,1353.7 532.4,1353.7 535.2,1353.6 538.0,1353.6 540.8,1353.5 543.6,1353.5 546.4,1353.4 549.2,1353.4 552.0,1353.3 554.8,1353.2 557.6,1353.2 560.5,1353.1 563.3,1353.1 566.1,1353.0 568.9,1352.9 571.7,1352.9 574.5,1352.8 577.3,1352.8 580.1,1352.7 582.9,1352.6 585.7,1352.6 588.5,1352.5 591.4,1352.5 594.2,1352.4 597.0,1352.3 599.8,1352.3 602.6,1352.2 605.4,1352.2 608.2,1352.1 611.0,1352.0 613.8,1352.0 616.7,1351.9 619.5,1351.8 622.3,1351.8 625.1,1351.7 627.9,1351.6 630.7,1351.6 633.5,1351.5 636.3,1351.4 639.1,1351.3 641.9,1351.3 644.8,1351.2 647.6,1351.1 650.4,1351.0 653.2,1350.9 656.0,1350.8 658.8,1350.7 661.6,1350.7 664.4,1350.6 667.2,1350.5 670.0,1350.4 672.9,1350.3 675.7,1350.2 678.5,1350.1 681.3,1350.0 684.1,1349.9 686.9,1349.8 689.7,1349.6 692.5,1349.5 695.3,1349.3 698.1,1349.2 701.0,1349.0 703.8,1348.8 706.6,1348.7 709.4,1348.5 712.2,1348.2 715.0,1348.0 717.8,1347.8 720.6,1347.6 723.4,1347.4 726.2,1347.2 729.0,1346.9 731.9,1346.7 734.7,1346.4 737.5,1346.1 740.3,1345.7 743.1,1345.2 745.9,1344.7 748.7,1344.2 751.5,1343.7 754.3,1343.1 757.2,1342.5 760.0,1341.8 762.8,1341.0 765.6,1340.2 768.4,1339.2 771.2,1338.1 774.0,1336.9 776.8,1335.7 779.6,1334.5 782.4,1333.2 785.2,1331.7 788.1,1330.2 790.9,1328.4 793.7,1326.4 796.5,1324.2 799.3,1321.7 802.1,1318.9 804.9,1315.9 807.7,1312.6 810.5,1309.2 813.4,1305.5 816.2,1301.7 819.0,1297.7 821.8,1293.6 824.6,1289.4 827.4,1285.0 830.2,1280.6 833.0,1276.0 835.8,1271.3 838.6,1266.4 841.5,1261.4 844.3,1256.2 847.1,1250.9 849.9,1245.4 852.7,1239.7 855.5,1233.9 858.3,1227.8 861.1,1221.5 863.9,1215.0 866.7,1208.4 869.6,1201.6 872.4,1194.6 875.2,1187.6 878.0,1180.4 880.8,1173.2 883.6,1165.8 886.4,1158.4 889.2,1150.9 892.0,1143.2 894.8,1135.5 897.6,1127.6 900.5,1119.7 903.3,1111.6 906.1,1103.4 908.9,1095.2 911.7,1086.8 914.5,1078.4 917.3,1069.7 920.1,1060.9 922.9,1052.0 925.8,1043.0 928.6,1034.0 931.4,1025.0 934.2,1016.0 937.0,1007.1 939.8,998.3 942.6,989.5 945.4,980.7 948.2,971.9 951.0,963.2 953.9,954.4 956.7,945.7 959.5,937.1 962.3,928.6 965.1,920.2 967.9,911.9 970.7,903.7 973.5,895.6 976.3,887.5 979.1,879.5 982.0,871.6 984.8,863.8 987.6,856.1 990.4,848.5 993.2,841.0 996.0,833.6 998.8,826.3 1001.6,819.1 1004.4,811.9 1007.2,804.9 1010.1,797.9 1012.9,791.1 1015.7,784.4 1018.5,777.9 1021.3,771.5 1024.1,765.3 1026.9,759.4 1029.7,753.6 1032.5,748.1 1035.3,742.7 1038.2,737.5 1041.0,732.3 1043.8,727.2 1046.6,722.1 1049.4,717.1 1052.2,711.9 1055.0,706.8 1057.8,701.5 1060.6,696.1 1063.4,690.8 1066.2,685.6 1069.1,680.5 1071.9,675.6 1074.7,671.0 1077.5,666.7 1080.3,662.7 1083.1,659.1 1085.9,655.9 1088.7,652.9 1091.5,650.1 1094.3,647.6 1097.2,645.2 1100.0,643.0 1102.8,640.8 1105.6,638.8 1108.4,636.7 1111.2,634.7 1114.0,632.8 1116.8,631.0 1119.6,629.3 1122.5,627.8 1125.3,626.3 1128.1,625.0 1130.9,623.8 1133.7,622.8 1136.5,622.0 1139.3,621.4 1142.1,620.9 1144.9,620.6 1147.7,620.5 1150.6,620.5 1153.4,620.6 1156.2,620.9 1159.0,621.2 1161.8,621.5 1164.6,621.9 1167.4,622.4 1170.2,623.0 1173.0,623.7 1175.8,624.6 1178.7,625.4 1181.5,626.4 1184.3,627.3 1187.1,628.2 1189.9,629.1 1192.7,629.9 1195.5,630.7 1198.3,631.4 1201.1,632.0 1203.9,632.7 1206.8,633.4 1209.6,634.0 1212.4,634.7 1215.2,635.5 1218.0,636.3 1220.8,637.1 1223.6,638.0 1226.4,638.8 1229.2,639.6 1232.0,640.5 1234.8,641.3 1237.7,642.3 1240.5,643.4 1243.3,644.7 1246.1,646.1 1248.9,647.8 1251.7,649.7 1254.5,651.7 1257.3,653.9 1260.1,656.2 1263.0,658.7 1265.8,661.3 1268.6,664.0 1271.4,666.9 1274.2,669.9 1277.0,673.1 1279.8,676.3 1282.6,679.6 1285.4,683.0 1288.2,686.5 1291.1,690.2 1293.9,694.1 1296.7,698.2 1299.5,702.6 1302.3,707.3 1305.1,712.4 1307.9,717.8 1310.7,723.7 1313.5,729.9 1316.3,736.4 1319.2,743.1 1322.0,750.0 1324.8,756.9 1327.6,763.9 1330.4,770.9 1333.2,777.8 1336.0,784.7 1338.8,791.6 1341.6,798.5 1344.4,805.6 1347.2,812.6 1350.1,819.8 1352.9,827.0 1355.7,834.3 1358.5,841.7 1361.3,849.1 1364.1,856.6 1366.9,864.3 1369.7,872.1 1372.5,879.9 1375.4,887.8 1378.2,895.7 1381.0,903.6 1383.8,911.6 1386.6,919.5 1389.4,927.4 1392.2,935.3 1395.0,943.2 1397.8,951.1 1400.6,959.0 1403.5,966.9 1406.3,974.9 1409.1,982.8 1411.9,990.7 1414.7,998.5 1417.5,1006.4 1420.3,1014.2 1423.1,1022.1 1425.9,1029.9 1428.7,1037.8 1431.5,1045.6 1434.4,1053.4 1437.2,1061.2 1440.0,1068.8 1442.8,1076.4 1445.6,1083.9 1448.4,1091.3 1451.2,1098.6 1454.0,1105.9 1456.8,1113.0 1459.7,1120.2 1462.5,1127.2 1465.3,1134.2 1468.1,1141.2 1470.9,1148.1 1473.7,1155.0 1476.5,1161.9 1479.3,1168.9 1482.1,1175.8 1484.9,1182.8 1487.8,1189.7 1490.6,1196.4 1493.4,1202.9 1496.2,1209.2 1499.0,1215.3 1501.8,1220.9 1504.6,1226.3 1507.4,1231.3 1510.2,1236.1 1513.0,1240.7 1515.9,1245.0 1518.7,1249.2 1521.5,1253.3 1524.3,1257.2 1527.1,1261.0 1529.9,1264.7 1532.7,1268.3 1535.5,1271.8 1538.3,1275.1 1541.1,1278.2 1544.0,1281.3 1546.8,1284.2 1549.6,1287.0 1552.4,1289.8 1555.2,1292.5 1558.0,1295.2 1560.8,1297.9 1563.6,1300.5 1566.4,1303.0 1569.2,1305.5 1572.0,1307.9 1574.9,1310.2 1577.7,1312.4 1580.5,1314.6 1583.3,1316.6 1586.1,1318.5 1588.9,1320.3 1591.7,1322.0 1594.5,1323.5 1597.3,1325.0 1600.2,1326.3 1603.0,1327.6 1605.8,1328.9 1608.6,1330.1 1611.4,1331.2 1614.2,1332.4 1617.0,1333.6 1619.8,1334.7 1622.6,1335.7 1625.4,1336.7 1628.2,1337.7 1631.1,1338.6 1633.9,1339.5 1636.7,1340.4 1639.5,1341.2 1642.3,1341.9 1645.1,1342.6 1647.9,1343.2 1650.7,1343.7 1653.5,1344.2 1656.4,1344.7 1659.2,1345.1 1662.0,1345.5 1664.8,1345.9 1667.6,1346.3 1670.4,1346.7 1673.2,1347.1 1676.0,1347.4 1678.8,1347.7 1681.6,1348.0 1684.5,1348.3 1687.3,1348.6 1690.1,1348.9 1692.9,1349.1 1695.7,1349.4 1698.5,1349.6 1701.3,1349.9 1704.1,1350.1 1706.9,1350.3 1709.7,1350.5 1712.6,1350.7 1715.4,1350.9 1718.2,1351.1 1721.0,1351.3 1723.8,1351.5 1726.6,1351.6 1729.4,1351.8 1732.2,1352.0 1735.0,1352.1 1737.8,1352.3 1740.7,1352.5 1743.5,1352.6 1746.3,1352.8 1749.1,1352.9 1751.9,1353.0 1754.7,1353.2 1757.5,1353.3 1760.3,1353.4 1763.1,1353.6 1765.9,1353.7 1768.8,1353.8 1771.6,1353.9 1774.4,1354.0 1777.2,1354.1 1780.0,1354.2 1782.8,1354.3 1785.6,1354.4 1788.4,1354.4 1791.2,1354.5 1794.0,1354.6 1796.9,1354.6 1799.7,1354.7 1802.5,1354.7 1805.3,1354.8 1808.1,1354.8 1810.9,1354.9 1813.7,1354.9 1816.5,1355.0 1819.3,1355.0 1822.1,1355.0 1825.0,1355.1 1827.8,1355.1 1830.6,1355.2 1833.4,1355.2 1836.2,1355.2 1839.0,1355.3 1841.8,1355.3 1844.6,1355.3 1847.4,1355.3 1850.2,1355.4 1853.1,1355.4 1855.9,1355.4 1858.7,1355.5 1861.5,1355.5 1864.3,1355.5 1867.1,1355.5 1869.9,1355.6 1872.7,1355.6 1875.5,1355.6 1878.3,1355.6 1881.2,1355.7 1884.0,1355.7 1886.8,1355.7 1889.6,1355.7 1892.4,1355.7 1895.2,1355.8 1898.0,1355.8 1900.8,1355.8 1903.6,1355.8 1906.4,1355.9 1909.2,1355.9 1912.1,1355.9 1914.9,1355.9 1917.7,1356.0 1920.5,1356.0 1923.3,1356.0 1926.1,1356.0 1928.9,1356.0 1931.7,1356.0 1934.5,1356.1 1937.4,1356.1 1940.2,1356.1 1943.0,1356.1 1945.8,1356.1 1948.6,1356.1 1951.4,1356.1 1954.2,1356.2 1957.0,1356.2 1959.8,1356.2 1962.6,1356.2 1965.5,1356.2 1968.3,1356.2 1971.1,1356.2 1973.9,1356.3 1976.7,1356.3 1979.5,1356.3"/>
<polyline stroke="#0000A0" points="293.5,1356.7 296.3,1356.7 299.1,1356.7 301.9,1356.7 304.7,1356.6 307.6,1356.6 310.4,1356.6 313.2,1356.6 316.0,1356.5 318.8,1356.5 321.6,1356.5 324.4,1356.5 327.2,1356.5 330.0,1356.4 332.8,1356.4 335.6,1356.4 338.5,1356.3 341.3,1356.3 344.1,1356.3 346.9,1356.3 349.7,1356.2 352.5,1356.2 355.3,1356.2 358.1,1356.1 360.9,1356.1 363.8,1356.1 366.6,1356.1 369.4,1356.0 372.2,1356.0 375.0,1356.0 377.8,1356.0 380.6,1355.9 383.4,1355.9 386.2,1355.9 389.0,1355.8 391.9,1355.8 394.7,1355.8 397.5,1355.8 400.3,1355.7 403.1,1355.7 405.9,1355.7 408.7,1355.7 411.5,1355.6 414.3,1355.6 417.1,1355.6 419.9,1355.5 422.8,1355.5 425.6,1355.5 428.4,1355.5 431.2,1355.4 434.0,1355.4 436.8,1355.4 439.6,1355.3 442.4,1355.3 445.2,1355.3 448.1,1355.2 450.9,1355.2 453.7,1355.2 456.5,1355.1 459.3,1355.1 462.1,1355.1 464.9,1355.0 467.7,1355.0 470.5,1354.9 473.3,1354.9 476.1,1354.9 479.0,1354.8 481.8,1354.8 484.6,1354.7 487.4,1354.7 490.2,1354.6 493.0,1354.6 495.8,1354.6 498.6,1354.5 501.4,1354.5 504.2,1354.4 507.1,1354.4 509.9,1354.4 512.7,1354.3 515.5,1354.3 518.3,1354.2 521.1,1354.2 523.9,1354.1 526.7,1354.1 529.5,1354.0 532.4,1354.0 535.2,1354.0 538.0,1353.9 540.8,1353.9 543.6,1353.8 546.4,1353.7 549.2,1353.7 552.0,1353.6 554.8,1353.6 557.6,1353.5 560.5,1353.5 563.3,1353.4 566.1,1353.4 568.9,1353.3 571.7,1353.3 574.5,1353.2 577.3,1353.1 580.1,1353.1 582.9,1353.0 585.7,1353.0 588.5,1352.9 591.4,1352.9 594.2,1352.8 597.0,1352.8 599.8,1352.7 602.6,1352.6 605.4,1352.6 608.2,1352.5 611.0,1352.5 613.8,1352.4 616.7,1352.4 619.5,1352.3 622.3,1352.2 625.1,1352.2 627.9,1352.1 630.7,1352.0 633.5,1352.0 636.3,1351.9 639.1,1351.8 641.9,1351.7 644.8,1351.7 647.6,1351.6 650.4,1351.5 653.2,1351.4 656.0,1351.4 658.8,1351.3 661.6,1351.2 664.4,1351.1 667.2,1351.0 670.0,1351.0 672.9,1350.9 675.7,1350.8 678.5,1350.7 681.3,1350.6 684.1,1350.5 686.9,1350.4 689.7,1350.2 692.5,1350.1 695.3,1350.0 698.1,1349.8 701.0,1349.7 703.8,1349.5 706.6,1349.3 709.4,1349.1 712.2,1348.9 715.0,1348.7 717.8,1348.5 720.6,1348.3 723.4,1348.1 726.2,1347.9 729.0,1347.7 731.9,1347.5 734.7,1347.2 737.5,1346.9 740.3,1346.5 743.1,1346.1 745.9,1345.6 748.7,1345.2 751.5,1344.7 754.3,1344.1 757.2,1343.5 760.0,1342.9 762.8,1342.1 765.6,1341.3 768.4,1340.4 771.2,1339.4 774.0,1338.3 776.8,1337.1 779.6,1336.0 782.4,1334.7 785.2,1333.4 788.1,1331.9 790.9,1330.3 793.7,1328.4 796.5,1326.3 799.3,1324.0 802.1,1321.4 804.9,1318.6 807.7,1315.6 810.5,1312.3 813.4,1308.9 816.2,1305.4 819.0,1301.6 821.8,1297.8 824.6,1293.8 827.4,1289.8 830.2,1285.6 833.0,1281.4 835.8,1277.0 838.6,1272.5 841.5,1267.8 844.3,1263.0 847.1,1258.0 849.9,1252.9 852.7,1247.6 855.5,1242.2 858.3,1236.5 861.1,1230.7 863.9,1224.6 866.7,1218.4 869.6,1212.1 872.4,1205.6 875.2,1199.1 878.0,1192.4 880.8,1185.6 883.6,1178.8 886.4,1171.9 889.2,1164.9 892.0,1157.8 894.8,1150.5 897.6,1143.2 900.5,1135.8 903.3,1128.2 906.1,1120.6 908.9,1112.9 911.7,1105.1 914.5,1097.2 917.3,1089.2 920.1,1081.0 922.9,1072.6 925.8,1064.3 928.6,1055.9 931.4,1047.4 934.2,1039.1 937.0,1030.7 939.8,1022.5 942.6,1014.4 945.4,1006.2 948.2,998.0 951.0,989.8 953.9,981.7 956.7,973.6 959.5,965.5 962.3,957.6 965.1,949.7 967.9,942.0 970.7,934.3 973.5,926.7 976.3,919.2 979.1,911.8 982.0,904.4 984.8,897.1 987.6,889.9 990.4,882.9 993.2,875.9 996.0,869.0 998.8,862.2 1001.6,855.5 1004.4,848.8 1007.2,842.3 1010.1,835.8 1012.9,829.5 1015.7,823.3 1018.5,817.2 1021.3,811.4 1024.1,805.7 1026.9,800.2 1029.7,795.0 1032.5,789.9 1035.3,785.0 1038.2,780.2 1041.0,775.5 1043.8,770.9 1046.6,766.3 1049.4,761.7 1052.2,757.0 1055.0,752.3 1057.8,747.5 1060.6,742.6 1063.4,737.7 1066.2,733.0 1069.1,728.3 1071.9,723.8 1074.7,719.5 1077.5,715.5 1080.3,711.9 1083.1,708.5 1085.9,705.5 1088.7,702.6 1091.5,700.0 1094.3,697.6 1097.2,695.3 1100.0,693.2 1102.8,691.1 1105.6,689.1 1108.4,687.2 1111.2,685.2 1114.0,683.4 1116.8,681.7 1119.6,680.0 1122.5,678.5 1125.3,677.1 1128.1,675.8 1130.9,674.6 1133.7,673.6 1136.5,672.7 1139.3,671.9 1142.1,671.4 1144.9,670.9 1147.7,670.7 1150.6,670.5 1153.4,670.4 1156.2,670.4 1159.0,670.5 1161.8,670.6 1164.6,670.7 1167.4,671.0 1170.2,671.3 1173.0,671.7 1175.8,672.2 1178.7,672.7 1181.5,673.3 1184.3,673.9 1187.1,674.5 1189.9,675.2 1192.7,675.7 1195.5,676.3 1198.3,676.8 1201.1,677.3 1203.9,677.9 1206.8,678.4 1209.6,679.0 1212.4,679.7 1215.2,680.4 1218.0,681.2 1220.8,682.1 1223.6,683.0 1226.4,684.0 1229.2,685.0 1232.0,686.0 1234.8,687.2 1237.7,688.4 1240.5,689.7 1243.3,691.2 1246.1,692.9 1248.9,694.7 1251.7,696.7 1254.5,698.8 1257.3,701.0 1260.1,703.4 1263.0,706.0 1265.8,708.6 1268.6,711.3 1271.4,714.2 1274.2,717.1 1277.0,720.2 1279.8,723.2 1282.6,726.3 1285.4,729.4 1288.2,732.6 1291.1,735.9 1293.9,739.4 1296.7,743.1 1299.5,747.1 1302.3,751.4 1305.1,756.0 1307.9,761.1 1310.7,766.5 1313.5,772.2 1316.3,778.2 1319.2,784.4 1322.0,790.8 1324.8,797.2 1327.6,803.7 1330.4,810.2 1333.2,816.7 1336.0,823.1 1338.8,829.5 1341.6,836.0 1344.4,842.6 1347.2,849.3 1350.1,856.0 1352.9,862.7 1355.7,869.6 1358.5,876.5 1361.3,883.4 1364.1,890.5 1366.9,897.6 1369.7,904.8 1372.5,912.1 1375.4,919.5 1378.2,926.9 1381.0,934.3 1383.8,941.7 1386.6,949.1 1389.4,956.4 1392.2,963.8 1395.0,971.1 1397.8,978.5 1400.6,985.9 1403.5,993.3 1406.3,1000.7 1409.1,1008.1 1411.9,1015.4 1414.7,1022.8 1417.5,1030.1 1420.3,1037.4 1423.1,1044.7 1425.9,1052.1 1428.7,1059.4 1431.5,1066.7 1434.4,1074.0 1437.2,1081.2 1440.0,1088.3 1442.8,1095.4 1445.6,1102.4 1448.4,1109.3 1451.2,1116.1 1454.0,1122.9 1456.8,1129.6 1459.7,1136.2 1462.5,1142.8 1465.3,1149.3 1468.1,1155.8 1470.9,1162.2 1473.7,1168.6 1476.5,1175.1 1479.3,1181.5 1482.1,1188.0 1484.9,1194.5 1487.8,1200.9 1490.6,1207.2 1493.4,1213.3 1496.2,1219.1 1499.0,1224.7 1501.8,1230.0 1504.6,1235.0 1507.4,1239.7 1510.2,1244.2 1513.0,1248.4 1515.9,1252.5 1518.7,1256.4 1521.5,1260.2 1524.3,1263.8 1527.1,1267.4 1529.9,1270.9 1532.7,1274.2 1535.5,1277.5 1538.3,1280.5 1541.1,1283.5 1544.0,1286.3 1546.8,1289.0 1549.6,1291.7 1552.4,1294.3 1555.2,1296.8 1558.0,1299.4 1560.8,1301.9 1563.6,1304.3 1566.4,1306.7 1569.2,1309.0 1572.0,1311.2 1574.9,1313.4 1577.7,1315.4 1580.5,1317.4 1583.3,1319.3 1586.1,1321.1 1588.9,1322.8 1591.7,1324.3 1594.5,1325.8 1597.3,1327.1 1600.2,1328.4 1603.0,1329.6 1605.8,1330.8 1608.6,1331.9 1611.4,1333.0 1614.2,1334.1 1617.0,1335.2 1619.8,1336.2 1622.6,1337.2 1625.4,1338.2 1628.2,1339.1 1631.1,1340.0 1633.9,1340.8 1636.7,1341.6 1639.5,1342.3 1642.3,1343.0 1645.1,1343.6 1647.9,1344.2 1650.7,1344.7 1653.5,1345.2 1656.4,1345.6 1659.2,1346.0 1662.0,1346.4 1664.8,1346.8 1667.6,1347.1 1670.4,1347.5 1673.2,1347.8 1676.0,1348.2 1678.8,1348.5 1681.6,1348.8 1684.5,1349.0 1687.3,1349.3 1690.1,1349.5 1692.9,1349.8 1695.7,1350.0 1698.5,1350.2 1701.3,1350.5 1704.1,1350.7 1706.9,1350.9 1709.7,1351.1 1712.6,1351.2 1715.4,1351.4 1718.2,1351.6 1721.0,1351.8 1723.8,1351.9 1726.6,1352.1 1729.4,1352.3 1732.2,1352.4 1735.0,1352.6 1737.8,1352.7 1740.7,1352.9 1743.5,1353.0 1746.3,1353.2 1749.1,1353.3 1751.9,1353.4 1754.7,1353.5 1757.5,1353.7 1760.3,1353.8 1763.1,1353.9 1765.9,1354.0 1768.8,1354.1 1771.6,1354.2 1774.4,1354.3 1777.2,1354.4 1780.0,1354.5 1782.8,1354.6 1785.6,1354.7 1788.4,1354.7 1791.2,1354.8 1794.0,1354.8 1796.9,1354.9 1799.7,1354.9 1802.5,1355.0 1805.3,1355.0 1808.1,1355.1 1810.9,1355.1 1813.7,1355.2 1816.5,1355.2 1819.3,1355.2 1822.1,1355.3 1825.0,1355.3 1827.8,1355.3 1830.6,1355.4 1833.4,1355.4 1836.2,1355.4 1839.0,1355.5 1841.8,1355.5 1844.6,1355.5 1847.4,1355.6 1850.2,1355.6 1853.1,1355.6 1855.9,1355.6 1858.7,1355.7 1861.5,1355.7 1864.3,1355.7 1867.1,1355.7 1869.9,1355.8 1872.7,1355.8 1875.5,1355.8 1878.3,1355.8 1881.2,1355.9 1884.0,1355.9 1886.8,1355.9 1889.6,1355.9 1892.4,1355.9 1895.2,1356.0 1898.0,1356.0 1900.8,1356.0 1903.6,1356.0 1906.4,1356.0 1909.2,1356.1 1912.1,1356.1 1914.9,1356.1 1917.7,1356.1 1920.5,1356.1 1923.3,1356.2 1926.1,1356.2 1928.9,1356.2 1931.7,1356.2 1934.5,1356.2 1937.4,1356.2 1940.2,1356.2 1943.0,1356.3 1945.8,1356.3 1948.6,1356.3 1951.4,1356.3 1954.2,1356.3 1957.0,1356.3 1959.8,1356.3 1962.6,1356.4 1965.5,1356.4 1968.3,1356.4 1971.1,1356.4 1973.9,1356.4 1976.7,1356.4 1979.5,1356.4"/>
<polyline stroke="#FF8000" points="293.5,1356.9 296.3,1356.9 299.1,1356.9 301.9,1356.9 304.7,1356.8 307.6,1356.8 310.4,1356.8 313.2,1356.8 316.0,1356.8 318.8,1356.8 321.6,1356.7 324.4,1356.7 327.2,1356.7 330.0,1356.7 332.8,1356.6 335.6,1356.6 338.5,1356.6 341.3,1356.6 344.1,1356.5 346.9,1356.5 349.7,1356.5 352.5,1356.5 355.3,1356.4 358.1,1356.4 360.9,1356.4 363.8,1356.4 366.6,1356.3 369.4,1356.3 372.2,1356.3 375.0,1356.3 377.8,1356.2 380.6,1356.2 383.4,1356.2 386.2,1356.2 389.0,1356.1 391.9,1356.1 394.7,1356.1 397.5,1356.1 400.3,1356.0 403.1,1356.0 405.9,1356.0 408.7,1356.0 411.5,1356.0 414.3,1355.9 417.1,1355.9 419.9,1355.9 422.8,1355.9 425.6,1355.8 428.4,1355.8 431.2,1355.8 434.0,1355.8 436.8,1355.7 439.6,1355.7 442.4,1355.7 445.2,1355.6 448.1,1355.6 450.9,1355.6 453.7,1355.5 456.5,1355.5 459.3,1355.5 462.1,1355.4 464.9,1355.4 467.7,1355.4 470.5,1355.3 473.3,1355.3 476.1,1355.3 479.0,1355.2 481.8,1355.2 484.6,1355.2 487.4,1355.1 490.2,1355.1 493.0,1355.0 495.8,1355.0 498.6,1355.0 501.4,1354.9 504.2,1354.9 507.1,1354.9 509.9,1354.8 512.7,1354.8 515.5,1354.8 518.3,1354.7 521.1,1354.7 523.9,1354.6 526.7,1354.6 529.5,1354.6 532.4,1354.5 535.2,1354.5 538.0,1354.4 540.8,1354.4 543.6,1354.3 546.4,1354.3 549.2,1354.2 552.0,1354.2 554.8,1354.1 557.6,1354.1 560.5,1354.1 563.3,1354.0 566.1,1354.0 568.9,1353.9 571.7,1353.9 574.5,1353.8 577.3,1353.8 580.1,1353.7 582.9,1353.7 585.7,1353.6 588.5,1353.6 591.4,1353.5 594.2,1353.5 597.0,1353.4 599.8,1353.4 602.6,1353.3 605.4,1353.3 608.2,1353.2 611.0,1353.2 613.8,1353.1 616.7,1353.1 619.5,1353.0 622.3,1352.9 625.1,1352.9 627.9,1352.8 630.7,1352.8 633.5,1352.7 636.3,1352.6 639.1,1352.6 641.9,1352.5 644.8,1352.4 647.6,1352.4 650.4,1352.3 653.2,1352.2 656.0,1352.2 658.8,1352.1 661.6,1352.0 664.4,1352.0 667.2,1351.9 670.0,1351.8 672.9,1351.7 675.7,1351.7 678.5,1351.6 681.3,1351.5 684.1,1351.4 686.9,1351.3 689.7,1351.2 692.5,1351.1 695.3,1350.9 698.1,1350.8 701.0,1350.7 703.8,1350.5 706.6,1350.4 709.4,1350.2 712.2,1350.0 715.0,1349.8 717.8,1349.7 720.6,1349.5 723.4,1349.3 726.2,1349.2 729.0,1349.0 731.9,1348.8 734.7,1348.5 737.5,1348.2 740.3,1347.9 743.1,1347.5 745.9,1347.1 748.7,1346.7 751.5,1346.2 754.3,1345.7 757.2,1345.2 760.0,1344.6 762.8,1343.9 765.6,1343.1 768.4,1342.3 771.2,1341.4 774.0,1340.4 776.8,1339.4 779.6,1338.3 782.4,1337.2 785.2,1336.0 788.1,1334.7 790.9,1333.2 793.7,1331.6 796.5,1329.7 799.3,1327.7 802.1,1325.4 804.9,1322.8 807.7,1320.1 810.5,1317.3 813.4,1314.3 816.2,1311.1 819.0,1307.8 821.8,1304.4 824.6,1300.9 827.4,1297.3 830.2,1293.6 833.0,1289.9 835.8,1286.0 838.6,1282.0 841.5,1277.9 844.3,1273.6 847.1,1269.2 849.9,1264.7 852.7,1260.0 855.5,1255.2 858.3,1250.2 861.1,1245.1 863.9,1239.7 866.7,1234.3 869.6,1228.7 872.4,1223.0 875.2,1217.2 878.0,1211.3 880.8,1205.3 883.6,1199.3 886.4,1193.2 889.2,1186.9 892.0,1180.6 894.8,1174.2 897.6,1167.7 900.5,1161.1 903.3,1154.4 906.1,1147.7 908.9,1140.9 911.7,1134.0 914.5,1127.0 917.3,1119.8 920.1,1112.5 922.9,1105.2 925.8,1097.8 928.6,1090.3 931.4,1082.9 934.2,1075.4 937.0,1068.1 939.8,1060.8 942.6,1053.5 945.4,1046.3 948.2,1039.0 951.0,1031.8 953.9,1024.5 956.7,1017.4 959.5,1010.3 962.3,1003.2 965.1,996.3 967.9,989.4 970.7,982.6 973.5,975.9 976.3,969.2 979.1,962.6 982.0,956.1 984.8,949.6 987.6,943.3 990.4,937.0 993.2,930.8 996.0,924.7 998.8,918.7 1001.6,912.7 1004.4,906.8 1007.2,901.0 1010.1,895.3 1012.9,889.7 1015.7,884.2 1018.5,878.9 1021.3,873.7 1024.1,868.7 1026.9,863.9 1029.7,859.3 1032.5,854.9 1035.3,850.6 1038.2,846.4 1041.0,842.4 1043.8,838.4 1046.6,834.4 1049.4,830.4 1052.2,826.4 1055.0,822.4 1057.8,818.3 1060.6,814.1 1063.4,810.0 1066.2,806.0 1069.1,802.1 1071.9,798.3 1074.7,794.6 1077.5,791.2 1080.3,788.1 1083.1,785.2 1085.9,782.6 1088.7,780.1 1091.5,777.8 1094.3,775.7 1097.2,773.7 1100.0,771.8 1102.8,770.0 1105.6,768.1 1108.4,766.3 1111.2,764.6 1114.0,762.8 1116.8,761.1 1119.6,759.5 1122.5,758.0 1125.3,756.6 1128.1,755.3 1130.9,754.0 1133.7,753.0 1136.5,752.0 1139.3,751.2 1142.1,750.6 1144.9,750.1 1147.7,749.7 1150.6,749.4 1153.4,749.2 1156.2,749.1 1159.0,749.0 1161.8,749.0 1164.6,749.0 1167.4,749.1 1170.2,749.3 1173.0,749.5 1175.8,749.9 1178.7,750.3 1181.5,750.7 1184.3,751.2 1187.1,751.7 1189.9,752.2 1192.7,752.6 1195.5,753.1 1198.3,753.5 1201.1,753.9 1203.9,754.3 1206.8,754.8 1209.6,755.3 1212.4,755.8 1215.2,756.4 1218.0,757.1 1220.8,757.9 1223.6,758.7 1226.4,759.5 1229.2,760.4 1232.0,761.3 1234.8,762.2 1237.7,763.3 1240.5,764.5 1243.3,765.8 1246.1,767.2 1248.9,768.8 1251.7,770.6 1254.5,772.5 1257.3,774.5 1260.1,776.6 1263.0,778.9 1265.8,781.2 1268.6,783.7 1271.4,786.3 1274.2,788.9 1277.0,791.6 1279.8,794.4 1282.6,797.2 1285.4,800.1 1288.2,803.0 1291.1,806.1 1293.9,809.3 1296.7,812.7 1299.5,816.3 1302.3,820.2 1305.1,824.4 1307.9,828.9 1310.7,833.8 1313.5,838.9 1316.3,844.3 1319.2,849.8 1322.0,855.5 1324.8,861.3 1327.6,867.1 1330.4,872.8 1333.2,878.6 1336.0,884.2 1338.8,890.0 1341.6,895.7 1344.4,901.6 1347.2,907.4 1350.1,913.3 1352.9,919.3 1355.7,925.4 1358.5,931.4 1361.3,937.6 1364.1,943.8 1366.9,950.1 1369.7,956.5 1372.5,963.0 1375.4,969.5 1378.2,976.0 1381.0,982.6 1383.8,989.2 1386.6,995.7 1389.4,1002.2 1392.2,1008.7 1395.0,1015.2 1397.8,1021.8 1400.6,1028.3 1403.5,1034.9 1406.3,1041.4 1409.1,1048.0 1411.9,1054.5 1414.7,1061.0 1417.5,1067.5 1420.3,1074.0 1423.1,1080.5 1425.9,1087.0 1428.7,1093.5 1431.5,1099.9 1434.4,1106.4 1437.2,1112.8 1440.0,1119.1 1442.8,1125.4 1445.6,1131.5 1448.4,1137.6 1451.2,1143.7 1454.0,1149.7 1456.8,1155.6 1459.7,1161.4 1462.5,1167.2 1465.3,1173.0 1468.1,1178.7 1470.9,1184.4 1473.7,1190.1 1476.5,1195.8 1479.3,1201.5 1482.1,1207.3 1484.9,1213.0 1487.8,1218.6 1490.6,1224.2 1493.4,1229.6 1496.2,1234.8 1499.0,1239.7 1501.8,1244.4 1504.6,1248.8 1507.4,1252.9 1510.2,1256.9 1513.0,1260.7 1515.9,1264.3 1518.7,1267.7 1521.5,1271.1 1524.3,1274.3 1527.1,1277.4 1529.9,1280.5 1532.7,1283.5 1535.5,1286.4 1538.3,1289.1 1541.1,1291.7 1544.0,1294.2 1546.8,1296.7 1549.6,1299.0 1552.4,1301.3 1555.2,1303.6 1558.0,1305.9 1560.8,1308.1 1563.6,1310.2 1566.4,1312.4 1569.2,1314.4 1572.0,1316.4 1574.9,1318.3 1577.7,1320.2 1580.5,1322.0 1583.3,1323.6 1586.1,1325.2 1588.9,1326.7 1591.7,1328.1 1594.5,1329.4 1597.3,1330.6 1600.2,1331.8 1603.0,1332.8 1605.8,1333.9 1608.6,1334.9 1611.4,1335.9 1614.2,1336.8 1617.0,1337.8 1619.8,1338.7 1622.6,1339.6 1625.4,1340.5 1628.2,1341.3 1631.1,1342.1 1633.9,1342.8 1636.7,1343.5 1639.5,1344.2 1642.3,1344.8 1645.1,1345.3 1647.9,1345.8 1650.7,1346.3 1653.5,1346.7 1656.4,1347.1 1659.2,1347.5 1662.0,1347.8 1664.8,1348.1 1667.6,1348.4 1670.4,1348.7 1673.2,1349.0 1676.0,1349.3 1678.8,1349.6 1681.6,1349.9 1684.5,1350.1 1687.3,1350.3 1690.1,1350.6 1692.9,1350.8 1695.7,1351.0 1698.5,1351.2 1701.3,1351.4 1704.1,1351.6 1706.9,1351.7 1709.7,1351.9 1712.6,1352.1 1715.4,1352.2 1718.2,1352.4 1721.0,1352.5 1723.8,1352.7 1726.6,1352.8 1729.4,1353.0 1732.2,1353.1 1735.0,1353.2 1737.8,1353.4 1740.7,1353.5 1743.5,1353.6 1746.3,1353.8 1749.1,1353.9 1751.9,1354.0 1754.7,1354.1 1757.5,1354.2 1760.3,1354.3 1763.1,1354.4 1765.9,1354.5 1768.8,1354.6 1771.6,1354.7 1774.4,1354.8 1777.2,1354.9 1780.0,1354.9 1782.8,1355.0 1785.6,1355.1 1788.4,1355.2 1791.2,1355.2 1794.0,1355.3 1796.9,1355.3 1799.7,1355.3 1802.5,1355.4 1805.3,1355.4 1808.1,1355.5 1810.9,1355.5 1813.7,1355.5 1816.5,1355.6 1819.3,1355.6 1822.1,1355.6 1825.0,1355.7 1827.8,1355.7 1830.6,1355.7 1833.4,1355.8 1836.2,1355.8 1839.0,1355.8 1841.8,1355.8 1844.6,1355.9 1847.4,1355.9 1850.2,1355.9 1853.1,1355.9 1855.9,1356.0 1858.7,1356.0 1861.5,1356.0 1864.3,1356.0 1867.1,1356.1 1869.9,1356.1 1872.7,1356.1 1875.5,1356.1 1878.3,1356.1 1881.2,1356.2 1884.0,1356.2 1886.8,1356.2 1889.6,1356.2 1892.4,1356.2 1895.2,1356.2 1898.0,1356.3 1900.8,1356.3 1903.6,1356.3 1906.4,1356.3 1909.2,1356.3 1912.1,1356.4 1914.9,1356.4 1917.7,1356.4 1920.5,1356.4 1923.3,1356.4 1926.1,1356.4 1928.9,1356.5 1931.7,1356.5 1934.5,1356.5 1937.4,1356.5 1940.2,1356.5 1943.0,1356.5 1945.8,1356.5 1948.6,1356.5 1951.4,1356.5 1954.2,1356.6 1957.0,1356.6 1959.8,1356.6 1962.6,1356.6 1965.5,1356.6 1968.3,1356.6 1971.1,1356.6 1973.9,1356.6 1976.7,1356.7 1979.5,1356.7"/>
<polyline stroke="#8000FF" points="293.5,1357.1 296.3,1357.1 299.1,1357.1 301.9,1357.1 304.7,1357.0 307.6,1357.0 310.4,1357.0 313.2,1357.0 316.0,1357.0 318.8,1357.0 321.6,1356.9 324.4,1356.9 327.2,1356.9 330.0,1356.9 332.8,1356.9 335.6,1356.8 338.5,1356.8 341.3,1356.8 344.1,1356.8 346.9,1356.8 349.7,1356.7 352.5,1356.7 355.3,1356.7 358.1,1356.7 360.9,1356.6 363.8,1356.6 366.6,1356.6 369.4,1356.6 372.2,1356.6 375.0,1356.5 377.8,1356.5 380.6,1356.5 383.4,1356.5 386.2,1356.5 389.0,1356.4 391.9,1356.4 394.7,1356.4 397.5,1356.4 400.3,1356.3 403.1,1356.3 405.9,1356.3 408.7,1356.3 411.5,1356.3 414.3,1356.2 417.1,1356.2 419.9,1356.2 422.8,1356.2 425.6,1356.2 428.4,1356.1 431.2,1356.1 434.0,1356.1 436.8,1356.1 439.6,1356.0 442.4,1356.0 445.2,1356.0 448.1,1356.0 450.9,1355.9 453.7,1355.9 456.5,1355.9 459.3,1355.8 462.1,1355.8 464.9,1355.8 467.7,1355.8 470.5,1355.7 473.3,1355.7 476.1,1355.7 479.0,1355.6 481.8,1355.6 484.6,1355.6 487.4,1355.5 490.2,1355.5 493.0,1355.5 495.8,1355.4 498.6,1355.4 501.4,1355.4 504.2,1355.3 507.1,1355.3 509.9,1355.3 512.7,1355.2 515.5,1355.2 518.3,1355.2 521.1,1355.1 523.9,1355.1 526.7,1355.1 529.5,1355.0 532.4,1355.0 535.2,1355.0 538.0,1354.9 540.8,1354.9 543.6,1354.8 546.4,1354.8 549.2,1354.8 552.0,1354.7 554.8,1354.7 557.6,1354.6 560.5,1354.6 563.3,1354.5 566.1,1354.5 568.9,1354.5 571.7,1354.4 574.5,1354.4 577.3,1354.3 580.1,1354.3 582.9,1354.2 585.7,1354.2 588.5,1354.2 591.4,1354.1 594.2,1354.1 597.0,1354.0 599.8,1354.0 602.6,1353.9 605.4,1353.9 608.2,1353.8 611.0,1353.8 613.8,1353.8 616.7,1353.7 619.5,1353.7 622.3,1353.6 625.1,1353.6 627.9,1353.5 630.7,1353.5 633.5,1353.4 636.3,1353.3 639.1,1353.3 641.9,1353.2 644.8,1353.2 647.6,1353.1 650.4,1353.1 653.2,1353.0 656.0,1352.9 658.8,1352.9 661.6,1352.8 664.4,1352.7 667.2,1352.7 670.0,1352.6 672.9,1352.6 675.7,1352.5 678.5,1352.4 681.3,1352.3 684.1,1352.3 686.9,1352.2 689.7,1352.1 692.5,1352.0 695.3,1351.8 698.1,1351.7 701.0,1351.6 703.8,1351.5 706.6,1351.3 709.4,1351.2 712.2,1351.0 715.0,1350.9 717.8,1350.7 720.6,1350.6 723.4,1350.4 726.2,1350.3 729.0,1350.1 731.9,1349.9 734.7,1349.7 737.5,1349.5 740.3,1349.2 743.1,1348.8 745.9,1348.5 748.7,1348.1 751.5,1347.6 754.3,1347.2 757.2,1346.7 760.0,1346.1 762.8,1345.5 765.6,1344.8 768.4,1344.1 771.2,1343.3 774.0,1342.4 776.8,1341.5 779.6,1340.5 782.4,1339.6 785.2,1338.5 788.1,1337.3 790.9,1336.0 793.7,1334.6 796.5,1332.9 799.3,1331.1 802.1,1329.1 804.9,1326.8 807.7,1324.5 810.5,1321.9 813.4,1319.3 816.2,1316.5 819.0,1313.6 821.8,1310.6 824.6,1307.5 827.4,1304.4 830.2,1301.1 833.0,1297.8 835.8,1294.4 838.6,1290.9 841.5,1287.3 844.3,1283.6 847.1,1279.8 849.9,1275.8 852.7,1271.7 855.5,1267.5 858.3,1263.1 861.1,1258.6 863.9,1253.9 866.7,1249.2 869.6,1244.3 872.4,1239.3 875.2,1234.2 878.0,1229.0 880.8,1223.8 883.6,1218.5 886.4,1213.1 889.2,1207.6 892.0,1202.1 894.8,1196.4 897.6,1190.7 900.5,1184.9 903.3,1179.1 906.1,1173.1 908.9,1167.1 911.7,1161.1 914.5,1154.9 917.3,1148.6 920.1,1142.2 922.9,1135.7 925.8,1129.2 928.6,1122.6 931.4,1116.1 934.2,1109.6 937.0,1103.1 939.8,1096.7 942.6,1090.3 945.4,1083.9 948.2,1077.5 951.0,1071.2 953.9,1064.8 956.7,1058.5 959.5,1052.2 962.3,1046.0 965.1,1039.9 967.9,1033.9 970.7,1027.9 973.5,1022.0 976.3,1016.2 979.1,1010.4 982.0,1004.6 984.8,998.9 987.6,993.3 990.4,987.8 993.2,982.4 996.0,977.0 998.8,971.7 1001.6,966.4 1004.4,961.2 1007.2,956.1 1010.1,951.0 1012.9,946.0 1015.7,941.2 1018.5,936.5 1021.3,932.0 1024.1,927.6 1026.9,923.5 1029.7,919.5 1032.5,915.8 1035.3,912.2 1038.2,908.6 1041.0,905.2 1043.8,901.9 1046.6,898.6 1049.4,895.2 1052.2,891.9 1055.0,888.5 1057.8,885.1 1060.6,881.7 1063.4,878.4 1066.2,875.1 1069.1,871.8 1071.9,868.7 1074.7,865.7 1077.5,862.9 1080.3,860.2 1083.1,857.8 1085.9,855.5 1088.7,853.3 1091.5,851.3 1094.3,849.3 1097.2,847.5 1100.0,845.7 1102.8,844.0 1105.6,842.3 1108.4,840.6 1111.2,838.9 1114.0,837.2 1116.8,835.6 1119.6,834.0 1122.5,832.5 1125.3,831.0 1128.1,829.7 1130.9,828.5 1133.7,827.4 1136.5,826.4 1139.3,825.6 1142.1,825.0 1144.9,824.5 1147.7,824.0 1150.6,823.7 1153.4,823.5 1156.2,823.4 1159.0,823.3 1161.8,823.3 1164.6,823.3 1167.4,823.5 1170.2,823.7 1173.0,824.1 1175.8,824.5 1178.7,825.0 1181.5,825.5 1184.3,826.1 1187.1,826.7 1189.9,827.3 1192.7,827.8 1195.5,828.3 1198.3,828.9 1201.1,829.4 1203.9,830.0 1206.8,830.6 1209.6,831.2 1212.4,831.8 1215.2,832.4 1218.0,833.1 1220.8,833.8 1223.6,834.5 1226.4,835.1 1229.2,835.8 1232.0,836.4 1234.8,837.1 1237.7,837.9 1240.5,838.7 1243.3,839.7 1246.1,840.8 1248.9,842.1 1251.7,843.5 1254.5,845.0 1257.3,846.5 1260.1,848.2 1263.0,850.0 1265.8,852.0 1268.6,854.0 1271.4,856.1 1274.2,858.4 1277.0,860.8 1279.8,863.3 1282.6,865.8 1285.4,868.4 1288.2,871.2 1291.1,874.1 1293.9,877.1 1296.7,880.3 1299.5,883.7 1302.3,887.3 1305.1,891.2 1307.9,895.3 1310.7,899.8 1313.5,904.6 1316.3,909.5 1319.2,914.6 1322.0,919.8 1324.8,925.1 1327.6,930.3 1330.4,935.5 1333.2,940.6 1336.0,945.7 1338.8,950.7 1341.6,955.7 1344.4,960.8 1347.2,965.9 1350.1,971.0 1352.9,976.1 1355.7,981.2 1358.5,986.5 1361.3,991.7 1364.1,997.0 1366.9,1002.4 1369.7,1007.7 1372.5,1013.2 1375.4,1018.6 1378.2,1024.1 1381.0,1029.6 1383.8,1035.1 1386.6,1040.7 1389.4,1046.2 1392.2,1051.8 1395.0,1057.3 1397.8,1063.0 1400.6,1068.6 1403.5,1074.3 1406.3,1079.9 1409.1,1085.6 1411.9,1091.3 1414.7,1096.9 1417.5,1102.6 1420.3,1108.2 1423.1,1113.9 1425.9,1119.6 1428.7,1125.3 1431.5,1131.1 1434.4,1136.7 1437.2,1142.4 1440.0,1148.0 1442.8,1153.5 1445.6,1158.9 1448.4,1164.3 1451.2,1169.6 1454.0,1174.8 1456.8,1180.0 1459.7,1185.1 1462.5,1190.2 1465.3,1195.3 1468.1,1200.3 1470.9,1205.3 1473.7,1210.3 1476.5,1215.2 1479.3,1220.3 1482.1,1225.3 1484.9,1230.3 1487.8,1235.3 1490.6,1240.1 1493.4,1244.9 1496.2,1249.4 1499.0,1253.7 1501.8,1257.8 1504.6,1261.7 1507.4,1265.4 1510.2,1268.8 1513.0,1272.1 1515.9,1275.3 1518.7,1278.3 1521.5,1281.3 1524.3,1284.1 1527.1,1286.9 1529.9,1289.6 1532.7,1292.2 1535.5,1294.8 1538.3,1297.2 1541.1,1299.5 1544.0,1301.7 1546.8,1303.8 1549.6,1305.9 1552.4,1308.0 1555.2,1310.0 1558.0,1311.9 1560.8,1313.9 1563.6,1315.8 1566.4,1317.7 1569.2,1319.5 1572.0,1321.3 1574.9,1323.0 1577.7,1324.6 1580.5,1326.2 1583.3,1327.7 1586.1,1329.1 1588.9,1330.4 1591.7,1331.6 1594.5,1332.8 1597.3,1333.9 1600.2,1334.9 1603.0,1335.8 1605.8,1336.7 1608.6,1337.6 1611.4,1338.5 1614.2,1339.4 1617.0,1340.2 1619.8,1341.0 1622.6,1341.8 1625.4,1342.6 1628.2,1343.3 1631.1,1344.0 1633.9,1344.7 1636.7,1345.3 1639.5,1345.9 1642.3,1346.4 1645.1,1346.9 1647.9,1347.4 1650.7,1347.8 1653.5,1348.1 1656.4,1348.5 1659.2,1348.8 1662.0,1349.1 1664.8,1349.4 1667.6,1349.6 1670.4,1349.9 1673.2,1350.2 1676.0,1350.4 1678.8,1350.7 1681.6,1350.9 1684.5,1351.1 1687.3,1351.3 1690.1,1351.5 1692.9,1351.7 1695.7,1351.9 1698.5,1352.1 1701.3,1352.2 1704.1,1352.4 1706.9,1352.6 1709.7,1352.7 1712.6,1352.8 1715.4,1353.0 1718.2,1353.1 1721.0,1353.3 1723.8,1353.4 1726.6,1353.5 1729.4,1353.6 1732.2,1353.8 1735.0,1353.9 1737.8,1354.0 1740.7,1354.1 1743.5,1354.2 1746.3,1354.3 1749.1,1354.4 1751.9,1354.5 1754.7,1354.6 1757.5,1354.7 1760.3,1354.8 1763.1,1354.9 1765.9,1355.0 1768.8,1355.1 1771.6,1355.2 1774.4,1355.2 1777.2,1355.3 1780.0,1355.4 1782.8,1355.4 1785.6,1355.5 1788.4,1355.6 1791.2,1355.6 1794.0,1355.6 1796.9,1355.7 1799.7,1355.7 1802.5,1355.8 1805.3,1355.8 1808.1,1355.8 1810.9,1355.9 1813.7,1355.9 1816.5,1355.9 1819.3,1356.0 1822.1,1356.0 1825.0,1356.0 1827.8,1356.0 1830.6,1356.1 1833.4,1356.1 1836.2,1356.1 1839.0,1356.1 1841.8,1356.2 1844.6,1356.2 1847.4,1356.2 1850.2,1356.2 1853.1,1356.3 1855.9,1356.3 1858.7,1356.3 1861.5,1356.3 1864.3,1356.3 1867.1,1356.4 1869.9,1356.4 1872.7,1356.4 1875.5,1356.4 1878.3,1356.4 1881.2,1356.4 1884.0,1356.5 1886.8,1356.5 1889.6,1356.5 1892.4,1356.5 1895.2,1356.5 1898.0,1356.5 1900.8,1356.5 1903.6,1356.6 1906.4,1356.6 1909.2,1356.6 1912.1,1356.6 1914.9,1356.6 1917.7,1356.6 1920.5,1356.7 1923.3,1356.7 1926.1,1356.7 1928.9,1356.7 1931.7,1356.7 1934.5,1356.7 1937.4,1356.7 1940.2,1356.7 1943.0,1356.8 1945.8,1356.8 1948.6,1356.8 1951.4,1356.8 1954.2,1356.8 1957.0,1356.8 1959.8,1356.8 1962.6,1356.8 1965.5,1356.8 1968.3,1356.8 1971.1,1356.9 1973.9,1356.9 1976.7,1356.9 1979.5,1356.9"/>
<polyline stroke="#FF0080" points="293.5,1357.3 296.3,1357.3 299.1,1357.2 301.9,1357.2 304.7,1357.2 307.6,1357.2 310.4,1357.2 313.2,1357.2 316.0,1357.2 318.8,1357.1 321.6,1357.1 324.4,1357.1 327.2,1357.1 330.0,1357.1 332.8,1357.1 335.6,1357.0 338.5,1357.0 341.3,1357.0 344.1,1357.0 346.9,1357.0 349.7,1356.9 352.5,1356.9 355.3,1356.9 358.1,1356.9 360.9,1356.9 363.8,1356.8 366.6,1356.8 369.4,1356.8 372.2,1356.8 375.0,1356.8 377.8,1356.8 380.6,1356.7 383.4,1356.7 386.2,1356.7 389.0,1356.7 391.9,1356.7 394.7,1356.6 397.5,1356.6 400.3,1356.6 403.1,1356.6 405.9,1356.6 408.7,1356.5 411.5,1356.5 414.3,1356.5 417.1,1356.5 419.9,1356.5 422.8,1356.5 425.6,1356.4 428.4,1356.4 431.2,1356.4 434.0,1356.4 436.8,1356.4 439.6,1356.3 442.4,1356.3 445.2,1356.3 448.1,1356.3 450.9,1356.2 453.7,1356.2 456.5,1356.2 459.3,1356.2 462.1,1356.1 464.9,1356.1 467.7,1356.1 470.5,1356.1 473.3,1356.0 476.1,1356.0 479.0,1356.0 481.8,1355.9 484.6,1355.9 487.4,1355.9 490.2,1355.9 493.0,1355.8 495.8,1355.8 498.6,1355.8 501.4,1355.7 504.2,1355.7 507.1,1355.7 509.9,1355.7 512.7,1355.6 515.5,1355.6 518.3,1355.6 521.1,1355.5 523.9,1355.5 526.7,1355.5 529.5,1355.4 532.4,1355.4 535.2,1355.4 538.0,1355.3 540.8,1355.3 543.6,1355.3 546.4,1355.2 549.2,1355.2 552.0,1355.2 554.8,1355.1 557.6,1355.1 560.5,1355.1 563.3,1355.0 566.1,1355.0 568.9,1354.9 571.7,1354.9 574.5,1354.9 577.3,1354.8 580.1,1354.8 582.9,1354.7 585.7,1354.7 588.5,1354.7 591.4,1354.6 594.2,1354.6 597.0,1354.6 599.8,1354.5 602.6,1354.5 605.4,1354.4 608.2,1354.4 611.0,1354.4 613.8,1354.3 616.7,1354.3 619.5,1354.2 622.3,1354.2 625.1,1354.1 627.9,1354.1 630.7,1354.1 633.5,1354.0 636.3,1354.0 639.1,1353.9 641.9,1353.9 644.8,1353.8 647.6,1353.8 650.4,1353.7 653.2,1353.6 656.0,1353.6 658.8,1353.5 661.6,1353.5 664.4,1353.4 667.2,1353.4 670.0,1353.3 672.9,1353.3 675.7,1353.2 678.5,1353.1 681.3,1353.1 684.1,1353.0 686.9,1352.9 689.7,1352.8 692.5,1352.7 695.3,1352.6 698.1,1352.5 701.0,1352.4 703.8,1352.3 706.6,1352.2 709.4,1352.1 712.2,1351.9 715.0,1351.8 717.8,1351.7 720.6,1351.5 723.4,1351.4 726.2,1351.3 729.0,1351.1 731.9,1351.0 734.7,1350.8 737.5,1350.6 740.3,1350.3 743.1,1350.0 745.9,1349.6 748.7,1349.3 751.5,1348.9 754.3,1348.5 757.2,1348.0 760.0,1347.5 762.8,1346.9 765.6,1346.3 768.4,1345.6 771.2,1344.9 774.0,1344.1 776.8,1343.3 779.6,1342.5 782.4,1341.6 785.2,1340.6 788.1,1339.6 790.9,1338.4 793.7,1337.1 796.5,1335.7 799.3,1334.1 802.1,1332.3 804.9,1330.3 807.7,1328.2 810.5,1326.0 813.4,1323.6 816.2,1321.2 819.0,1318.6 821.8,1316.0 824.6,1313.3 827.4,1310.5 830.2,1307.7 833.0,1304.7 835.8,1301.8 838.6,1298.7 841.5,1295.5 844.3,1292.3 847.1,1288.9 849.9,1285.4 852.7,1281.9 855.5,1278.2 858.3,1274.3 861.1,1270.4 863.9,1266.3 866.7,1262.1 869.6,1257.8 872.4,1253.4 875.2,1248.9 878.0,1244.4 880.8,1239.8 883.6,1235.1 886.4,1230.4 889.2,1225.6 892.0,1220.7 894.8,1215.8 897.6,1210.7 900.5,1205.6 903.3,1200.4 906.1,1195.2 908.9,1189.9 911.7,1184.6 914.5,1179.1 917.3,1173.6 920.1,1168.0 922.9,1162.3 925.8,1156.5 928.6,1150.7 931.4,1145.0 934.2,1139.2 937.0,1133.5 939.8,1127.9 942.6,1122.2 945.4,1116.6 948.2,1111.0 951.0,1105.4 953.9,1099.8 956.7,1094.2 959.5,1088.7 962.3,1083.3 965.1,1077.9 967.9,1072.6 970.7,1067.3 973.5,1062.1 976.3,1057.0 979.1,1051.9 982.0,1046.8 984.8,1041.8 987.6,1036.9 990.4,1032.0 993.2,1027.2 996.0,1022.5 998.8,1017.7 1001.6,1013.1 1004.4,1008.4 1007.2,1003.8 1010.1,999.3 1012.9,994.9 1015.7,990.6 1018.5,986.3 1021.3,982.2 1024.1,978.3 1026.9,974.5 1029.7,970.9 1032.5,967.4 1035.3,964.0 1038.2,960.8 1041.0,957.6 1043.8,954.4 1046.6,951.3 1049.4,948.3 1052.2,945.2 1055.0,942.1 1057.8,939.0 1060.6,935.9 1063.4,932.9 1066.2,929.9 1069.1,927.0 1071.9,924.2 1074.7,921.6 1077.5,919.1 1080.3,916.7 1083.1,914.6 1085.9,912.6 1088.7,910.8 1091.5,909.1 1094.3,907.5 1097.2,906.0 1100.0,904.6 1102.8,903.2 1105.6,901.8 1108.4,900.5 1111.2,899.1 1114.0,897.7 1116.8,896.4 1119.6,895.1 1122.5,893.9 1125.3,892.8 1128.1,891.7 1130.9,890.7 1133.7,889.8 1136.5,889.1 1139.3,888.4 1142.1,887.9 1144.9,887.5 1147.7,887.1 1150.6,886.9 1153.4,886.7 1156.2,886.6 1159.0,886.5 1161.8,886.5 1164.6,886.4 1167.4,886.5 1170.2,886.6 1173.0,886.7 1175.8,886.9 1178.7,887.2 1181.5,887.5 1184.3,887.8 1187.1,888.1 1189.9,888.4 1192.7,888.7 1195.5,889.1 1198.3,889.4 1201.1,889.7 1203.9,890.0 1206.8,890.4 1209.6,890.8 1212.4,891.2 1215.2,891.7 1218.0,892.3 1220.8,892.9 1223.6,893.6 1226.4,894.3 1229.2,895.0 1232.0,895.8 1234.8,896.7 1237.7,897.6 1240.5,898.6 1243.3,899.7 1246.1,901.0 1248.9,902.3 1251.7,903.8 1254.5,905.4 1257.3,907.1 1260.1,908.9 1263.0,910.9 1265.8,912.8 1268.6,914.9 1271.4,917.1 1274.2,919.3 1277.0,921.6 1279.8,923.9 1282.6,926.3 1285.4,928.7 1288.2,931.1 1291.1,933.7 1293.9,936.4 1296.7,939.2 1299.5,942.2 1302.3,945.4 1305.1,948.8 1307.9,952.5 1310.7,956.4 1313.5,960.5 1316.3,964.8 1319.2,969.2 1322.0,973.8 1324.8,978.3 1327.6,982.9 1330.4,987.4 1333.2,991.8 1336.0,996.2 1338.8,1000.6 1341.6,1005.0 1344.4,1009.4 1347.2,1013.8 1350.1,1018.2 1352.9,1022.7 1355.7,1027.2 1358.5,1031.7 1361.3,1036.3 1364.1,1040.9 1366.9,1045.5 1369.7,1050.2 1372.5,1054.9 1375.4,1059.6 1378.2,1064.4 1381.0,1069.2 1383.8,1074.0 1386.6,1078.8 1389.4,1083.6 1392.2,1088.5 1395.0,1093.4 1397.8,1098.3 1400.6,1103.2 1403.5,1108.2 1406.3,1113.2 1409.1,1118.1 1411.9,1123.1 1414.7,1128.1 1417.5,1133.0 1420.3,1138.0 1423.1,1143.0 1425.9,1148.1 1428.7,1153.1 1431.5,1158.1 1434.4,1163.1 1437.2,1168.1 1440.0,1173.0 1442.8,1177.9 1445.6,1182.7 1448.4,1187.4 1451.2,1192.0 1454.0,1196.6 1456.8,1201.2 1459.7,1205.7 1462.5,1210.2 1465.3,1214.6 1468.1,1219.0 1470.9,1223.4 1473.7,1227.8 1476.5,1232.1 1479.3,1236.6 1482.1,1241.0 1484.9,1245.4 1487.8,1249.7 1490.6,1254.0 1493.4,1258.1 1496.2,1262.1 1499.0,1265.9 1501.8,1269.6 1504.6,1272.9 1507.4,1276.2 1510.2,1279.2 1513.0,1282.1 1515.9,1284.9 1518.7,1287.6 1521.5,1290.1 1524.3,1292.6 1527.1,1295.1 1529.9,1297.5 1532.7,1299.8 1535.5,1302.0 1538.3,1304.2 1541.1,1306.2 1544.0,1308.2 1546.8,1310.1 1549.6,1311.9 1552.4,1313.7 1555.2,1315.5 1558.0,1317.2 1560.8,1319.0 1563.6,1320.7 1566.4,1322.3 1569.2,1323.9 1572.0,1325.5 1574.9,1327.0 1577.7,1328.5 1580.5,1329.9 1583.3,1331.2 1586.1,1332.5 1588.9,1333.6 1591.7,1334.7 1594.5,1335.7 1597.3,1336.7 1600.2,1337.6 1603.0,1338.4 1605.8,1339.2 1608.6,1340.0 1611.4,1340.8 1614.2,1341.6 1617.0,1342.3 1619.8,1343.1 1622.6,1343.8 1625.4,1344.5 1628.2,1345.1 1631.1,1345.7 1633.9,1346.3 1636.7,1346.9 1639.5,1347.4 1642.3,1347.9 1645.1,1348.3 1647.9,1348.7 1650.7,1349.1 1653.5,1349.4 1656.4,1349.7 1659.2,1349.9 1662.0,1350.2 1664.8,1350.5 1667.6,1350.7 1670.4,1350.9 1673.2,1351.2 1676.0,1351.4 1678.8,1351.6 1681.6,1351.8 1684.5,1352.0 1687.3,1352.2 1690.1,1352.3 1692.9,1352.5 1695.7,1352.7 1698.5,1352.8 1701.3,1353.0 1704.1,1353.1 1706.9,1353.3 1709.7,1353.4 1712.6,1353.5 1715.4,1353.6 1718.2,1353.8 1721.0,1353.9 1723.8,1354.0 1726.6,1354.1 1729.4,1354.2 1732.2,1354.3 1735.0,1354.4 1737.8,1354.5 1740.7,1354.6 1743.5,1354.7 1746.3,1354.8 1749.1,1354.9 1751.9,1355.0 1754.7,1355.1 1757.5,1355.2 1760.3,1355.3 1763.1,1355.3 1765.9,1355.4 1768.8,1355.5 1771.6,1355.6 1774.4,1355.6 1777.2,1355.7 1780.0,1355.7 1782.8,1355.8 1785.6,1355.9 1788.4,1355.9 1791.2,1355.9 1794.0,1356.0 1796.9,1356.0 1799.7,1356.1 1802.5,1356.1 1805.3,1356.1 1808.1,1356.2 1810.9,1356.2 1813.7,1356.2 1816.5,1356.2 1819.3,1356.3 1822.1,1356.3 1825.0,1356.3 1827.8,1356.3 1830.6,1356.4 1833.4,1356.4 1836.2,1356.4 1839.0,1356.4 1841.8,1356.4 1844.6,1356.5 1847.4,1356.5 1850.2,1356.5 1853.1,1356.5 1855.9,1356.5 1858.7,1356.6 1861.5,1356.6 1864.3,1356.6 1867.1,1356.6 1869.9,1356.6 1872.7,1356.6 1875.5,1356.7 1878.3,1356.7 1881.2,1356.7 1884.0,1356.7 1886.8,1356.7 1889.6,1356.7 1892.4,1356.7 1895.2,1356.8 1898.0,1356.8 1900.8,1356.8 1903.6,1356.8 1906.4,1356.8 1909.2,1356.8 1912.1,1356.8 1914.9,1356.9 1917.7,1356.9 1920.5,1356.9 1923.3,1356.9 1926.1,1356.9 1928.9,1356.9 1931.7,1356.9 1934.5,1356.9 1937.4,1356.9 1940.2,1357.0 1943.0,1357.0 1945.8,1357.0 1948.6,1357.0 1951.4,1357.0 1954.2,1357.0 1957.0,1357.0 1959.8,1357.0 1962.6,1357.0 1965.5,1357.0 1968.3,1357.0 1971.1,1357.1 1973.9,1357.1 1976.7,1357.1 1979.5,1357.1"/>
<polyline stroke="#FBD5B5" points="293.5,1357.4 296.3,1357.4 299.1,1357.4 301.9,1357.4 304.7,1357.4 307.6,1357.4 310.4,1357.3 313.2,1357.3 316.0,1357.3 318.8,1357.3 321.6,1357.3 324.4,1357.3 327.2,1357.3 330.0,1357.2 332.8,1357.2 335.6,1357.2 338.5,1357.2 341.3,1357.2 344.1,1357.2 346.9,1357.1 349.7,1357.1 352.5,1357.1 355.3,1357.1 358.1,1357.1 360.9,1357.1 363.8,1357.0 366.6,1357.0 369.4,1357.0 372.2,1357.0 375.0,1357.0 377.8,1357.0 380.6,1356.9 383.4,1356.9 386.2,1356.9 389.0,1356.9 391.9,1356.9 394.7,1356.9 397.5,1356.8 400.3,1356.8 403.1,1356.8 405.9,1356.8 408.7,1356.8 411.5,1356.8 414.3,1356.7 417.1,1356.7 419.9,1356.7 422.8,1356.7 425.6,1356.7 428.4,1356.7 431.2,1356.6 434.0,1356.6 436.8,1356.6 439.6,1356.6 442.4,1356.6 445.2,1356.5 448.1,1356.5 450.9,1356.5 453.7,1356.5 456.5,1356.5 459.3,1356.4 462.1,1356.4 464.9,1356.4 467.7,1356.4 470.5,1356.3 473.3,1356.3 476.1,1356.3 479.0,1356.3 481.8,1356.2 484.6,1356.2 487.4,1356.2 490.2,1356.2 493.0,1356.1 495.8,1356.1 498.6,1356.1 501.4,1356.1 504.2,1356.0 507.1,1356.0 509.9,1356.0 512.7,1356.0 515.5,1355.9 518.3,1355.9 521.1,1355.9 523.9,1355.9 526.7,1355.8 529.5,1355.8 532.4,1355.8 535.2,1355.7 538.0,1355.7 540.8,1355.7 543.6,1355.6 546.4,1355.6 549.2,1355.6 552.0,1355.5 554.8,1355.5 557.6,1355.5 560.5,1355.4 563.3,1355.4 566.1,1355.4 568.9,1355.3 571.7,1355.3 574.5,1355.3 577.3,1355.2 580.1,1355.2 582.9,1355.2 585.7,1355.1 588.5,1355.1 591.4,1355.1 594.2,1355.0 597.0,1355.0 599.8,1355.0 602.6,1354.9 605.4,1354.9 608.2,1354.9 611.0,1354.8 613.8,1354.8 616.7,1354.8 619.5,1354.7 622.3,1354.7 625.1,1354.6 627.9,1354.6 630.7,1354.6 633.5,1354.5 636.3,1354.5 639.1,1354.4 641.9,1354.4 644.8,1354.3 647.6,1354.3 650.4,1354.3 653.2,1354.2 656.0,1354.2 658.8,1354.1 661.6,1354.1 664.4,1354.0 667.2,1354.0 670.0,1353.9 672.9,1353.9 675.7,1353.8 678.5,1353.8 681.3,1353.7 684.1,1353.6 686.9,1353.6 689.7,1353.5 692.5,1353.4 695.3,1353.3 698.1,1353.2 701.0,1353.1 703.8,1353.0 706.6,1352.9 709.4,1352.8 712.2,1352.7 715.0,1352.6 717.8,1352.4 720.6,1352.3 723.4,1352.2 726.2,1352.1 729.0,1352.0 731.9,1351.9 734.7,1351.7 737.5,1351.5 740.3,1351.3 743.1,1351.0 745.9,1350.6 748.7,1350.3 751.5,1349.9 754.3,1349.6 757.2,1349.1 760.0,1348.7 762.8,1348.2 765.6,1347.6 768.4,1347.0 771.2,1346.3 774.0,1345.6 776.8,1344.8 779.6,1344.1 782.4,1343.3 785.2,1342.4 788.1,1341.5 790.9,1340.5 793.7,1339.3 796.5,1338.0 799.3,1336.6 802.1,1335.0 804.9,1333.3 807.7,1331.4 810.5,1329.4 813.4,1327.3 816.2,1325.1 819.0,1322.9 821.8,1320.5 824.6,1318.1 827.4,1315.7 830.2,1313.2 833.0,1310.6 835.8,1308.0 838.6,1305.3 841.5,1302.5 844.3,1299.6 847.1,1296.7 849.9,1293.6 852.7,1290.5 855.5,1287.2 858.3,1283.8 861.1,1280.3 863.9,1276.7 866.7,1273.0 869.6,1269.3 872.4,1265.4 875.2,1261.5 878.0,1257.5 880.8,1253.4 883.6,1249.3 886.4,1245.1 889.2,1240.9 892.0,1236.5 894.8,1232.2 897.6,1227.7 900.5,1223.2 903.3,1218.6 906.1,1213.9 908.9,1209.3 911.7,1204.5 914.5,1199.7 917.3,1194.8 920.1,1189.8 922.9,1184.8 925.8,1179.7 928.6,1174.6 931.4,1169.5 934.2,1164.4 937.0,1159.3 939.8,1154.3 942.6,1149.4 945.4,1144.4 948.2,1139.4 951.0,1134.4 953.9,1129.5 956.7,1124.6 959.5,1119.7 962.3,1114.9 965.1,1110.1 967.9,1105.4 970.7,1100.7 973.5,1096.1 976.3,1091.6 979.1,1087.0 982.0,1082.6 984.8,1078.2 987.6,1073.8 990.4,1069.5 993.2,1065.2 996.0,1061.0 998.8,1056.9 1001.6,1052.7 1004.4,1048.6 1007.2,1044.6 1010.1,1040.6 1012.9,1036.7 1015.7,1032.8 1018.5,1029.1 1021.3,1025.5 1024.1,1022.1 1026.9,1018.7 1029.7,1015.6 1032.5,1012.5 1035.3,1009.6 1038.2,1006.7 1041.0,1003.9 1043.8,1001.2 1046.6,998.5 1049.4,995.8 1052.2,993.1 1055.0,990.3 1057.8,987.6 1060.6,984.9 1063.4,982.2 1066.2,979.6 1069.1,977.0 1071.9,974.5 1074.7,972.1 1077.5,969.9 1080.3,967.8 1083.1,965.9 1085.9,964.1 1088.7,962.4 1091.5,960.9 1094.3,959.4 1097.2,958.0 1100.0,956.7 1102.8,955.4 1105.6,954.1 1108.4,952.9 1111.2,951.6 1114.0,950.4 1116.8,949.2 1119.6,948.0 1122.5,946.9 1125.3,945.8 1128.1,944.9 1130.9,944.0 1133.7,943.2 1136.5,942.5 1139.3,941.9 1142.1,941.5 1144.9,941.1 1147.7,940.8 1150.6,940.6 1153.4,940.5 1156.2,940.4 1159.0,940.4 1161.8,940.4 1164.6,940.4 1167.4,940.4 1170.2,940.6 1173.0,940.7 1175.8,941.0 1178.7,941.2 1181.5,941.6 1184.3,941.9 1187.1,942.2 1189.9,942.5 1192.7,942.9 1195.5,943.2 1198.3,943.5 1201.1,943.8 1203.9,944.1 1206.8,944.5 1209.6,944.8 1212.4,945.2 1215.2,945.7 1218.0,946.2 1220.8,946.7 1223.6,947.3 1226.4,947.9 1229.2,948.5 1232.0,949.1 1234.8,949.8 1237.7,950.6 1240.5,951.4 1243.3,952.3 1246.1,953.4 1248.9,954.6 1251.7,955.9 1254.5,957.3 1257.3,958.8 1260.1,960.4 1263.0,962.1 1265.8,963.8 1268.6,965.7 1271.4,967.7 1274.2,969.7 1277.0,971.8 1279.8,974.0 1282.6,976.2 1285.4,978.5 1288.2,980.9 1291.1,983.4 1293.9,986.0 1296.7,988.7 1299.5,991.5 1302.3,994.5 1305.1,997.6 1307.9,1000.9 1310.7,1004.5 1313.5,1008.2 1316.3,1012.1 1319.2,1016.1 1322.0,1020.1 1324.8,1024.2 1327.6,1028.2 1330.4,1032.2 1333.2,1036.0 1336.0,1039.8 1338.8,1043.6 1341.6,1047.3 1344.4,1051.0 1347.2,1054.7 1350.1,1058.4 1352.9,1062.2 1355.7,1066.0 1358.5,1069.8 1361.3,1073.8 1364.1,1077.7 1366.9,1081.7 1369.7,1085.8 1372.5,1089.9 1375.4,1094.0 1378.2,1098.2 1381.0,1102.3 1383.8,1106.6 1386.6,1110.8 1389.4,1115.0 1392.2,1119.3 1395.0,1123.6 1397.8,1128.0 1400.6,1132.4 1403.5,1136.8 1406.3,1141.2 1409.1,1145.7 1411.9,1150.1 1414.7,1154.5 1417.5,1158.9 1420.3,1163.3 1423.1,1167.8 1425.9,1172.2 1428.7,1176.7 1431.5,1181.2 1434.4,1185.6 1437.2,1190.0 1440.0,1194.3 1442.8,1198.6 1445.6,1202.9 1448.4,1207.0 1451.2,1211.1 1454.0,1215.2 1456.8,1219.2 1459.7,1223.2 1462.5,1227.1 1465.3,1231.1 1468.1,1234.9 1470.9,1238.8 1473.7,1242.6 1476.5,1246.5 1479.3,1250.4 1482.1,1254.3 1484.9,1258.2 1487.8,1262.0 1490.6,1265.8 1493.4,1269.4 1496.2,1272.9 1499.0,1276.3 1501.8,1279.5 1504.6,1282.5 1507.4,1285.3 1510.2,1288.0 1513.0,1290.6 1515.9,1293.0 1518.7,1295.4 1521.5,1297.7 1524.3,1299.9 1527.1,1302.1 1529.9,1304.2 1532.7,1306.2 1535.5,1308.2 1538.3,1310.1 1541.1,1311.9 1544.0,1313.6 1546.8,1315.3 1549.6,1317.0 1552.4,1318.6 1555.2,1320.2 1558.0,1321.7 1560.8,1323.3 1563.6,1324.8 1566.4,1326.3 1569.2,1327.7 1572.0,1329.1 1574.9,1330.5 1577.7,1331.8 1580.5,1333.0 1583.3,1334.2 1586.1,1335.3 1588.9,1336.4 1591.7,1337.3 1594.5,1338.2 1597.3,1339.1 1600.2,1339.9 1603.0,1340.6 1605.8,1341.4 1608.6,1342.1 1611.4,1342.8 1614.2,1343.5 1617.0,1344.1 1619.8,1344.8 1622.6,1345.4 1625.4,1346.0 1628.2,1346.6 1631.1,1347.2 1633.9,1347.7 1636.7,1348.2 1639.5,1348.7 1642.3,1349.1 1645.1,1349.5 1647.9,1349.8 1650.7,1350.1 1653.5,1350.4 1656.4,1350.7 1659.2,1350.9 1662.0,1351.2 1664.8,1351.4 1667.6,1351.6 1670.4,1351.8 1673.2,1352.0 1676.0,1352.2 1678.8,1352.4 1681.6,1352.6 1684.5,1352.7 1687.3,1352.9 1690.1,1353.1 1692.9,1353.2 1695.7,1353.3 1698.5,1353.5 1701.3,1353.6 1704.1,1353.7 1706.9,1353.9 1709.7,1354.0 1712.6,1354.1 1715.4,1354.2 1718.2,1354.3 1721.0,1354.4 1723.8,1354.5 1726.6,1354.6 1729.4,1354.7 1732.2,1354.8 1735.0,1354.9 1737.8,1355.0 1740.7,1355.1 1743.5,1355.2 1746.3,1355.3 1749.1,1355.3 1751.9,1355.4 1754.7,1355.5 1757.5,1355.6 1760.3,1355.6 1763.1,1355.7 1765.9,1355.8 1768.8,1355.8 1771.6,1355.9 1774.4,1356.0 1777.2,1356.0 1780.0,1356.1 1782.8,1356.1 1785.6,1356.2 1788.4,1356.2 1791.2,1356.2 1794.0,1356.3 1796.9,1356.3 1799.7,1356.3 1802.5,1356.4 1805.3,1356.4 1808.1,1356.4 1810.9,1356.4 1813.7,1356.5 1816.5,1356.5 1819.3,1356.5 1822.1,1356.5 1825.0,1356.6 1827.8,1356.6 1830.6,1356.6 1833.4,1356.6 1836.2,1356.6 1839.0,1356.7 1841.8,1356.7 1844.6,1356.7 1847.4,1356.7 1850.2,1356.7 1853.1,1356.7 1855.9,1356.8 1858.7,1356.8 1861.5,1356.8 1864.3,1356.8 1867.1,1356.8 1869.9,1356.8 1872.7,1356.9 1875.5,1356.9 1878.3,1356.9 1881.2,1356.9 1884.0,1356.9 1886.8,1356.9 1889.6,1356.9 1892.4,1356.9 1895.2,1357.0 1898.0,1357.0 1900.8,1357.0 1903.6,1357.0 1906.4,1357.0 1909.2,1357.0 1912.1,1357.0 1914.9,1357.0 1917.7,1357.1 1920.5,1357.1 1923.3,1357.1 1926.1,1357.1 1928.9,1357.1 1931.7,1357.1 1934.5,1357.1 1937.4,1357.1 1940.2,1357.1 1943.0,1357.1 1945.8,1357.1 1948.6,1357.2 1951.4,1357.2 1954.2,1357.2 1957.0,1357.2 1959.8,1357.2 1962.6,1357.2 1965.5,1357.2 1968.3,1357.2 1971.1,1357.2 1973.9,1357.2 1976.7,1357.2 1979.5,1357.2"/>
<polyline stroke="#C0C0C0" points="293.5,1357.6 296.3,1357.6 299.1,1357.6 301.9,1357.6 304.7,1357.5 307.6,1357.5 310.4,1357.5 313.2,1357.5 316.0,1357.5 318.8,1357.5 321.6,1357.5 324.4,1357.5 327.2,1357.5 330.0,1357.4 332.8,1357.4 335.6,1357.4 338.5,1357.4 341.3,1357.4 344.1,1357.4 346.9,1357.4 349.7,1357.3 352.5,1357.3 355.3,1357.3 358.1,1357.3 360.9,1357.3 363.8,1357.3 366.6,1357.3 369.4,1357.2 372.2,1357.2 375.0,1357.2 377.8,1357.2 380.6,1357.2 383.4,1357.2 386.2,1357.2 389.0,1357.1 391.9,1357.1 394.7,1357.1 397.5,1357.1 400.3,1357.1 403.1,1357.1 405.9,1357.1 408.7,1357.1 411.5,1357.0 414.3,1357.0 417.1,1357.0 419.9,1357.0 422.8,1357.0 425.6,1357.0 428.4,1357.0 431.2,1356.9 434.0,1356.9 436.8,1356.9 439.6,1356.9 442.4,1356.9 445.2,1356.9 448.1,1356.8 450.9,1356.8 453.7,1356.8 456.5,1356.8 459.3,1356.8 462.1,1356.7 464.9,1356.7 467.7,1356.7 470.5,1356.7 473.3,1356.7 476.1,1356.6 479.0,1356.6 481.8,1356.6 484.6,1356.6 487.4,1356.6 490.2,1356.5 493.0,1356.5 495.8,1356.5 498.6,1356.5 501.4,1356.5 504.2,1356.4 507.1,1356.4 509.9,1356.4 512.7,1356.4 515.5,1356.4 518.3,1356.3 521.1,1356.3 523.9,1356.3 526.7,1356.3 529.5,1356.2 532.4,1356.2 535.2,1356.2 538.0,1356.2 540.8,1356.1 543.6,1356.1 546.4,1356.1 549.2,1356.1 552.0,1356.0 554.8,1356.0 557.6,1356.0 560.5,1355.9 563.3,1355.9 566.1,1355.9 568.9,1355.9 571.7,1355.8 574.5,1355.8 577.3,1355.8 580.1,1355.7 582.9,1355.7 585.7,1355.7 588.5,1355.7 591.4,1355.6 594.2,1355.6 597.0,1355.6 599.8,1355.6 602.6,1355.5 605.4,1355.5 608.2,1355.5 611.0,1355.4 613.8,1355.4 616.7,1355.4 619.5,1355.3 622.3,1355.3 625.1,1355.3 627.9,1355.2 630.7,1355.2 633.5,1355.2 636.3,1355.1 639.1,1355.1 641.9,1355.1 644.8,1355.0 647.6,1355.0 650.4,1354.9 653.2,1354.9 656.0,1354.9 658.8,1354.8 661.6,1354.8 664.4,1354.7 667.2,1354.7 670.0,1354.7 672.9,1354.6 675.7,1354.6 678.5,1354.5 681.3,1354.5 684.1,1354.4 686.9,1354.4 689.7,1354.3 692.5,1354.2 695.3,1354.2 698.1,1354.1 701.0,1354.0 703.8,1353.9 706.6,1353.8 709.4,1353.7 712.2,1353.6 715.0,1353.5 717.8,1353.4 720.6,1353.3 723.4,1353.3 726.2,1353.2 729.0,1353.1 731.9,1353.0 734.7,1352.8 737.5,1352.7 740.3,1352.4 743.1,1352.2 745.9,1351.9 748.7,1351.6 751.5,1351.3 754.3,1350.9 757.2,1350.5 760.0,1350.1 762.8,1349.7 765.6,1349.2 768.4,1348.6 771.2,1348.0 774.0,1347.4 776.8,1346.8 779.6,1346.1 782.4,1345.5 785.2,1344.7 788.1,1343.9 790.9,1343.1 793.7,1342.1 796.5,1341.0 799.3,1339.8 802.1,1338.4 804.9,1337.0 807.7,1335.4 810.5,1333.7 813.4,1332.0 816.2,1330.1 819.0,1328.2 821.8,1326.3 824.6,1324.3 827.4,1322.2 830.2,1320.1 833.0,1318.0 835.8,1315.8 838.6,1313.6 841.5,1311.3 844.3,1308.9 847.1,1306.5 849.9,1303.9 852.7,1301.3 855.5,1298.6 858.3,1295.8 861.1,1292.9 863.9,1289.9 866.7,1286.9 869.6,1283.7 872.4,1280.5 875.2,1277.3 878.0,1273.9 880.8,1270.6 883.6,1267.1 886.4,1263.6 889.2,1260.1 892.0,1256.5 894.8,1252.8 897.6,1249.1 900.5,1245.3 903.3,1241.4 906.1,1237.5 908.9,1233.6 911.7,1229.7 914.5,1225.6 917.3,1221.5 920.1,1217.4 922.9,1213.1 925.8,1208.9 928.6,1204.6 931.4,1200.3 934.2,1196.1 937.0,1191.8 939.8,1187.7 942.6,1183.5 945.4,1179.3 948.2,1175.2 951.0,1171.0 953.9,1166.9 956.7,1162.8 959.5,1158.7 962.3,1154.6 965.1,1150.6 967.9,1146.7 970.7,1142.8 973.5,1139.0 976.3,1135.2 979.1,1131.4 982.0,1127.7 984.8,1124.0 987.6,1120.3 990.4,1116.7 993.2,1113.1 996.0,1109.6 998.8,1106.1 1001.6,1102.6 1004.4,1099.1 1007.2,1095.7 1010.1,1092.3 1012.9,1089.0 1015.7,1085.7 1018.5,1082.5 1021.3,1079.4 1024.1,1076.4 1026.9,1073.4 1029.7,1070.6 1032.5,1067.9 1035.3,1065.2 1038.2,1062.6 1041.0,1060.1 1043.8,1057.6 1046.6,1055.1 1049.4,1052.7 1052.2,1050.2 1055.0,1047.7 1057.8,1045.2 1060.6,1042.7 1063.4,1040.2 1066.2,1037.8 1069.1,1035.4 1071.9,1033.2 1074.7,1031.0 1077.5,1029.0 1080.3,1027.1 1083.1,1025.4 1085.9,1023.8 1088.7,1022.4 1091.5,1021.1 1094.3,1019.8 1097.2,1018.7 1100.0,1017.6 1102.8,1016.6 1105.6,1015.6 1108.4,1014.7 1111.2,1013.8 1114.0,1012.9 1116.8,1012.1 1119.6,1011.4 1122.5,1010.7 1125.3,1010.1 1128.1,1009.5 1130.9,1009.1 1133.7,1008.7 1136.5,1008.4 1139.3,1008.2 1142.1,1008.0 1144.9,1008.0 1147.7,1008.1 1150.6,1008.2 1153.4,1008.4 1156.2,1008.6 1159.0,1008.8 1161.8,1009.0 1164.6,1009.1 1167.4,1009.3 1170.2,1009.6 1173.0,1009.8 1175.8,1010.1 1178.7,1010.4 1181.5,1010.7 1184.3,1011.0 1187.1,1011.2 1189.9,1011.5 1192.7,1011.7 1195.5,1011.9 1198.3,1012.0 1201.1,1012.1 1203.9,1012.2 1206.8,1012.3 1209.6,1012.5 1212.4,1012.6 1215.2,1012.8 1218.0,1013.0 1220.8,1013.3 1223.6,1013.6 1226.4,1013.9 1229.2,1014.2 1232.0,1014.5 1234.8,1014.9 1237.7,1015.3 1240.5,1015.8 1243.3,1016.4 1246.1,1017.2 1248.9,1018.0 1251.7,1019.1 1254.5,1020.2 1257.3,1021.4 1260.1,1022.7 1263.0,1024.1 1265.8,1025.6 1268.6,1027.2 1271.4,1028.8 1274.2,1030.5 1277.0,1032.3 1279.8,1034.1 1282.6,1036.0 1285.4,1038.0 1288.2,1040.0 1291.1,1042.1 1293.9,1044.3 1296.7,1046.6 1299.5,1049.0 1302.3,1051.6 1305.1,1054.2 1307.9,1057.0 1310.7,1060.0 1313.5,1063.2 1316.3,1066.4 1319.2,1069.8 1322.0,1073.2 1324.8,1076.6 1327.6,1080.0 1330.4,1083.4 1333.2,1086.7 1336.0,1089.9 1338.8,1093.1 1341.6,1096.4 1344.4,1099.6 1347.2,1102.8 1350.1,1106.0 1352.9,1109.3 1355.7,1112.6 1358.5,1115.9 1361.3,1119.3 1364.1,1122.7 1366.9,1126.2 1369.7,1129.6 1372.5,1133.2 1375.4,1136.7 1378.2,1140.3 1381.0,1143.8 1383.8,1147.4 1386.6,1151.0 1389.4,1154.7 1392.2,1158.3 1395.0,1161.9 1397.8,1165.6 1400.6,1169.3 1403.5,1173.0 1406.3,1176.7 1409.1,1180.4 1411.9,1184.1 1414.7,1187.8 1417.5,1191.5 1420.3,1195.2 1423.1,1198.9 1425.9,1202.7 1428.7,1206.4 1431.5,1210.1 1434.4,1213.8 1437.2,1217.5 1440.0,1221.2 1442.8,1224.7 1445.6,1228.3 1448.4,1231.7 1451.2,1235.2 1454.0,1238.5 1456.8,1241.9 1459.7,1245.2 1462.5,1248.5 1465.3,1251.7 1468.1,1255.0 1470.9,1258.2 1473.7,1261.4 1476.5,1264.6 1479.3,1267.8 1482.1,1271.0 1484.9,1274.3 1487.8,1277.5 1490.6,1280.6 1493.4,1283.6 1496.2,1286.5 1499.0,1289.3 1501.8,1292.0 1504.6,1294.5 1507.4,1296.8 1510.2,1299.1 1513.0,1301.2 1515.9,1303.3 1518.7,1305.3 1521.5,1307.2 1524.3,1309.0 1527.1,1310.8 1529.9,1312.6 1532.7,1314.3 1535.5,1316.0 1538.3,1317.6 1541.1,1319.1 1544.0,1320.6 1546.8,1322.0 1549.6,1323.4 1552.4,1324.7 1555.2,1326.1 1558.0,1327.4 1560.8,1328.7 1563.6,1330.0 1566.4,1331.2 1569.2,1332.5 1572.0,1333.6 1574.9,1334.8 1577.7,1335.9 1580.5,1336.9 1583.3,1337.9 1586.1,1338.9 1588.9,1339.8 1591.7,1340.6 1594.5,1341.4 1597.3,1342.1 1600.2,1342.8 1603.0,1343.4 1605.8,1344.0 1608.6,1344.6 1611.4,1345.2 1614.2,1345.8 1617.0,1346.4 1619.8,1346.9 1622.6,1347.5 1625.4,1348.0 1628.2,1348.5 1631.1,1349.0 1633.9,1349.4 1636.7,1349.9 1639.5,1350.3 1642.3,1350.6 1645.1,1351.0 1647.9,1351.3 1650.7,1351.5 1653.5,1351.8 1656.4,1352.0 1659.2,1352.2 1662.0,1352.4 1664.8,1352.5 1667.6,1352.7 1670.4,1352.9 1673.2,1353.1 1676.0,1353.2 1678.8,1353.4 1681.6,1353.5 1684.5,1353.7 1687.3,1353.8 1690.1,1353.9 1692.9,1354.1 1695.7,1354.2 1698.5,1354.3 1701.3,1354.4 1704.1,1354.5 1706.9,1354.6 1709.7,1354.7 1712.6,1354.8 1715.4,1354.9 1718.2,1355.0 1721.0,1355.1 1723.8,1355.2 1726.6,1355.2 1729.4,1355.3 1732.2,1355.4 1735.0,1355.5 1737.8,1355.6 1740.7,1355.6 1743.5,1355.7 1746.3,1355.8 1749.1,1355.8 1751.9,1355.9 1754.7,1356.0 1757.5,1356.0 1760.3,1356.1 1763.1,1356.2 1765.9,1356.2 1768.8,1356.3 1771.6,1356.3 1774.4,1356.4 1777.2,1356.4 1780.0,1356.5 1782.8,1356.5 1785.6,1356.5 1788.4,1356.6 1791.2,1356.6 1794.0,1356.6 1796.9,1356.7 1799.7,1356.7 1802.5,1356.7 1805.3,1356.7 1808.1,1356.8 1810.9,1356.8 1813.7,1356.8 1816.5,1356.8 1819.3,1356.8 1822.1,1356.9 1825.0,1356.9 1827.8,1356.9 1830.6,1356.9 1833.4,1356.9 1836.2,1356.9 1839.0,1357.0 1841.8,1357.0 1844.6,1357.0 1847.4,1357.0 1850.2,1357.0 1853.1,1357.0 1855.9,1357.0 1858.7,1357.1 1861.5,1357.1 1864.3,1357.1 1867.1,1357.1 1869.9,1357.1 1872.7,1357.1 1875.5,1357.1 1878.3,1357.1 1881.2,1357.2 1884.0,1357.2 1886.8,1357.2 1889.6,1357.2 1892.4,1357.2 1895.2,1357.2 1898.0,1357.2 1900.8,1357.2 1903.6,1357.2 1906.4,1357.2 1909.2,1357.3 1912.1,1357.3 1914.9,1357.3 1917.7,1357.3 1920.5,1357.3 1923.3,1357.3 1926.1,1357.3 1928.9,1357.3 1931.7,1357.3 1934.5,1357.3 1937.4,1357.3 1940.2,1357.4 1943.0,1357.4 1945.8,1357.4 1948.6,1357.4 1951.4,1357.4 1954.2,1357.4 1957.0,1357.4 1959.8,1357.4 1962.6,1357.4 1965.5,1357.4 1968.3,1357.4 1971.1,1357.4 1973.9,1357.4 1976.7,1357.4 1979.5,1357.4"/>
<polyline stroke="#808080" points="293.5,1357.7 296.3,1357.7 299.1,1357.7 301.9,1357.7 304.7,1357.7 307.6,1357.7 310.4,1357.7 313.2,1357.7 316.0,1357.7 318.8,1357.6 321.6,1357.6 324.4,1357.6 327.2,1357.6 330.0,1357.6 332.8,1357.6 335.6,1357.6 338.5,1357.6 341.3,1357.6 344.1,1357.5 346.9,1357.5 349.7,1357.5 352.5,1357.5 355.3,1357.5 358.1,1357.5 360.9,1357.5 363.8,1357.5 366.6,1357.4 369.4,1357.4 372.2,1357.4 375.0,1357.4 377.8,1357.4 380.6,1357.4 383.4,1357.4 386.2,1357.4 389.0,1357.4 391.9,1357.3 394.7,1357.3 397.5,1357.3 400.3,1357.3 403.1,1357.3 405.9,1357.3 408.7,1357.3 411.5,1357.3 414.3,1357.2 417.1,1357.2 419.9,1357.2 422.8,1357.2 425.6,1357.2 428.4,1357.2 431.2,1357.2 434.0,1357.2 436.8,1357.1 439.6,1357.1 442.4,1357.1 445.2,1357.1 448.1,1357.1 450.9,1357.1 453.7,1357.1 456.5,1357.0 459.3,1357.0 462.1,1357.0 464.9,1357.0 467.7,1357.0 470.5,1357.0 473.3,1356.9 476.1,1356.9 479.0,1356.9 481.8,1356.9 484.6,1356.9 487.4,1356.9 490.2,1356.8 493.0,1356.8 495.8,1356.8 498.6,1356.8 501.4,1356.8 504.2,1356.7 507.1,1356.7 509.9,1356.7 512.7,1356.7 515.5,1356.7 518.3,1356.7 521.1,1356.6 523.9,1356.6 526.7,1356.6 529.5,1356.6 532.4,1356.6 535.2,1356.5 538.0,1356.5 540.8,1356.5 543.6,1356.5 546.4,1356.4 549.2,1356.4 552.0,1356.4 554.8,1356.4 557.6,1356.4 560.5,1356.3 563.3,1356.3 566.1,1356.3 568.9,1356.3 571.7,1356.2 574.5,1356.2 577.3,1356.2 580.1,1356.2 582.9,1356.1 585.7,1356.1 588.5,1356.1 591.4,1356.1 594.2,1356.0 597.0,1356.0 599.8,1356.0 602.6,1356.0 605.4,1355.9 608.2,1355.9 611.0,1355.9 613.8,1355.9 616.7,1355.8 619.5,1355.8 622.3,1355.8 625.1,1355.8 627.9,1355.7 630.7,1355.7 633.5,1355.7 636.3,1355.6 639.1,1355.6 641.9,1355.6 644.8,1355.6 647.6,1355.5 650.4,1355.5 653.2,1355.4 656.0,1355.4 658.8,1355.4 661.6,1355.3 664.4,1355.3 667.2,1355.3 670.0,1355.2 672.9,1355.2 675.7,1355.2 678.5,1355.1 681.3,1355.1 684.1,1355.0 686.9,1355.0 689.7,1354.9 692.5,1354.9 695.3,1354.8 698.1,1354.8 701.0,1354.7 703.8,1354.6 706.6,1354.5 709.4,1354.5 712.2,1354.4 715.0,1354.3 717.8,1354.2 720.6,1354.1 723.4,1354.1 726.2,1354.0 729.0,1353.9 731.9,1353.8 734.7,1353.7 737.5,1353.6 740.3,1353.4 743.1,1353.2 745.9,1352.9 748.7,1352.6 751.5,1352.3 754.3,1352.0 757.2,1351.6 760.0,1351.3 762.8,1350.8 765.6,1350.4 768.4,1349.9 771.2,1349.4 774.0,1348.8 776.8,1348.3 779.6,1347.7 782.4,1347.1 785.2,1346.5 788.1,1345.8 790.9,1345.1 793.7,1344.2 796.5,1343.3 799.3,1342.2 802.1,1341.1 804.9,1339.8 807.7,1338.5 810.5,1337.1 813.4,1335.6 816.2,1334.0 819.0,1332.4 821.8,1330.7 824.6,1329.0 827.4,1327.3 830.2,1325.5 833.0,1323.7 835.8,1321.9 838.6,1320.0 841.5,1318.1 844.3,1316.1 847.1,1314.0 849.9,1311.9 852.7,1309.7 855.5,1307.4 858.3,1305.1 861.1,1302.6 863.9,1300.1 866.7,1297.6 869.6,1294.9 872.4,1292.2 875.2,1289.5 878.0,1286.7 880.8,1283.8 883.6,1280.9 886.4,1278.0 889.2,1275.0 892.0,1271.9 894.8,1268.8 897.6,1265.6 900.5,1262.4 903.3,1259.1 906.1,1255.8 908.9,1252.5 911.7,1249.1 914.5,1245.7 917.3,1242.2 920.1,1238.7 922.9,1235.1 925.8,1231.5 928.6,1227.8 931.4,1224.2 934.2,1220.6 937.0,1217.0 939.8,1213.5 942.6,1209.9 945.4,1206.4 948.2,1202.9 951.0,1199.3 953.9,1195.8 956.7,1192.3 959.5,1188.9 962.3,1185.4 965.1,1182.0 967.9,1178.7 970.7,1175.4 973.5,1172.1 976.3,1168.9 979.1,1165.7 982.0,1162.5 984.8,1159.3 987.6,1156.2 990.4,1153.2 993.2,1150.2 996.0,1147.2 998.8,1144.2 1001.6,1141.3 1004.4,1138.4 1007.2,1135.5 1010.1,1132.7 1012.9,1130.0 1015.7,1127.2 1018.5,1124.6 1021.3,1122.1 1024.1,1119.6 1026.9,1117.2 1029.7,1115.0 1032.5,1112.8 1035.3,1110.7 1038.2,1108.7 1041.0,1106.7 1043.8,1104.7 1046.6,1102.8 1049.4,1100.9 1052.2,1098.9 1055.0,1096.9 1057.8,1094.9 1060.6,1092.9 1063.4,1090.9 1066.2,1089.0 1069.1,1087.1 1071.9,1085.2 1074.7,1083.5 1077.5,1081.8 1080.3,1080.3 1083.1,1078.9 1085.9,1077.5 1088.7,1076.3 1091.5,1075.2 1094.3,1074.1 1097.2,1073.1 1100.0,1072.1 1102.8,1071.2 1105.6,1070.3 1108.4,1069.4 1111.2,1068.6 1114.0,1067.7 1116.8,1066.9 1119.6,1066.2 1122.5,1065.5 1125.3,1064.8 1128.1,1064.2 1130.9,1063.6 1133.7,1063.1 1136.5,1062.7 1139.3,1062.3 1142.1,1062.0 1144.9,1061.8 1147.7,1061.6 1150.6,1061.4 1153.4,1061.3 1156.2,1061.2 1159.0,1061.2 1161.8,1061.1 1164.6,1061.1 1167.4,1061.0 1170.2,1061.0 1173.0,1061.1 1175.8,1061.1 1178.7,1061.2 1181.5,1061.3 1184.3,1061.4 1187.1,1061.5 1189.9,1061.6 1192.7,1061.7 1195.5,1061.9 1198.3,1062.0 1201.1,1062.1 1203.9,1062.2 1206.8,1062.3 1209.6,1062.5 1212.4,1062.7 1215.2,1062.9 1218.0,1063.2 1220.8,1063.5 1223.6,1063.8 1226.4,1064.1 1229.2,1064.4 1232.0,1064.8 1234.8,1065.2 1237.7,1065.7 1240.5,1066.2 1243.3,1066.7 1246.1,1067.4 1248.9,1068.1 1251.7,1069.0 1254.5,1069.9 1257.3,1070.8 1260.1,1071.9 1263.0,1073.0 1265.8,1074.1 1268.6,1075.3 1271.4,1076.6 1274.2,1078.0 1277.0,1079.4 1279.8,1080.9 1282.6,1082.4 1285.4,1083.9 1288.2,1085.6 1291.1,1087.3 1293.9,1089.0 1296.7,1090.9 1299.5,1092.9 1302.3,1094.9 1305.1,1097.1 1307.9,1099.5 1310.7,1101.9 1313.5,1104.6 1316.3,1107.3 1319.2,1110.1 1322.0,1112.9 1324.8,1115.8 1327.6,1118.7 1330.4,1121.5 1333.2,1124.3 1336.0,1127.1 1338.8,1129.8 1341.6,1132.6 1344.4,1135.4 1347.2,1138.1 1350.1,1140.9 1352.9,1143.8 1355.7,1146.6 1358.5,1149.6 1361.3,1152.5 1364.1,1155.6 1366.9,1158.7 1369.7,1161.8 1372.5,1165.0 1375.4,1168.2 1378.2,1171.5 1381.0,1174.7 1383.8,1178.0 1386.6,1181.2 1389.4,1184.4 1392.2,1187.7 1395.0,1190.9 1397.8,1194.1 1400.6,1197.4 1403.5,1200.6 1406.3,1203.9 1409.1,1207.1 1411.9,1210.3 1414.7,1213.5 1417.5,1216.7 1420.3,1219.9 1423.1,1223.1 1425.9,1226.3 1428.7,1229.5 1431.5,1232.6 1434.4,1235.7 1437.2,1238.9 1440.0,1241.9 1442.8,1245.0 1445.6,1247.9 1448.4,1250.9 1451.2,1253.8 1454.0,1256.6 1456.8,1259.4 1459.7,1262.2 1462.5,1265.0 1465.3,1267.7 1468.1,1270.4 1470.9,1273.2 1473.7,1275.8 1476.5,1278.5 1479.3,1281.3 1482.1,1284.0 1484.9,1286.7 1487.8,1289.4 1490.6,1292.0 1493.4,1294.6 1496.2,1297.1 1499.0,1299.4 1501.8,1301.7 1504.6,1303.8 1507.4,1305.8 1510.2,1307.7 1513.0,1309.5 1515.9,1311.2 1518.7,1312.9 1521.5,1314.5 1524.3,1316.1 1527.1,1317.6 1529.9,1319.1 1532.7,1320.6 1535.5,1322.0 1538.3,1323.4 1541.1,1324.7 1544.0,1325.9 1546.8,1327.1 1549.6,1328.3 1552.4,1329.5 1555.2,1330.6 1558.0,1331.8 1560.8,1332.9 1563.6,1334.0 1566.4,1335.1 1569.2,1336.1 1572.0,1337.1 1574.9,1338.1 1577.7,1339.1 1580.5,1340.0 1583.3,1340.9 1586.1,1341.7 1588.9,1342.4 1591.7,1343.1 1594.5,1343.8 1597.3,1344.4 1600.2,1345.0 1603.0,1345.6 1605.8,1346.1 1608.6,1346.6 1611.4,1347.1 1614.2,1347.6 1617.0,1348.1 1619.8,1348.6 1622.6,1349.1 1625.4,1349.5 1628.2,1350.0 1631.1,1350.4 1633.9,1350.8 1636.7,1351.1 1639.5,1351.5 1642.3,1351.8 1645.1,1352.1 1647.9,1352.4 1650.7,1352.6 1653.5,1352.8 1656.4,1353.0 1659.2,1353.1 1662.0,1353.3 1664.8,1353.4 1667.6,1353.6 1670.4,1353.7 1673.2,1353.9 1676.0,1354.0 1678.8,1354.2 1681.6,1354.3 1684.5,1354.4 1687.3,1354.5 1690.1,1354.6 1692.9,1354.7 1695.7,1354.8 1698.5,1354.9 1701.3,1355.0 1704.1,1355.1 1706.9,1355.2 1709.7,1355.3 1712.6,1355.4 1715.4,1355.4 1718.2,1355.5 1721.0,1355.6 1723.8,1355.7 1726.6,1355.7 1729.4,1355.8 1732.2,1355.9 1735.0,1355.9 1737.8,1356.0 1740.7,1356.1 1743.5,1356.1 1746.3,1356.2 1749.1,1356.2 1751.9,1356.3 1754.7,1356.4 1757.5,1356.4 1760.3,1356.5 1763.1,1356.5 1765.9,1356.6 1768.8,1356.6 1771.6,1356.7 1774.4,1356.7 1777.2,1356.7 1780.0,1356.8 1782.8,1356.8 1785.6,1356.8 1788.4,1356.9 1791.2,1356.9 1794.0,1356.9 1796.9,1356.9 1799.7,1357.0 1802.5,1357.0 1805.3,1357.0 1808.1,1357.0 1810.9,1357.0 1813.7,1357.1 1816.5,1357.1 1819.3,1357.1 1822.1,1357.1 1825.0,1357.1 1827.8,1357.1 1830.6,1357.2 1833.4,1357.2 1836.2,1357.2 1839.0,1357.2 1841.8,1357.2 1844.6,1357.2 1847.4,1357.2 1850.2,1357.2 1853.1,1357.3 1855.9,1357.3 1858.7,1357.3 1861.5,1357.3 1864.3,1357.3 1867.1,1357.3 1869.9,1357.3 1872.7,1357.3 1875.5,1357.3 1878.3,1357.3 1881.2,1357.4 1884.0,1357.4 1886.8,1357.4 1889.6,1357.4 1892.4,1357.4 1895.2,1357.4 1898.0,1357.4 1900.8,1357.4 1903.6,1357.4 1906.4,1357.4 1909.2,1357.4 1912.1,1357.5 1914.9,1357.5 1917.7,1357.5 1920.5,1357.5 1923.3,1357.5 1926.1,1357.5 1928.9,1357.5 1931.7,1357.5 1934.5,1357.5 1937.4,1357.5 1940.2,1357.5 1943.0,1357.5 1945.8,1357.5 1948.6,1357.5 1951.4,1357.5 1954.2,1357.6 1957.0,1357.6 1959.8,1357.6 1962.6,1357.6 1965.5,1357.6 1968.3,1357.6 1971.1,1357.6 1973.9,1357.6 1976.7,1357.6 1979.5,1357.6"/>
<polyline stroke="#FFFF80" points="293.5,1357.8 296.3,1357.8 299.1,1357.8 301.9,1357.8 304.7,1357.8 307.6,1357.8 310.4,1357.8 313.2,1357.8 316.0,1357.8 318.8,1357.8 321.6,1357.7 324.4,1357.7 327.2,1357.7 330.0,1357.7 332.8,1357.7 335.6,1357.7 338.5,1357.7 341.3,1357.7 344.1,1357.7 346.9,1357.7 349.7,1357.6 352.5,1357.6 355.3,1357.6 358.1,1357.6 360.9,1357.6 363.8,1357.6 366.6,1357.6 369.4,1357.6 372.2,1357.6 375.0,1357.5 377.8,1357.5 380.6,1357.5 383.4,1357.5 386.2,1357.5 389.0,1357.5 391.9,1357.5 394.7,1357.5 397.5,1357.5 400.3,1357.5 403.1,1357.4 405.9,1357.4 408.7,1357.4 411.5,1357.4 414.3,1357.4 417.1,1357.4 419.9,1357.4 422.8,1357.4 425.6,1357.4 428.4,1357.4 431.2,1357.3 434.0,1357.3 436.8,1357.3 439.6,1357.3 442.4,1357.3 445.2,1357.3 448.1,1357.3 450.9,1357.3 453.7,1357.2 456.5,1357.2 459.3,1357.2 462.1,1357.2 464.9,1357.2 467.7,1357.2 470.5,1357.2 473.3,1357.1 476.1,1357.1 479.0,1357.1 481.8,1357.1 484.6,1357.1 487.4,1357.1 490.2,1357.0 493.0,1357.0 495.8,1357.0 498.6,1357.0 501.4,1357.0 504.2,1357.0 507.1,1357.0 509.9,1356.9 512.7,1356.9 515.5,1356.9 518.3,1356.9 521.1,1356.9 523.9,1356.9 526.7,1356.8 529.5,1356.8 532.4,1356.8 535.2,1356.8 538.0,1356.8 540.8,1356.7 543.6,1356.7 546.4,1356.7 549.2,1356.7 552.0,1356.7 554.8,1356.6 557.6,1356.6 560.5,1356.6 563.3,1356.6 566.1,1356.6 568.9,1356.5 571.7,1356.5 574.5,1356.5 577.3,1356.5 580.1,1356.5 582.9,1356.4 585.7,1356.4 588.5,1356.4 591.4,1356.4 594.2,1356.4 597.0,1356.3 599.8,1356.3 602.6,1356.3 605.4,1356.3 608.2,1356.2 611.0,1356.2 613.8,1356.2 616.7,1356.2 619.5,1356.2 622.3,1356.1 625.1,1356.1 627.9,1356.1 630.7,1356.1 633.5,1356.0 636.3,1356.0 639.1,1356.0 641.9,1356.0 644.8,1355.9 647.6,1355.9 650.4,1355.9 653.2,1355.8 656.0,1355.8 658.8,1355.8 661.6,1355.7 664.4,1355.7 667.2,1355.7 670.0,1355.7 672.9,1355.6 675.7,1355.6 678.5,1355.6 681.3,1355.5 684.1,1355.5 686.9,1355.4 689.7,1355.4 692.5,1355.3 695.3,1355.3 698.1,1355.2 701.0,1355.2 703.8,1355.1 706.6,1355.0 709.4,1355.0 712.2,1354.9 715.0,1354.8 717.8,1354.7 720.6,1354.7 723.4,1354.6 726.2,1354.6 729.0,1354.5 731.9,1354.4 734.7,1354.3 737.5,1354.2 740.3,1354.0 743.1,1353.8 745.9,1353.6 748.7,1353.3 751.5,1353.1 754.3,1352.8 757.2,1352.4 760.0,1352.1 762.8,1351.7 765.6,1351.3 768.4,1350.8 771.2,1350.3 774.0,1349.9 776.8,1349.4 779.6,1348.9 782.4,1348.3 785.2,1347.8 788.1,1347.2 790.9,1346.5 793.7,1345.7 796.5,1344.9 799.3,1344.0 802.1,1343.0 804.9,1341.9 807.7,1340.7 810.5,1339.4 813.4,1338.1 816.2,1336.8 819.0,1335.3 821.8,1333.9 824.6,1332.4 827.4,1330.9 830.2,1329.4 833.0,1327.8 835.8,1326.2 838.6,1324.6 841.5,1322.9 844.3,1321.2 847.1,1319.4 849.9,1317.6 852.7,1315.7 855.5,1313.7 858.3,1311.6 861.1,1309.5 863.9,1307.4 866.7,1305.1 869.6,1302.9 872.4,1300.5 875.2,1298.2 878.0,1295.7 880.8,1293.2 883.6,1290.7 886.4,1288.2 889.2,1285.5 892.0,1282.9 894.8,1280.1 897.6,1277.4 900.5,1274.5 903.3,1271.7 906.1,1268.8 908.9,1265.9 911.7,1262.9 914.5,1260.0 917.3,1256.9 920.1,1253.8 922.9,1250.7 925.8,1247.5 928.6,1244.4 931.4,1241.2 934.2,1238.0 937.0,1234.9 939.8,1231.8 942.6,1228.7 945.4,1225.6 948.2,1222.5 951.0,1219.4 953.9,1216.4 956.7,1213.3 959.5,1210.3 962.3,1207.3 965.1,1204.3 967.9,1201.4 970.7,1198.5 973.5,1195.7 976.3,1192.8 979.1,1190.0 982.0,1187.2 984.8,1184.5 987.6,1181.8 990.4,1179.1 993.2,1176.5 996.0,1173.9 998.8,1171.3 1001.6,1168.8 1004.4,1166.3 1007.2,1163.8 1010.1,1161.4 1012.9,1159.0 1015.7,1156.7 1018.5,1154.4 1021.3,1152.2 1024.1,1150.1 1026.9,1148.1 1029.7,1146.2 1032.5,1144.3 1035.3,1142.6 1038.2,1140.8 1041.0,1139.2 1043.8,1137.5 1046.6,1135.8 1049.4,1134.2 1052.2,1132.5 1055.0,1130.7 1057.8,1128.9 1060.6,1127.1 1063.4,1125.4 1066.2,1123.6 1069.1,1121.8 1071.9,1120.2 1074.7,1118.5 1077.5,1117.0 1080.3,1115.6 1083.1,1114.2 1085.9,1113.0 1088.7,1111.8 1091.5,1110.6 1094.3,1109.5 1097.2,1108.5 1100.0,1107.5 1102.8,1106.6 1105.6,1105.7 1108.4,1104.9 1111.2,1104.1 1114.0,1103.3 1116.8,1102.6 1119.6,1101.9 1122.5,1101.3 1125.3,1100.7 1128.1,1100.2 1130.9,1099.7 1133.7,1099.4 1136.5,1099.1 1139.3,1098.9 1142.1,1098.7 1144.9,1098.7 1147.7,1098.7 1150.6,1098.8 1153.4,1098.9 1156.2,1099.1 1159.0,1099.3 1161.8,1099.4 1164.6,1099.6 1167.4,1099.8 1170.2,1100.1 1173.0,1100.3 1175.8,1100.7 1178.7,1101.0 1181.5,1101.3 1184.3,1101.7 1187.1,1102.0 1189.9,1102.3 1192.7,1102.6 1195.5,1102.9 1198.3,1103.2 1201.1,1103.4 1203.9,1103.7 1206.8,1104.0 1209.6,1104.2 1212.4,1104.5 1215.2,1104.8 1218.0,1105.1 1220.8,1105.5 1223.6,1105.9 1226.4,1106.2 1229.2,1106.6 1232.0,1107.0 1234.8,1107.4 1237.7,1107.8 1240.5,1108.3 1243.3,1108.9 1246.1,1109.5 1248.9,1110.3 1251.7,1111.0 1254.5,1111.9 1257.3,1112.8 1260.1,1113.8 1263.0,1114.9 1265.8,1115.9 1268.6,1117.1 1271.4,1118.3 1274.2,1119.5 1277.0,1120.8 1279.8,1122.1 1282.6,1123.4 1285.4,1124.8 1288.2,1126.2 1291.1,1127.7 1293.9,1129.2 1296.7,1130.8 1299.5,1132.5 1302.3,1134.3 1305.1,1136.1 1307.9,1138.0 1310.7,1140.1 1313.5,1142.2 1316.3,1144.4 1319.2,1146.7 1322.0,1149.0 1324.8,1151.3 1327.6,1153.6 1330.4,1155.9 1333.2,1158.1 1336.0,1160.4 1338.8,1162.5 1341.6,1164.7 1344.4,1166.9 1347.2,1169.1 1350.1,1171.3 1352.9,1173.6 1355.7,1175.8 1358.5,1178.2 1361.3,1180.6 1364.1,1183.0 1366.9,1185.6 1369.7,1188.1 1372.5,1190.8 1375.4,1193.4 1378.2,1196.1 1381.0,1198.8 1383.8,1201.5 1386.6,1204.2 1389.4,1206.9 1392.2,1209.6 1395.0,1212.4 1397.8,1215.1 1400.6,1217.9 1403.5,1220.7 1406.3,1223.5 1409.1,1226.3 1411.9,1229.1 1414.7,1231.9 1417.5,1234.6 1420.3,1237.4 1423.1,1240.2 1425.9,1243.0 1428.7,1245.7 1431.5,1248.5 1434.4,1251.2 1437.2,1254.0 1440.0,1256.7 1442.8,1259.3 1445.6,1261.9 1448.4,1264.5 1451.2,1267.0 1454.0,1269.5 1456.8,1271.9 1459.7,1274.3 1462.5,1276.7 1465.3,1279.1 1468.1,1281.5 1470.9,1283.8 1473.7,1286.1 1476.5,1288.5 1479.3,1290.9 1482.1,1293.2 1484.9,1295.6 1487.8,1297.9 1490.6,1300.2 1493.4,1302.4 1496.2,1304.6 1499.0,1306.6 1501.8,1308.5 1504.6,1310.4 1507.4,1312.1 1510.2,1313.8 1513.0,1315.3 1515.9,1316.9 1518.7,1318.3 1521.5,1319.7 1524.3,1321.1 1527.1,1322.4 1529.9,1323.8 1532.7,1325.0 1535.5,1326.3 1538.3,1327.5 1541.1,1328.6 1544.0,1329.7 1546.8,1330.8 1549.6,1331.8 1552.4,1332.9 1555.2,1333.9 1558.0,1334.9 1560.8,1335.9 1563.6,1336.8 1566.4,1337.8 1569.2,1338.7 1572.0,1339.6 1574.9,1340.5 1577.7,1341.4 1580.5,1342.2 1583.3,1342.9 1586.1,1343.7 1588.9,1344.3 1591.7,1345.0 1594.5,1345.5 1597.3,1346.1 1600.2,1346.6 1603.0,1347.1 1605.8,1347.6 1608.6,1348.0 1611.4,1348.5 1614.2,1348.9 1617.0,1349.4 1619.8,1349.8 1622.6,1350.2 1625.4,1350.6 1628.2,1351.0 1631.1,1351.4 1633.9,1351.7 1636.7,1352.1 1639.5,1352.4 1642.3,1352.7 1645.1,1352.9 1647.9,1353.1 1650.7,1353.3 1653.5,1353.5 1656.4,1353.7 1659.2,1353.8 1662.0,1354.0 1664.8,1354.1 1667.6,1354.2 1670.4,1354.3 1673.2,1354.5 1676.0,1354.6 1678.8,1354.7 1681.6,1354.8 1684.5,1354.9 1687.3,1355.0 1690.1,1355.1 1692.9,1355.2 1695.7,1355.3 1698.5,1355.4 1701.3,1355.5 1704.1,1355.5 1706.9,1355.6 1709.7,1355.7 1712.6,1355.8 1715.4,1355.8 1718.2,1355.9 1721.0,1356.0 1723.8,1356.0 1726.6,1356.1 1729.4,1356.1 1732.2,1356.2 1735.0,1356.3 1737.8,1356.3 1740.7,1356.4 1743.5,1356.4 1746.3,1356.5 1749.1,1356.5 1751.9,1356.6 1754.7,1356.6 1757.5,1356.7 1760.3,1356.7 1763.1,1356.8 1765.9,1356.8 1768.8,1356.8 1771.6,1356.9 1774.4,1356.9 1777.2,1357.0 1780.0,1357.0 1782.8,1357.0 1785.6,1357.0 1788.4,1357.1 1791.2,1357.1 1794.0,1357.1 1796.9,1357.1 1799.7,1357.2 1802.5,1357.2 1805.3,1357.2 1808.1,1357.2 1810.9,1357.2 1813.7,1357.2 1816.5,1357.3 1819.3,1357.3 1822.1,1357.3 1825.0,1357.3 1827.8,1357.3 1830.6,1357.3 1833.4,1357.3 1836.2,1357.3 1839.0,1357.4 1841.8,1357.4 1844.6,1357.4 1847.4,1357.4 1850.2,1357.4 1853.1,1357.4 1855.9,1357.4 1858.7,1357.4 1861.5,1357.4 1864.3,1357.5 1867.1,1357.5 1869.9,1357.5 1872.7,1357.5 1875.5,1357.5 1878.3,1357.5 1881.2,1357.5 1884.0,1357.5 1886.8,1357.5 1889.6,1357.5 1892.4,1357.5 1895.2,1357.5 1898.0,1357.5 1900.8,1357.6 1903.6,1357.6 1906.4,1357.6 1909.2,1357.6 1912.1,1357.6 1914.9,1357.6 1917.7,1357.6 1920.5,1357.6 1923.3,1357.6 1926.1,1357.6 1928.9,1357.6 1931.7,1357.6 1934.5,1357.6 1937.4,1357.6 1940.2,1357.6 1943.0,1357.7 1945.8,1357.7 1948.6,1357.7 1951.4,1357.7 1954.2,1357.7 1957.0,1357.7 1959.8,1357.7 1962.6,1357.7 1965.5,1357.7 1968.3,1357.7 1971.1,1357.7 1973.9,1357.7 1976.7,1357.7 1979.5,1357.7"/>
<polyline stroke="#80FFFF" points="293.5,1358.0 296.3,1358.0 299.1,1358.0 301.9,1358.0 304.7,1358.0 307.6,1358.0 310.4,1358.0 313.2,1357.9 316.0,1357.9 318.8,1357.9 321.6,1357.9 324.4,1357.9 327.2,1357.9 330.0,1357.9 332.8,1357.9 335.6,1357.9 338.5,1357.9 341.3,1357.9 344.1,1357.9 346.9,1357.9 349.7,1357.8 352.5,1357.8 355.3,1357.8 358.1,1357.8 360.9,1357.8 363.8,1357.8 366.6,1357.8 369.4,1357.8 372.2,1357.8 375.0,1357.8 377.8,1357.8 380.6,1357.8 383.4,1357.8 386.2,1357.7 389.0,1357.7 391.9,1357.7 394.7,1357.7 397.5,1357.7 400.3,1357.7 403.1,1357.7 405.9,1357.7 408.7,1357.7 411.5,1357.7 414.3,1357.7 417.1,1357.7 419.9,1357.7 422.8,1357.6 425.6,1357.6 428.4,1357.6 431.2,1357.6 434.0,1357.6 436.8,1357.6 439.6,1357.6 442.4,1357.6 445.2,1357.6 448.1,1357.6 450.9,1357.6 453.7,1357.5 456.5,1357.5 459.3,1357.5 462.1,1357.5 464.9,1357.5 467.7,1357.5 470.5,1357.5 473.3,1357.5 476.1,1357.5 479.0,1357.4 481.8,1357.4 484.6,1357.4 487.4,1357.4 490.2,1357.4 493.0,1357.4 495.8,1357.4 498.6,1357.4 501.4,1357.3 504.2,1357.3 507.1,1357.3 509.9,1357.3 512.7,1357.3 515.5,1357.3 518.3,1357.3 521.1,1357.3 523.9,1357.3 526.7,1357.2 529.5,1357.2 532.4,1357.2 535.2,1357.2 538.0,1357.2 540.8,1357.2 543.6,1357.2 546.4,1357.1 549.2,1357.1 552.0,1357.1 554.8,1357.1 557.6,1357.1 560.5,1357.1 563.3,1357.0 566.1,1357.0 568.9,1357.0 571.7,1357.0 574.5,1357.0 577.3,1357.0 580.1,1356.9 582.9,1356.9 585.7,1356.9 588.5,1356.9 591.4,1356.9 594.2,1356.9 597.0,1356.9 599.8,1356.8 602.6,1356.8 605.4,1356.8 608.2,1356.8 611.0,1356.8 613.8,1356.8 616.7,1356.7 619.5,1356.7 622.3,1356.7 625.1,1356.7 627.9,1356.7 630.7,1356.6 633.5,1356.6 636.3,1356.6 639.1,1356.6 641.9,1356.6 644.8,1356.5 647.6,1356.5 650.4,1356.5 653.2,1356.5 656.0,1356.5 658.8,1356.4 661.6,1356.4 664.4,1356.4 667.2,1356.4 670.0,1356.3 672.9,1356.3 675.7,1356.3 678.5,1356.3 681.3,1356.2 684.1,1356.2 686.9,1356.2 689.7,1356.1 692.5,1356.1 695.3,1356.1 698.1,1356.0 701.0,1356.0 703.8,1355.9 706.6,1355.9 709.4,1355.8 712.2,1355.8 715.0,1355.7 717.8,1355.6 720.6,1355.6 723.4,1355.6 726.2,1355.5 729.0,1355.5 731.9,1355.4 734.7,1355.3 737.5,1355.2 740.3,1355.1 743.1,1354.9 745.9,1354.7 748.7,1354.5 751.5,1354.3 754.3,1354.0 757.2,1353.7 760.0,1353.4 762.8,1353.1 765.6,1352.7 768.4,1352.3 771.2,1351.9 774.0,1351.5 776.8,1351.1 779.6,1350.7 782.4,1350.3 785.2,1349.9 788.1,1349.4 790.9,1348.8 793.7,1348.3 796.5,1347.6 799.3,1346.9 802.1,1346.1 804.9,1345.3 807.7,1344.3 810.5,1343.4 813.4,1342.4 816.2,1341.3 819.0,1340.2 821.8,1339.1 824.6,1338.0 827.4,1336.9 830.2,1335.7 833.0,1334.6 835.8,1333.4 838.6,1332.2 841.5,1330.9 844.3,1329.6 847.1,1328.3 849.9,1327.0 852.7,1325.5 855.5,1324.1 858.3,1322.6 861.1,1321.0 863.9,1319.4 866.7,1317.7 869.6,1316.1 872.4,1314.3 875.2,1312.6 878.0,1310.7 880.8,1308.9 883.6,1307.0 886.4,1305.1 889.2,1303.1 892.0,1301.0 894.8,1299.0 897.6,1296.9 900.5,1294.7 903.3,1292.5 906.1,1290.3 908.9,1288.1 911.7,1285.9 914.5,1283.6 917.3,1281.3 920.1,1279.0 922.9,1276.6 925.8,1274.2 928.6,1271.8 931.4,1269.4 934.2,1266.9 937.0,1264.6 939.8,1262.2 942.6,1259.9 945.4,1257.5 948.2,1255.2 951.0,1252.8 953.9,1250.5 956.7,1248.2 959.5,1245.9 962.3,1243.6 965.1,1241.3 967.9,1239.1 970.7,1236.9 973.5,1234.8 976.3,1232.6 979.1,1230.5 982.0,1228.4 984.8,1226.3 987.6,1224.2 990.4,1222.2 993.2,1220.2 996.0,1218.2 998.8,1216.3 1001.6,1214.3 1004.4,1212.4 1007.2,1210.5 1010.1,1208.6 1012.9,1206.8 1015.7,1205.0 1018.5,1203.3 1021.3,1201.6 1024.1,1200.0 1026.9,1198.4 1029.7,1197.0 1032.5,1195.6 1035.3,1194.2 1038.2,1192.9 1041.0,1191.6 1043.8,1190.4 1046.6,1189.1 1049.4,1187.9 1052.2,1186.6 1055.0,1185.4 1057.8,1184.1 1060.6,1182.9 1063.4,1181.6 1066.2,1180.4 1069.1,1179.2 1071.9,1178.1 1074.7,1177.0 1077.5,1175.9 1080.3,1175.0 1083.1,1174.1 1085.9,1173.2 1088.7,1172.4 1091.5,1171.7 1094.3,1171.0 1097.2,1170.4 1100.0,1169.7 1102.8,1169.1 1105.6,1168.5 1108.4,1167.9 1111.2,1167.3 1114.0,1166.7 1116.8,1166.1 1119.6,1165.5 1122.5,1165.0 1125.3,1164.5 1128.1,1164.0 1130.9,1163.5 1133.7,1163.2 1136.5,1162.8 1139.3,1162.5 1142.1,1162.3 1144.9,1162.1 1147.7,1161.9 1150.6,1161.8 1153.4,1161.7 1156.2,1161.6 1159.0,1161.5 1161.8,1161.5 1164.6,1161.5 1167.4,1161.5 1170.2,1161.5 1173.0,1161.6 1175.8,1161.7 1178.7,1161.8 1181.5,1162.0 1184.3,1162.1 1187.1,1162.3 1189.9,1162.4 1192.7,1162.6 1195.5,1162.7 1198.3,1162.9 1201.1,1163.1 1203.9,1163.2 1206.8,1163.4 1209.6,1163.6 1212.4,1163.8 1215.2,1164.0 1218.0,1164.2 1220.8,1164.5 1223.6,1164.8 1226.4,1165.0 1229.2,1165.3 1232.0,1165.6 1234.8,1165.9 1237.7,1166.2 1240.5,1166.6 1243.3,1167.0 1246.1,1167.5 1248.9,1168.0 1251.7,1168.6 1254.5,1169.2 1257.3,1169.9 1260.1,1170.6 1263.0,1171.4 1265.8,1172.2 1268.6,1173.0 1271.4,1173.9 1274.2,1174.8 1277.0,1175.8 1279.8,1176.8 1282.6,1177.8 1285.4,1178.9 1288.2,1180.0 1291.1,1181.1 1293.9,1182.3 1296.7,1183.6 1299.5,1184.9 1302.3,1186.3 1305.1,1187.7 1307.9,1189.3 1310.7,1190.9 1313.5,1192.7 1316.3,1194.5 1319.2,1196.3 1322.0,1198.2 1324.8,1200.1 1327.6,1202.0 1330.4,1203.9 1333.2,1205.7 1336.0,1207.5 1338.8,1209.3 1341.6,1211.0 1344.4,1212.8 1347.2,1214.6 1350.1,1216.3 1352.9,1218.1 1355.7,1219.9 1358.5,1221.8 1361.3,1223.6 1364.1,1225.5 1366.9,1227.5 1369.7,1229.4 1372.5,1231.4 1375.4,1233.4 1378.2,1235.4 1381.0,1237.4 1383.8,1239.4 1386.6,1241.5 1389.4,1243.5 1392.2,1245.5 1395.0,1247.6 1397.8,1249.7 1400.6,1251.8 1403.5,1253.9 1406.3,1256.0 1409.1,1258.1 1411.9,1260.2 1414.7,1262.3 1417.5,1264.4 1420.3,1266.5 1423.1,1268.6 1425.9,1270.7 1428.7,1272.8 1431.5,1274.9 1434.4,1277.0 1437.2,1279.1 1440.0,1281.1 1442.8,1283.1 1445.6,1285.1 1448.4,1287.0 1451.2,1288.9 1454.0,1290.8 1456.8,1292.6 1459.7,1294.4 1462.5,1296.2 1465.3,1298.0 1468.1,1299.7 1470.9,1301.5 1473.7,1303.2 1476.5,1305.0 1479.3,1306.7 1482.1,1308.5 1484.9,1310.3 1487.8,1312.0 1490.6,1313.7 1493.4,1315.4 1496.2,1317.0 1499.0,1318.5 1501.8,1320.0 1504.6,1321.3 1507.4,1322.6 1510.2,1323.9 1513.0,1325.1 1515.9,1326.2 1518.7,1327.3 1521.5,1328.4 1524.3,1329.4 1527.1,1330.4 1529.9,1331.4 1532.7,1332.4 1535.5,1333.4 1538.3,1334.3 1541.1,1335.2 1544.0,1336.0 1546.8,1336.9 1549.6,1337.7 1552.4,1338.5 1555.2,1339.3 1558.0,1340.0 1560.8,1340.8 1563.6,1341.6 1566.4,1342.3 1569.2,1343.1 1572.0,1343.8 1574.9,1344.5 1577.7,1345.1 1580.5,1345.8 1583.3,1346.4 1586.1,1346.9 1588.9,1347.5 1591.7,1348.0 1594.5,1348.4 1597.3,1348.8 1600.2,1349.2 1603.0,1349.6 1605.8,1350.0 1608.6,1350.4 1611.4,1350.7 1614.2,1351.1 1617.0,1351.4 1619.8,1351.8 1622.6,1352.1 1625.4,1352.4 1628.2,1352.8 1631.1,1353.0 1633.9,1353.3 1636.7,1353.6 1639.5,1353.8 1642.3,1354.1 1645.1,1354.3 1647.9,1354.4 1650.7,1354.6 1653.5,1354.7 1656.4,1354.8 1659.2,1354.9 1662.0,1355.0 1664.8,1355.1 1667.6,1355.2 1670.4,1355.3 1673.2,1355.4 1676.0,1355.5 1678.8,1355.6 1681.6,1355.7 1684.5,1355.8 1687.3,1355.9 1690.1,1355.9 1692.9,1356.0 1695.7,1356.1 1698.5,1356.1 1701.3,1356.2 1704.1,1356.3 1706.9,1356.3 1709.7,1356.4 1712.6,1356.4 1715.4,1356.5 1718.2,1356.5 1721.0,1356.6 1723.8,1356.6 1726.6,1356.7 1729.4,1356.7 1732.2,1356.8 1735.0,1356.8 1737.8,1356.8 1740.7,1356.9 1743.5,1356.9 1746.3,1357.0 1749.1,1357.0 1751.9,1357.0 1754.7,1357.1 1757.5,1357.1 1760.3,1357.1 1763.1,1357.2 1765.9,1357.2 1768.8,1357.2 1771.6,1357.3 1774.4,1357.3 1777.2,1357.3 1780.0,1357.4 1782.8,1357.4 1785.6,1357.4 1788.4,1357.4 1791.2,1357.4 1794.0,1357.5 1796.9,1357.5 1799.7,1357.5 1802.5,1357.5 1805.3,1357.5 1808.1,1357.5 1810.9,1357.5 1813.7,1357.5 1816.5,1357.6 1819.3,1357.6 1822.1,1357.6 1825.0,1357.6 1827.8,1357.6 1830.6,1357.6 1833.4,1357.6 1836.2,1357.6 1839.0,1357.6 1841.8,1357.6 1844.6,1357.6 1847.4,1357.7 1850.2,1357.7 1853.1,1357.7 1855.9,1357.7 1858.7,1357.7 1861.5,1357.7 1864.3,1357.7 1867.1,1357.7 1869.9,1357.7 1872.7,1357.7 1875.5,1357.7 1878.3,1357.7 1881.2,1357.7 1884.0,1357.7 1886.8,1357.8 1889.6,1357.8 1892.4,1357.8 1895.2,1357.8 1898.0,1357.8 1900.8,1357.8 1903.6,1357.8 1906.4,1357.8 1909.2,1357.8 1912.1,1357.8 1914.9,1357.8 1917.7,1357.8 1920.5,1357.8 1923.3,1357.8 1926.1,1357.8 1928.9,1357.8 1931.7,1357.8 1934.5,1357.8 1937.4,1357.9 1940.2,1357.9 1943.0,1357.9 1945.8,1357.9 1948.6,1357.9 1951.4,1357.9 1954.2,1357.9 1957.0,1357.9 1959.8,1357.9 1962.6,1357.9 1965.5,1357.9 1968.3,1357.9 1971.1,1357.9 1973.9,1357.9 1976.7,1357.9 1979.5,1357.9"/>
<polyline stroke="#FF80FF" points="293.5,1358.1 296.3,1358.1 299.1,1358.0 301.9,1358.0 304.7,1358.0 307.6,1358.0 310.4,1358.0 313.2,1358.0 316.0,1358.0 318.8,1358.0 321.6,1358.0 324.4,1358.0 327.2,1358.0 330.0,1358.0 332.8,1358.0 335.6,1358.0 338.5,1358.0 341.3,1358.0 344.1,1358.0 346.9,1357.9 349.7,1357.9 352.5,1357.9 355.3,1357.9 358.1,1357.9 360.9,1357.9 363.8,1357.9 366.6,1357.9 369.4,1357.9 372.2,1357.9 375.0,1357.9 377.8,1357.9 380.6,1357.9 383.4,1357.9 386.2,1357.9 389.0,1357.8 391.9,1357.8 394.7,1357.8 397.5,1357.8 400.3,1357.8 403.1,1357.8 405.9,1357.8 408.7,1357.8 411.5,1357.8 414.3,1357.8 417.1,1357.8 419.9,1357.8 422.8,1357.8 425.6,1357.8 428.4,1357.8 431.2,1357.7 434.0,1357.7 436.8,1357.7 439.6,1357.7 442.4,1357.7 445.2,1357.7 448.1,1357.7 450.9,1357.7 453.7,1357.7 456.5,1357.7 459.3,1357.7 462.1,1357.7 464.9,1357.6 467.7,1357.6 470.5,1357.6 473.3,1357.6 476.1,1357.6 479.0,1357.6 481.8,1357.6 484.6,1357.6 487.4,1357.6 490.2,1357.5 493.0,1357.5 495.8,1357.5 498.6,1357.5 501.4,1357.5 504.2,1357.5 507.1,1357.5 509.9,1357.5 512.7,1357.5 515.5,1357.5 518.3,1357.4 521.1,1357.4 523.9,1357.4 526.7,1357.4 529.5,1357.4 532.4,1357.4 535.2,1357.4 538.0,1357.4 540.8,1357.4 543.6,1357.3 546.4,1357.3 549.2,1357.3 552.0,1357.3 554.8,1357.3 557.6,1357.3 560.5,1357.3 563.3,1357.2 566.1,1357.2 568.9,1357.2 571.7,1357.2 574.5,1357.2 577.3,1357.2 580.1,1357.2 582.9,1357.2 585.7,1357.1 588.5,1357.1 591.4,1357.1 594.2,1357.1 597.0,1357.1 599.8,1357.1 602.6,1357.1 605.4,1357.0 608.2,1357.0 611.0,1357.0 613.8,1357.0 616.7,1357.0 619.5,1357.0 622.3,1357.0 625.1,1356.9 627.9,1356.9 630.7,1356.9 633.5,1356.9 636.3,1356.9 639.1,1356.9 641.9,1356.8 644.8,1356.8 647.6,1356.8 650.4,1356.8 653.2,1356.8 656.0,1356.7 658.8,1356.7 661.6,1356.7 664.4,1356.7 667.2,1356.7 670.0,1356.6 672.9,1356.6 675.7,1356.6 678.5,1356.6 681.3,1356.6 684.1,1356.5 686.9,1356.5 689.7,1356.5 692.5,1356.4 695.3,1356.4 698.1,1356.4 701.0,1356.3 703.8,1356.3 706.6,1356.2 709.4,1356.2 712.2,1356.1 715.0,1356.1 717.8,1356.0 720.6,1356.0 723.4,1356.0 726.2,1356.0 729.0,1355.9 731.9,1355.9 734.7,1355.8 737.5,1355.7 740.3,1355.6 743.1,1355.4 745.9,1355.3 748.7,1355.1 751.5,1354.8 754.3,1354.6 757.2,1354.3 760.0,1354.0 762.8,1353.7 765.6,1353.3 768.4,1353.0 771.2,1352.6 774.0,1352.3 776.8,1351.9 779.6,1351.6 782.4,1351.2 785.2,1350.8 788.1,1350.3 790.9,1349.9 793.7,1349.4 796.5,1348.8 799.3,1348.2 802.1,1347.5 804.9,1346.8 807.7,1346.0 810.5,1345.1 813.4,1344.2 816.2,1343.3 819.0,1342.4 821.8,1341.5 824.6,1340.5 827.4,1339.5 830.2,1338.5 833.0,1337.6 835.8,1336.5 838.6,1335.5 841.5,1334.5 844.3,1333.4 847.1,1332.3 849.9,1331.1 852.7,1329.9 855.5,1328.7 858.3,1327.4 861.1,1326.1 863.9,1324.7 866.7,1323.3 869.6,1321.9 872.4,1320.4 875.2,1318.9 878.0,1317.4 880.8,1315.8 883.6,1314.2 886.4,1312.6 889.2,1310.8 892.0,1309.1 894.8,1307.3 897.6,1305.5 900.5,1303.6 903.3,1301.8 906.1,1299.9 908.9,1298.0 911.7,1296.0 914.5,1294.1 917.3,1292.1 920.1,1290.1 922.9,1288.0 925.8,1286.0 928.6,1283.9 931.4,1281.8 934.2,1279.8 937.0,1277.7 939.8,1275.7 942.6,1273.7 945.4,1271.7 948.2,1269.6 951.0,1267.6 953.9,1265.6 956.7,1263.6 959.5,1261.6 962.3,1259.7 965.1,1257.7 967.9,1255.8 970.7,1253.9 973.5,1252.1 976.3,1250.2 979.1,1248.4 982.0,1246.6 984.8,1244.8 987.6,1243.0 990.4,1241.3 993.2,1239.5 996.0,1237.8 998.8,1236.2 1001.6,1234.5 1004.4,1232.9 1007.2,1231.2 1010.1,1229.6 1012.9,1228.1 1015.7,1226.5 1018.5,1225.1 1021.3,1223.6 1024.1,1222.3 1026.9,1220.9 1029.7,1219.7 1032.5,1218.5 1035.3,1217.4 1038.2,1216.3 1041.0,1215.2 1043.8,1214.1 1046.6,1213.0 1049.4,1212.0 1052.2,1210.9 1055.0,1209.8 1057.8,1208.7 1060.6,1207.6 1063.4,1206.5 1066.2,1205.4 1069.1,1204.4 1071.9,1203.4 1074.7,1202.4 1077.5,1201.5 1080.3,1200.6 1083.1,1199.8 1085.9,1199.0 1088.7,1198.3 1091.5,1197.6 1094.3,1196.9 1097.2,1196.3 1100.0,1195.7 1102.8,1195.2 1105.6,1194.6 1108.4,1194.1 1111.2,1193.5 1114.0,1193.0 1116.8,1192.5 1119.6,1192.0 1122.5,1191.6 1125.3,1191.1 1128.1,1190.7 1130.9,1190.4 1133.7,1190.0 1136.5,1189.7 1139.3,1189.5 1142.1,1189.3 1144.9,1189.1 1147.7,1189.0 1150.6,1188.9 1153.4,1188.8 1156.2,1188.8 1159.0,1188.8 1161.8,1188.7 1164.6,1188.7 1167.4,1188.7 1170.2,1188.7 1173.0,1188.7 1175.8,1188.8 1178.7,1188.8 1181.5,1188.9 1184.3,1189.0 1187.1,1189.1 1189.9,1189.2 1192.7,1189.3 1195.5,1189.4 1198.3,1189.5 1201.1,1189.6 1203.9,1189.7 1206.8,1189.8 1209.6,1190.0 1212.4,1190.1 1215.2,1190.3 1218.0,1190.5 1220.8,1190.8 1223.6,1191.0 1226.4,1191.3 1229.2,1191.6 1232.0,1191.9 1234.8,1192.2 1237.7,1192.6 1240.5,1193.0 1243.3,1193.4 1246.1,1193.9 1248.9,1194.5 1251.7,1195.1 1254.5,1195.7 1257.3,1196.4 1260.1,1197.2 1263.0,1198.0 1265.8,1198.8 1268.6,1199.6 1271.4,1200.5 1274.2,1201.4 1277.0,1202.4 1279.8,1203.3 1282.6,1204.3 1285.4,1205.3 1288.2,1206.3 1291.1,1207.4 1293.9,1208.5 1296.7,1209.7 1299.5,1210.9 1302.3,1212.1 1305.1,1213.4 1307.9,1214.7 1310.7,1216.2 1313.5,1217.7 1316.3,1219.2 1319.2,1220.8 1322.0,1222.4 1324.8,1224.0 1327.6,1225.6 1330.4,1227.1 1333.2,1228.7 1336.0,1230.2 1338.8,1231.6 1341.6,1233.1 1344.4,1234.5 1347.2,1235.9 1350.1,1237.4 1352.9,1238.9 1355.7,1240.3 1358.5,1241.8 1361.3,1243.4 1364.1,1244.9 1366.9,1246.5 1369.7,1248.1 1372.5,1249.8 1375.4,1251.4 1378.2,1253.1 1381.0,1254.7 1383.8,1256.4 1386.6,1258.1 1389.4,1259.8 1392.2,1261.5 1395.0,1263.3 1397.8,1265.0 1400.6,1266.8 1403.5,1268.6 1406.3,1270.4 1409.1,1272.2 1411.9,1274.0 1414.7,1275.8 1417.5,1277.6 1420.3,1279.3 1423.1,1281.1 1425.9,1283.0 1428.7,1284.8 1431.5,1286.6 1434.4,1288.4 1437.2,1290.2 1440.0,1292.0 1442.8,1293.7 1445.6,1295.4 1448.4,1297.0 1451.2,1298.6 1454.0,1300.2 1456.8,1301.8 1459.7,1303.3 1462.5,1304.8 1465.3,1306.3 1468.1,1307.8 1470.9,1309.3 1473.7,1310.8 1476.5,1312.3 1479.3,1313.8 1482.1,1315.3 1484.9,1316.8 1487.8,1318.3 1490.6,1319.7 1493.4,1321.1 1496.2,1322.5 1499.0,1323.8 1501.8,1325.0 1504.6,1326.2 1507.4,1327.3 1510.2,1328.4 1513.0,1329.4 1515.9,1330.4 1518.7,1331.3 1521.5,1332.2 1524.3,1333.1 1527.1,1334.0 1529.9,1334.9 1532.7,1335.7 1535.5,1336.5 1538.3,1337.3 1541.1,1338.1 1544.0,1338.8 1546.8,1339.6 1549.6,1340.3 1552.4,1341.0 1555.2,1341.7 1558.0,1342.3 1560.8,1343.0 1563.6,1343.7 1566.4,1344.3 1569.2,1345.0 1572.0,1345.6 1574.9,1346.2 1577.7,1346.8 1580.5,1347.3 1583.3,1347.9 1586.1,1348.4 1588.9,1348.8 1591.7,1349.3 1594.5,1349.7 1597.3,1350.1 1600.2,1350.4 1603.0,1350.8 1605.8,1351.1 1608.6,1351.4 1611.4,1351.7 1614.2,1352.0 1617.0,1352.4 1619.8,1352.7 1622.6,1353.0 1625.4,1353.2 1628.2,1353.5 1631.1,1353.8 1633.9,1354.0 1636.7,1354.3 1639.5,1354.5 1642.3,1354.7 1645.1,1354.9 1647.9,1355.0 1650.7,1355.1 1653.5,1355.3 1656.4,1355.4 1659.2,1355.4 1662.0,1355.5 1664.8,1355.6 1667.6,1355.7 1670.4,1355.8 1673.2,1355.9 1676.0,1356.0 1678.8,1356.0 1681.6,1356.1 1684.5,1356.2 1687.3,1356.2 1690.1,1356.3 1692.9,1356.3 1695.7,1356.4 1698.5,1356.5 1701.3,1356.5 1704.1,1356.6 1706.9,1356.6 1709.7,1356.7 1712.6,1356.7 1715.4,1356.8 1718.2,1356.8 1721.0,1356.8 1723.8,1356.9 1726.6,1356.9 1729.4,1357.0 1732.2,1357.0 1735.0,1357.0 1737.8,1357.1 1740.7,1357.1 1743.5,1357.1 1746.3,1357.2 1749.1,1357.2 1751.9,1357.2 1754.7,1357.3 1757.5,1357.3 1760.3,1357.3 1763.1,1357.4 1765.9,1357.4 1768.8,1357.4 1771.6,1357.4 1774.4,1357.5 1777.2,1357.5 1780.0,1357.5 1782.8,1357.5 1785.6,1357.6 1788.4,1357.6 1791.2,1357.6 1794.0,1357.6 1796.9,1357.6 1799.7,1357.6 1802.5,1357.6 1805.3,1357.6 1808.1,1357.7 1810.9,1357.7 1813.7,1357.7 1816.5,1357.7 1819.3,1357.7 1822.1,1357.7 1825.0,1357.7 1827.8,1357.7 1830.6,1357.7 1833.4,1357.7 1836.2,1357.7 1839.0,1357.8 1841.8,1357.8 1844.6,1357.8 1847.4,1357.8 1850.2,1357.8 1853.1,1357.8 1855.9,1357.8 1858.7,1357.8 1861.5,1357.8 1864.3,1357.8 1867.1,1357.8 1869.9,1357.8 1872.7,1357.8 1875.5,1357.8 1878.3,1357.8 1881.2,1357.8 1884.0,1357.9 1886.8,1357.9 1889.6,1357.9 1892.4,1357.9 1895.2,1357.9 1898.0,1357.9 1900.8,1357.9 1903.6,1357.9 1906.4,1357.9 1909.2,1357.9 1912.1,1357.9 1914.9,1357.9 1917.7,1357.9 1920.5,1357.9 1923.3,1357.9 1926.1,1357.9 1928.9,1357.9 1931.7,1357.9 1934.5,1357.9 1937.4,1357.9 1940.2,1357.9 1943.0,1357.9 1945.8,1358.0 1948.6,1358.0 1951.4,1358.0 1954.2,1358.0 1957.0,1358.0 1959.8,1358.0 1962.6,1358.0 1965.5,1358.0 1968.3,1358.0 1971.1,1358.0 1973.9,1358.0 1976.7,1358.0 1979.5,1358.0"/>
</g>
<g font-family="'Liberation Sans', Arial, sans-serif" font-weight="bold" fill="#000">
<g font-size="77.2px" text-anchor="end">
<text transform="translate(248,1381.9) scale(1,1.03)">0</text>
<text transform="translate(248,1201.0) scale(1,1.03)">30</text>
<text transform="translate(248,1020.2) scale(1,1.03)">60</text>
<text transform="translate(248,839.3) scale(1,1.03)">90</text>
<text transform="translate(248,658.5) scale(1,1.03)">120</text>
<text transform="translate(248,477.6) scale(1,1.03)">150</text>
<text transform="translate(248,296.8) scale(1,1.03)">180</text>
<text transform="translate(248,115.9) scale(1,1.03)">210</text>
</g>
<g font-size="77.2px" text-anchor="middle">
<text transform="translate(293.5,1494.3) scale(1,1.03)">370</text>
<text transform="translate(574.5,1494.3) scale(1,1.03)">380</text>
<text transform="translate(855.5,1494.3) scale(1,1.03)">390</text>
<text transform="translate(1136.5,1494.3) scale(1,1.03)">400</text>
<text transform="translate(1417.5,1494.3) scale(1,1.03)">410</text>
<text transform="translate(1698.5,1494.3) scale(1,1.03)">420</text>
<text transform="translate(1979.5,1494.3) scale(1,1.03)">430</text>
</g>
<text font-size="83.4px" text-anchor="middle" x="1137.0" y="1600.4">Wavelength (nm)</text>
<text font-size="83.5px" text-anchor="middle" transform="translate(93,675.8) rotate(-90)">Absorbance (a.u.)</text>
</g>
<rect x="1687" y="63" width="278" height="1250" fill="#fff" stroke="#000" stroke-width="2" shape-rendering="crispEdges"/>
<g shape-rendering="crispEdges">
<rect x="1692" y="92" width="90" height="8" fill="#000000"/>
<rect x="1692" y="146" width="90" height="8" fill="#FF0000"/>
<rect x="1692" y="200" width="90" height="8" fill="#00FF00"/>
<rect x="1692" y="254" width="90" height="8" fill="#0000FF"/>
<rect x="1692" y="308" width="90" height="8" fill="#00FFFF"/>
<rect x="1692" y="362" width="90" height="8" fill="#FF00FF"/>
<rect x="1692" y="416" width="90" height="8" fill="#FFFF00"/>
<rect x="1692" y="470" width="90" height="8" fill="#808000"/>
<rect x="1692" y="524" width="90" height="8" fill="#000080"/>
<rect x="1692" y="579" width="90" height="8" fill="#800080"/>
<rect x="1692" y="633" width="90" height="8" fill="#800000"/>
<rect x="1692" y="687" width="90" height="8" fill="#008000"/>
<rect x="1692" y="741" width="90" height="8" fill="#008080"/>
<rect x="1692" y="795" width="90" height="8" fill="#0000A0"/>
<rect x="1692" y="849" width="90" height="8" fill="#FF8000"/>
<rect x="1692" y="903" width="90" height="8" fill="#8000FF"/>
<rect x="1692" y="957" width="90" height="8" fill="#FF0080"/>
<rect x="1692" y="1012" width="90" height="8" fill="#FBD5B5"/>
<rect x="1692" y="1066" width="90" height="8" fill="#C0C0C0"/>
<rect x="1692" y="1120" width="90" height="8" fill="#808080"/>
<rect x="1692" y="1174" width="90" height="8" fill="#FFFF80"/>
<rect x="1692" y="1228" width="90" height="8" fill="#80FFFF"/>
<rect x="1692" y="1282" width="90" height="8" fill="#FF80FF"/>
</g>
<g font-family="'Liberation Sans', Arial, sans-serif" font-size="39.9px" fill="#000">
<text transform="translate(1793.2,108.7) scale(1,1.075)">0.0 <tspan font-family="'Liberation Serif', 'Times New Roman', serif" font-size="43px">μ</tspan>M</text>
<text transform="translate(1793.2,162.8) scale(1,1.075)">10.0 <tspan font-family="'Liberation Serif', 'Times New Roman', serif" font-size="43px">μ</tspan>M</text>
<text transform="translate(1793.2,216.9) scale(1,1.075)">20.0 <tspan font-family="'Liberation Serif', 'Times New Roman', serif" font-size="43px">μ</tspan>M</text>
<text transform="translate(1793.2,271.1) scale(1,1.075)">30.0 <tspan font-family="'Liberation Serif', 'Times New Roman', serif" font-size="43px">μ</tspan>M</text>
<text transform="translate(1793.2,325.2) scale(1,1.075)">40.0 <tspan font-family="'Liberation Serif', 'Times New Roman', serif" font-size="43px">μ</tspan>M</text>
<text transform="translate(1793.2,379.3) scale(1,1.075)">50.0 <tspan font-family="'Liberation Serif', 'Times New Roman', serif" font-size="43px">μ</tspan>M</text>
<text transform="translate(1793.2,433.4) scale(1,1.075)">60.0 <tspan font-family="'Liberation Serif', 'Times New Roman', serif" font-size="43px">μ</tspan>M</text>
<text transform="translate(1793.2,487.5) scale(1,1.075)">70.0 <tspan font-family="'Liberation Serif', 'Times New Roman', serif" font-size="43px">μ</tspan>M</text>
<text transform="translate(1793.2,541.7) scale(1,1.075)">80.0 <tspan font-family="'Liberation Serif', 'Times New Roman', serif" font-size="43px">μ</tspan>M</text>
<text transform="translate(1793.2,595.8) scale(1,1.075)">90.0 <tspan font-family="'Liberation Serif', 'Times New Roman', serif" font-size="43px">μ</tspan>M</text>
<text transform="translate(1793.2,649.9) scale(1,1.075)">100.0 <tspan font-family="'Liberation Serif', 'Times New Roman', serif" font-size="43px">μ</tspan>M</text>
<text transform="translate(1793.2,704.0) scale(1,1.075)">110.0 <tspan font-family="'Liberation Serif', 'Times New Roman', serif" font-size="43px">μ</tspan>M</text>
<text transform="translate(1793.2,758.1) scale(1,1.075)">120.0 <tspan font-family="'Liberation Serif', 'Times New Roman', serif" font-size="43px">μ</tspan>M</text>
<text transform="translate(1793.2,812.3) scale(1,1.075)">130.0 <tspan font-family="'Liberation Serif', 'Times New Roman', serif" font-size="43px">μ</tspan>M</text>
<text transform="translate(1793.2,866.4) scale(1,1.075)">140.0 <tspan font-family="'Liberation Serif', 'Times New Roman', serif" font-size="43px">μ</tspan>M</text>
<text transform="translate(1793.2,920.5) scale(1,1.075)">150.0 <tspan font-family="'Liberation Serif', 'Times New Roman', serif" font-size="43px">μ</tspan>M</text>
<text transform="translate(1793.2,974.6) scale(1,1.075)">160.0 <tspan font-family="'Liberation Serif', 'Times New Roman', serif" font-size="43px">μ</tspan>M</text>
<text transform="translate(1793.2,1028.7) scale(1,1.075)">170.0 <tspan font-family="'Liberation Serif', 'Times New Roman', serif" font-size="43px">μ</tspan>M</text>
<text transform="translate(1793.2,1082.9) scale(1,1.075)">180.0 <tspan font-family="'Liberation Serif', 'Times New Roman', serif" font-size="43px">μ</tspan>M</text>
<text transform="translate(1793.2,1137.0) scale(1,1.075)">190.0 <tspan font-family="'Liberation Serif', 'Times New Roman', serif" font-size="43px">μ</tspan>M</text>
<text transform="translate(1793.2,1191.1) scale(1,1.075)">200.0 <tspan font-family="'Liberation Serif', 'Times New Roman', serif" font-size="43px">μ</tspan>M</text>
<text transform="translate(1793.2,1245.2) scale(1,1.075)">210.0 <tspan font-family="'Liberation Serif', 'Times New Roman', serif" font-size="43px">μ</tspan>M</text>
<text transform="translate(1793.2,1299.3) scale(1,1.075)">220.0 <tspan font-family="'Liberation Serif', 'Times New Roman', serif" font-size="43px">μ</tspan>M</text>
</g>
</svg>
</body></html>
